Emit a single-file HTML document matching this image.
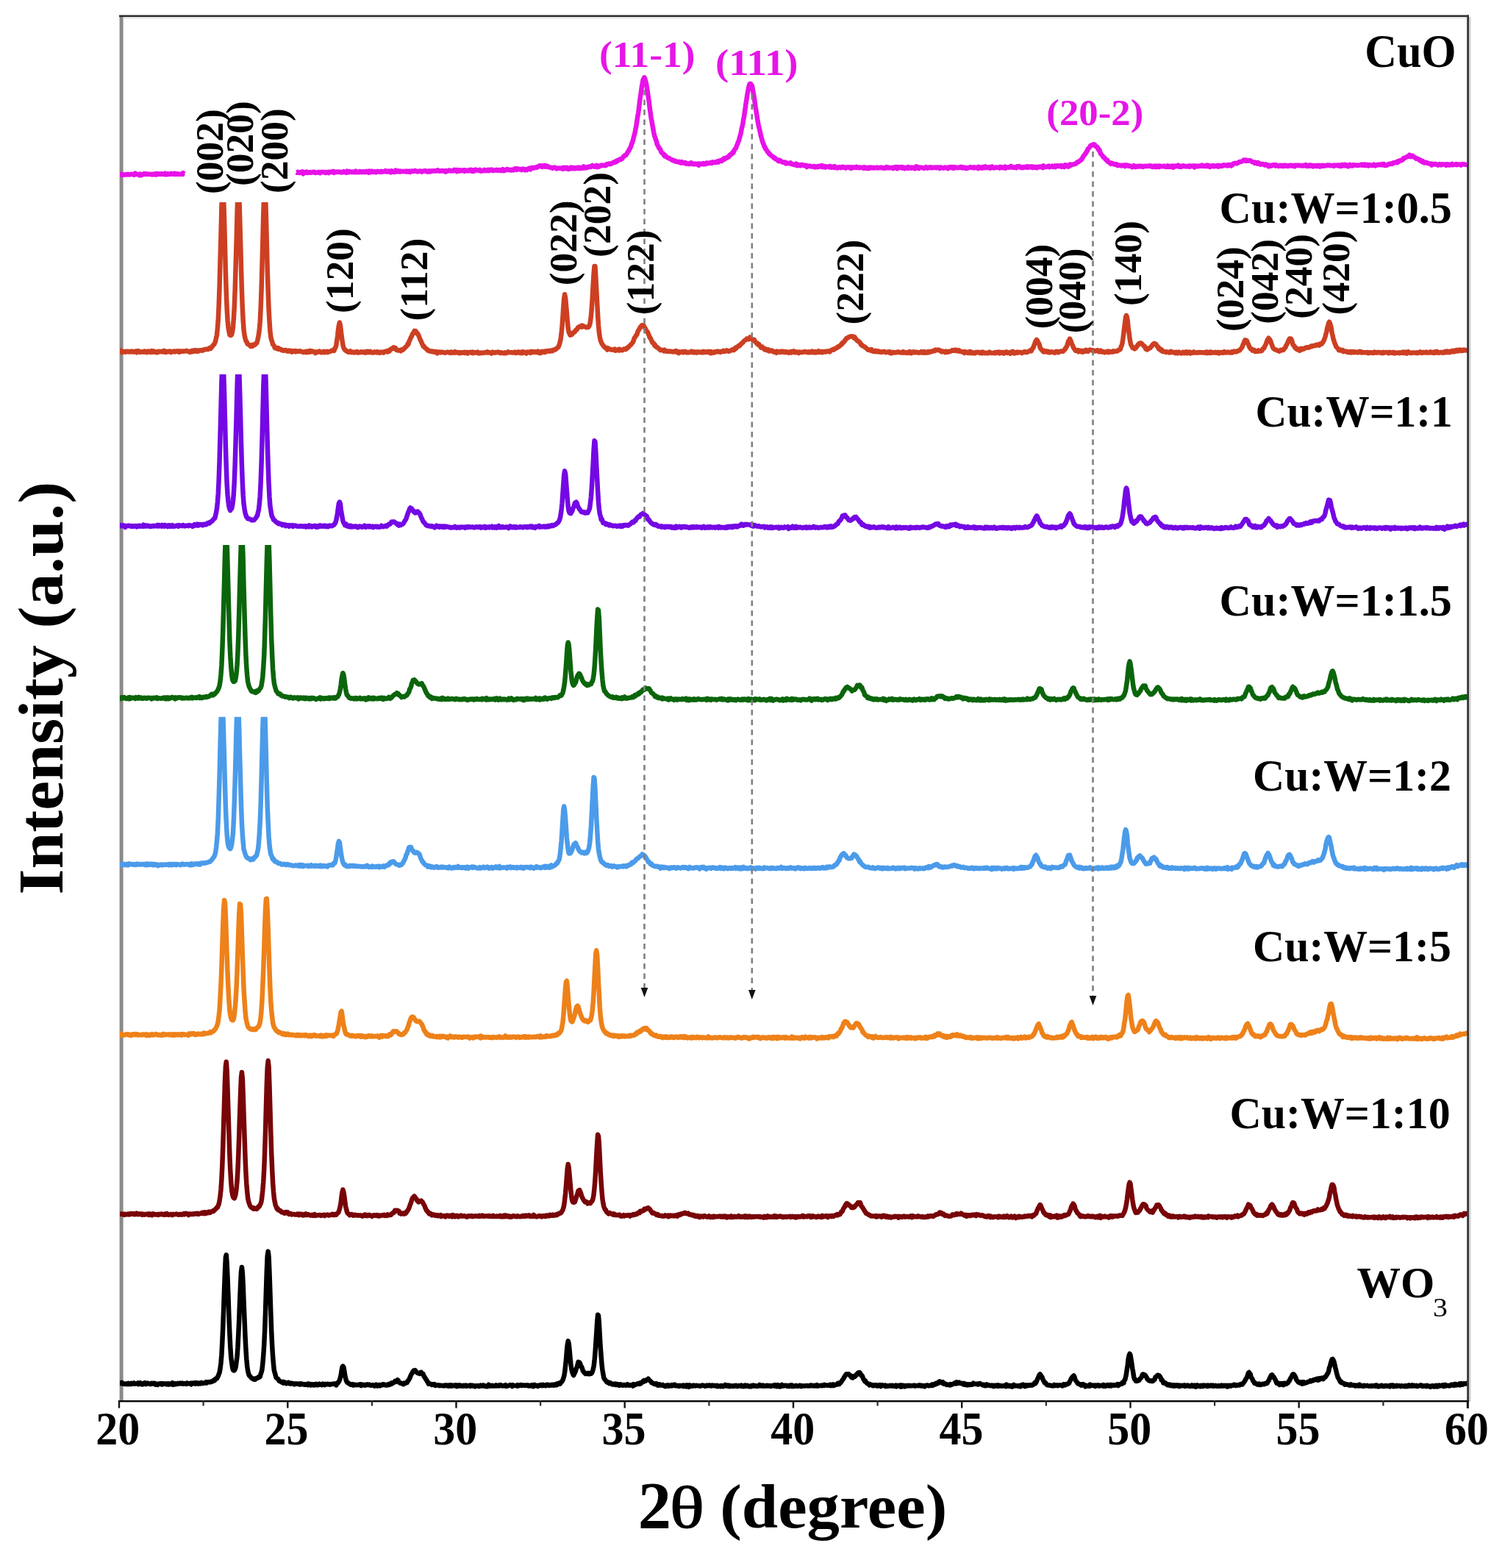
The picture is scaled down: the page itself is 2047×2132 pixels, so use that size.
<!DOCTYPE html><html><head><meta charset="utf-8"><title>XRD patterns of CuO, Cu:W samples and WO3</title>
<style>html,body{margin:0;padding:0;background:#fff;overflow:hidden;}svg{display:block;}text{font-family:"Liberation Serif","Times New Roman",serif;}</style></head><body>
<svg xmlns="http://www.w3.org/2000/svg" width="2047" height="2132" viewBox="0 0 2047 2132">
<rect width="2047" height="2132" fill="#fff"/>
<defs>
<clipPath id="c1"><rect x="150" y="275.0" width="1860" height="2000"/></clipPath>
<clipPath id="c2"><rect x="150" y="509.0" width="1860" height="2000"/></clipPath>
<clipPath id="c3"><rect x="150" y="741.0" width="1860" height="2000"/></clipPath>
<clipPath id="c4"><rect x="150" y="974.7" width="1860" height="2000"/></clipPath>
<clipPath id="plot"><rect x="163" y="23" width="1834" height="1881"/></clipPath>
</defs>
<rect x="162.6" y="21" width="5" height="1885" fill="#8a8a8a"/>
<g fill="none" stroke-width="6.5" stroke-linejoin="round" stroke-linecap="butt" clip-path="url(#plot)">
<path stroke="#e812e8" d="M162.0,237.6 L162.9,237.9 L163.8,237.6 L164.8,236.7 L165.7,237.9 L166.6,237.6 L167.5,237.1 L168.4,237.7 L169.3,237.5 L170.3,237.5 L171.2,237.3 L172.1,237.6 L173.0,236.9 L173.9,237.2 L174.8,237.0 L175.8,237.6 L176.7,237.3 L177.6,237.1 L178.5,236.8 L179.4,237.1 L180.3,237.2 L181.3,237.1 L182.2,237.9 L183.1,237.7 L184.0,235.7 L184.9,236.1 L185.8,237.1 L186.8,236.9 L187.7,237.3 L188.6,237.2 L189.5,238.3 L190.4,236.5 L191.3,236.9 L192.3,238.2 L193.2,237.4 L194.1,237.4 L195.0,236.8 L195.9,236.1 L196.8,237.1 L197.8,237.1 L198.7,236.3 L199.6,236.6 L200.5,237.0 L201.4,236.5 L202.3,236.9 L203.3,237.0 L204.2,237.0 L205.1,236.7 L206.0,237.3 L206.9,237.4 L207.8,237.1 L208.8,236.5 L209.7,237.3 L210.6,236.6 L211.5,237.4 L212.4,236.3 L213.4,237.4 L214.3,236.8 L215.2,236.1 L216.1,236.6 L217.0,236.8 L217.9,236.9 L218.9,236.2 L219.8,236.2 L220.7,236.9 L221.6,236.5 L222.5,236.9 L223.4,237.2 L224.4,235.8 L225.3,236.9 L226.2,237.4 L227.1,236.5 L228.0,236.2 L228.9,237.1 L229.9,236.8 L230.8,237.1 L231.7,236.5 L232.6,235.8 L233.5,236.6 L234.4,236.4 L235.4,237.0 L236.3,236.7 L237.2,235.7 L238.1,235.9 L239.0,237.0 L239.9,236.9 L240.9,236.2 L241.8,236.5 L242.7,236.8 L243.6,236.8 L244.5,237.0 L245.4,236.6 L246.4,236.4 L247.3,236.3 L248.2,237.0 L249.1,235.2 L250.0,236.4 L250.9,236.4 M403.2,234.1 L404.1,234.7 L405.0,233.9 L405.9,234.7 L406.8,234.6 L407.8,235.1 L408.7,234.1 L409.6,234.3 L410.5,234.8 L411.4,233.3 L412.3,236.3 L413.3,234.2 L414.2,234.2 L415.1,235.0 L416.0,234.5 L416.9,233.6 L417.8,234.9 L418.8,235.0 L419.7,234.3 L420.6,234.3 L421.5,234.8 L422.4,234.0 L423.3,234.7 L424.3,234.6 L425.2,234.1 L426.1,233.7 L427.0,234.3 L427.9,233.9 L428.8,235.0 L429.8,234.5 L430.7,234.8 L431.6,234.4 L432.5,234.5 L433.4,233.9 L434.3,234.7 L435.3,235.3 L436.2,234.2 L437.1,234.0 L438.0,234.2 L438.9,234.0 L439.9,233.9 L440.8,234.3 L441.7,234.1 L442.6,235.0 L443.5,234.2 L444.4,234.4 L445.4,234.7 L446.3,234.0 L447.2,235.0 L448.1,233.8 L449.0,233.7 L449.9,234.0 L450.9,234.1 L451.8,233.4 L452.7,234.1 L453.6,233.2 L454.5,234.9 L455.4,234.0 L456.4,233.7 L457.3,233.6 L458.2,233.9 L459.1,233.9 L460.0,233.5 L460.9,233.5 L461.9,233.9 L462.8,233.7 L463.7,234.5 L464.6,234.6 L465.5,234.0 L466.4,234.2 L467.4,233.2 L468.3,234.3 L469.2,233.9 L470.1,234.2 L471.0,234.8 L471.9,232.6 L472.9,234.0 L473.8,233.3 L474.7,234.2 L475.6,233.1 L476.5,233.6 L477.4,233.9 L478.4,234.2 L479.3,233.9 L480.2,233.4 L481.1,233.5 L482.0,234.3 L482.9,233.8 L483.9,232.8 L484.8,234.2 L485.7,234.0 L486.6,234.2 L487.5,233.5 L488.5,234.2 L489.4,233.1 L490.3,234.0 L491.2,233.4 L492.1,234.0 L493.0,234.2 L494.0,233.2 L494.9,233.6 L495.8,233.6 L496.7,234.3 L497.6,234.0 L498.5,232.9 L499.5,233.8 L500.4,234.0 L501.3,234.7 L502.2,232.6 L503.1,233.2 L504.0,234.2 L505.0,232.8 L505.9,232.8 L506.8,233.8 L507.7,234.0 L508.6,233.1 L509.5,233.7 L510.5,233.5 L511.4,234.3 L512.3,233.4 L513.2,233.9 L514.1,232.9 L515.0,233.3 L516.0,233.3 L516.9,234.0 L517.8,233.7 L518.7,232.9 L519.6,233.7 L520.5,233.7 L521.5,233.2 L522.4,233.1 L523.3,233.2 L524.2,232.3 L525.1,233.4 L526.0,233.4 L527.0,232.8 L527.9,233.6 L528.8,232.5 L529.7,232.9 L530.6,232.9 L531.6,234.3 L532.5,232.3 L533.4,233.5 L534.3,233.7 L535.2,233.3 L536.1,233.8 L537.1,232.6 L538.0,231.8 L538.9,233.5 L539.8,232.4 L540.7,232.9 L541.6,232.4 L542.6,233.6 L543.5,233.5 L544.4,232.6 L545.3,233.5 L546.2,233.1 L547.1,232.9 L548.1,233.0 L549.0,232.8 L549.9,233.3 L550.8,233.1 L551.7,232.7 L552.6,233.5 L553.6,232.6 L554.5,233.0 L555.4,233.1 L556.3,233.7 L557.2,232.6 L558.1,233.8 L559.1,232.9 L560.0,232.7 L560.9,232.4 L561.8,233.1 L562.7,232.8 L563.6,232.2 L564.6,232.1 L565.5,232.4 L566.4,232.4 L567.3,233.3 L568.2,233.5 L569.1,233.2 L570.1,232.9 L571.0,232.4 L571.9,232.7 L572.8,233.1 L573.7,233.8 L574.6,233.1 L575.6,232.5 L576.5,232.6 L577.4,232.3 L578.3,232.1 L579.2,232.5 L580.2,232.7 L581.1,233.5 L582.0,232.6 L582.9,233.3 L583.8,233.5 L584.7,232.5 L585.7,233.4 L586.6,232.9 L587.5,232.2 L588.4,232.6 L589.3,232.4 L590.2,232.3 L591.2,232.3 L592.1,232.5 L593.0,232.6 L593.9,231.9 L594.8,232.3 L595.7,231.5 L596.7,232.5 L597.6,232.7 L598.5,232.4 L599.4,232.4 L600.3,232.6 L601.2,231.9 L602.2,232.1 L603.1,232.5 L604.0,232.8 L604.9,232.4 L605.8,233.6 L606.7,232.1 L607.7,232.7 L608.6,232.9 L609.5,232.1 L610.4,231.7 L611.3,231.5 L612.2,232.2 L613.2,232.7 L614.1,232.2 L615.0,232.2 L615.9,231.8 L616.8,232.4 L617.7,230.9 L618.7,232.1 L619.6,232.0 L620.5,231.2 L621.4,233.2 L622.3,231.2 L623.3,231.4 L624.2,231.3 L625.1,232.6 L626.0,231.4 L626.9,232.3 L627.8,232.2 L628.8,232.1 L629.7,231.2 L630.6,231.6 L631.5,232.8 L632.4,231.2 L633.3,231.4 L634.3,231.8 L635.2,232.3 L636.1,232.0 L637.0,232.2 L637.9,231.2 L638.8,232.3 L639.8,232.1 L640.7,230.9 L641.6,232.6 L642.5,233.0 L643.4,231.3 L644.3,231.8 L645.3,232.5 L646.2,230.9 L647.1,230.6 L648.0,231.0 L648.9,231.4 L649.8,231.4 L650.8,232.0 L651.7,231.8 L652.6,231.0 L653.5,231.9 L654.4,232.7 L655.3,232.3 L656.3,232.1 L657.2,231.6 L658.1,232.1 L659.0,231.0 L659.9,232.0 L660.8,231.5 L661.8,232.2 L662.7,231.8 L663.6,230.9 L664.5,231.6 L665.4,232.2 L666.3,230.9 L667.3,231.2 L668.2,231.0 L669.1,230.6 L670.0,232.0 L670.9,232.1 L671.9,231.8 L672.8,231.5 L673.7,231.3 L674.6,231.5 L675.5,230.9 L676.4,231.8 L677.4,231.9 L678.3,231.8 L679.2,231.0 L680.1,231.3 L681.0,231.2 L681.9,232.2 L682.9,231.3 L683.8,230.2 L684.7,231.4 L685.6,232.2 L686.5,231.5 L687.4,231.6 L688.4,231.1 L689.3,230.0 L690.2,230.1 L691.1,230.4 L692.0,231.0 L692.9,231.2 L693.9,231.4 L694.8,230.8 L695.7,231.5 L696.6,230.8 L697.5,230.5 L698.4,231.4 L699.4,230.4 L700.3,229.4 L701.2,230.3 L702.1,230.9 L703.0,229.1 L703.9,230.6 L704.9,230.5 L705.8,229.9 L706.7,229.8 L707.6,230.4 L708.5,230.3 L709.4,231.2 L710.4,230.7 L711.3,229.6 L712.2,229.9 L713.1,230.7 L714.0,231.3 L715.0,230.4 L715.9,230.2 L716.8,231.0 L717.7,229.8 L718.6,229.5 L719.5,228.8 L720.5,229.1 L721.4,230.4 L722.3,228.3 L723.2,228.8 L724.1,227.8 L725.0,228.5 L726.0,228.6 L726.9,227.7 L727.8,228.0 L728.7,227.7 L729.6,227.3 L730.5,227.7 L731.5,226.9 L732.4,226.1 L733.3,225.6 L734.2,225.3 L735.1,225.9 L736.0,225.3 L737.0,226.9 L737.9,226.4 L738.8,225.3 L739.7,225.3 L740.6,226.6 L741.5,224.8 L742.5,225.7 L743.4,226.7 L744.3,225.9 L745.2,226.4 L746.1,226.7 L747.0,227.5 L748.0,227.4 L748.9,227.8 L749.8,228.1 L750.7,228.0 L751.6,228.8 L752.5,227.9 L753.5,227.7 L754.4,227.6 L755.3,227.8 L756.2,228.5 L757.1,229.5 L758.0,229.1 L759.0,228.7 L759.9,228.5 L760.8,228.8 L761.7,228.9 L762.6,228.8 L763.6,228.4 L764.5,228.9 L765.4,229.7 L766.3,228.0 L767.2,229.0 L768.1,228.0 L769.1,229.2 L770.0,228.7 L770.9,227.9 L771.8,229.1 L772.7,230.0 L773.6,229.0 L774.6,229.6 L775.5,228.9 L776.4,227.7 L777.3,229.1 L778.2,228.6 L779.1,228.0 L780.1,229.2 L781.0,228.8 L781.9,228.4 L782.8,229.1 L783.7,228.1 L784.6,228.9 L785.6,227.9 L786.5,228.7 L787.4,227.7 L788.3,229.1 L789.2,228.4 L790.1,229.0 L791.1,227.7 L792.0,227.8 L792.9,228.5 L793.8,226.4 L794.7,227.3 L795.6,228.4 L796.6,228.0 L797.5,228.2 L798.4,227.4 L799.3,227.8 L800.2,227.0 L801.1,226.6 L802.1,226.3 L803.0,226.9 L803.9,226.8 L804.8,226.6 L805.7,224.9 L806.7,225.7 L807.6,226.4 L808.5,226.7 L809.4,226.1 L810.3,225.9 L811.2,225.0 L812.2,227.2 L813.1,225.4 L814.0,226.8 L814.9,226.6 L815.8,225.7 L816.7,225.1 L817.7,225.3 L818.6,224.5 L819.5,225.1 L820.4,224.8 L821.3,224.9 L822.2,224.9 L823.2,225.2 L824.1,223.8 L825.0,224.4 L825.9,223.2 L826.8,222.9 L827.7,222.8 L828.7,222.4 L829.6,223.2 L830.5,222.9 L831.4,222.8 L832.3,221.8 L833.2,221.7 L834.2,220.9 L835.1,220.2 L836.0,220.8 L836.9,220.3 L837.8,219.1 L838.7,219.7 L839.7,218.0 L840.6,218.4 L841.5,217.6 L842.4,217.2 L843.3,216.3 L844.2,216.9 L845.2,216.1 L846.1,215.7 L847.0,214.5 L847.9,212.9 L848.8,212.7 L849.7,211.3 L850.7,211.3 L851.6,210.7 L852.5,209.1 L853.4,207.4 L854.3,206.1 L855.3,204.9 L856.2,202.4 L857.1,201.4 L858.0,199.3 L858.9,196.6 L859.8,194.0 L860.8,191.4 L861.7,187.6 L862.6,184.0 L863.5,180.8 L864.4,176.0 L865.3,171.9 L866.3,165.0 L867.2,158.7 L868.1,154.0 L869.0,147.4 L869.9,139.6 L870.8,132.2 L871.8,126.3 L872.7,119.0 L873.6,114.3 L874.5,109.0 L875.4,107.3 L876.3,105.3 L877.3,107.2 L878.2,110.8 L879.1,114.1 L880.0,120.1 L880.9,125.5 L881.8,132.1 L882.8,138.6 L883.7,146.8 L884.6,152.7 L885.5,159.8 L886.4,164.1 L887.3,169.9 L888.3,175.0 L889.2,180.1 L890.1,184.4 L891.0,186.6 L891.9,189.6 L892.8,192.1 L893.8,196.4 L894.7,197.9 L895.6,199.6 L896.5,201.8 L897.4,202.0 L898.4,204.0 L899.3,206.7 L900.2,207.6 L901.1,208.6 L902.0,208.9 L902.9,210.7 L903.9,212.2 L904.8,211.3 L905.7,212.7 L906.6,213.1 L907.5,214.2 L908.4,214.6 L909.4,215.0 L910.3,215.1 L911.2,216.1 L912.1,216.2 L913.0,216.9 L913.9,217.3 L914.9,218.1 L915.8,217.8 L916.7,218.2 L917.6,219.3 L918.5,218.9 L919.4,219.1 L920.4,220.0 L921.3,219.9 L922.2,220.1 L923.1,220.4 L924.0,219.8 L924.9,220.9 L925.9,221.6 L926.8,221.3 L927.7,220.3 L928.6,221.5 L929.5,221.0 L930.4,221.5 L931.4,221.8 L932.3,221.2 L933.2,222.7 L934.1,222.0 L935.0,222.6 L935.9,222.6 L936.9,223.1 L937.8,223.0 L938.7,221.6 L939.6,222.5 L940.5,221.4 L941.4,222.4 L942.4,223.1 L943.3,223.2 L944.2,223.4 L945.1,222.5 L946.0,222.9 L947.0,222.8 L947.9,223.5 L948.8,223.6 L949.7,222.6 L950.6,224.8 L951.5,222.7 L952.5,222.5 L953.4,223.0 L954.3,223.1 L955.2,222.9 L956.1,222.2 L957.0,223.3 L958.0,222.5 L958.9,223.2 L959.8,223.1 L960.7,221.5 L961.6,221.6 L962.5,221.5 L963.5,222.1 L964.4,221.8 L965.3,221.8 L966.2,221.1 L967.1,221.7 L968.0,222.1 L969.0,220.4 L969.9,220.9 L970.8,220.9 L971.7,220.6 L972.6,220.3 L973.5,221.2 L974.5,220.7 L975.4,220.3 L976.3,219.1 L977.2,220.5 L978.1,219.2 L979.0,218.4 L980.0,218.2 L980.9,217.8 L981.8,218.9 L982.7,217.5 L983.6,217.0 L984.5,215.4 L985.5,216.6 L986.4,215.1 L987.3,214.6 L988.2,215.0 L989.1,213.7 L990.1,214.0 L991.0,213.5 L991.9,211.2 L992.8,211.4 L993.7,209.8 L994.6,209.7 L995.6,209.3 L996.5,207.0 L997.4,207.6 L998.3,205.1 L999.2,203.2 L1000.1,202.3 L1001.1,201.0 L1002.0,197.9 L1002.9,196.5 L1003.8,193.3 L1004.7,192.0 L1005.6,188.5 L1006.6,184.8 L1007.5,182.0 L1008.4,176.7 L1009.3,172.8 L1010.2,169.2 L1011.1,162.9 L1012.1,158.2 L1013.0,151.8 L1013.9,145.2 L1014.8,139.3 L1015.7,133.5 L1016.6,127.5 L1017.6,122.1 L1018.5,117.9 L1019.4,114.5 L1020.3,113.8 L1021.2,114.0 L1022.1,115.7 L1023.1,117.3 L1024.0,122.9 L1024.9,127.6 L1025.8,132.5 L1026.7,139.3 L1027.6,145.8 L1028.6,151.7 L1029.5,157.6 L1030.4,163.3 L1031.3,168.4 L1032.2,172.7 L1033.1,176.0 L1034.1,180.7 L1035.0,185.0 L1035.9,187.9 L1036.8,191.5 L1037.7,194.3 L1038.7,196.3 L1039.6,199.5 L1040.5,199.9 L1041.4,202.7 L1042.3,203.5 L1043.2,204.8 L1044.2,206.8 L1045.1,207.3 L1046.0,209.2 L1046.9,209.1 L1047.8,210.7 L1048.7,211.0 L1049.7,212.2 L1050.6,212.8 L1051.5,213.1 L1052.4,214.7 L1053.3,214.2 L1054.2,214.9 L1055.2,216.5 L1056.1,217.0 L1057.0,217.3 L1057.9,217.6 L1058.8,219.1 L1059.7,217.6 L1060.7,218.2 L1061.6,218.4 L1062.5,219.8 L1063.4,219.8 L1064.3,220.6 L1065.2,220.8 L1066.2,220.4 L1067.1,220.4 L1068.0,220.5 L1068.9,222.5 L1069.8,222.1 L1070.7,222.1 L1071.7,221.8 L1072.6,222.1 L1073.5,222.2 L1074.4,222.4 L1075.3,221.5 L1076.2,222.9 L1077.2,222.9 L1078.1,223.4 L1079.0,223.6 L1079.9,224.1 L1080.8,223.7 L1081.8,224.3 L1082.7,222.6 L1083.6,223.5 L1084.5,225.2 L1085.4,223.7 L1086.3,224.3 L1087.3,225.0 L1088.2,224.2 L1089.1,225.2 L1090.0,224.1 L1090.9,224.0 L1091.8,224.4 L1092.8,224.3 L1093.7,225.3 L1094.6,225.2 L1095.5,225.6 L1096.4,225.0 L1097.3,227.0 L1098.3,225.6 L1099.2,225.7 L1100.1,226.1 L1101.0,225.7 L1101.9,225.6 L1102.8,226.1 L1103.8,226.6 L1104.7,226.5 L1105.6,226.7 L1106.5,225.9 L1107.4,225.9 L1108.3,227.4 L1109.3,226.3 L1110.2,226.7 L1111.1,226.9 L1112.0,227.3 L1112.9,225.8 L1113.8,226.4 L1114.8,226.4 L1115.7,226.5 L1116.6,225.4 L1117.5,226.7 L1118.4,225.2 L1119.3,227.0 L1120.3,227.2 L1121.2,227.3 L1122.1,226.3 L1123.0,227.5 L1123.9,226.5 L1124.8,226.4 L1125.8,226.5 L1126.7,226.6 L1127.6,227.2 L1128.5,227.6 L1129.4,226.0 L1130.4,226.9 L1131.3,227.7 L1132.2,227.4 L1133.1,227.6 L1134.0,226.5 L1134.9,227.9 L1135.9,226.5 L1136.8,227.5 L1137.7,228.2 L1138.6,228.5 L1139.5,227.7 L1140.4,228.0 L1141.4,227.2 L1142.3,227.2 L1143.2,228.2 L1144.1,227.5 L1145.0,227.5 L1145.9,226.8 L1146.9,227.7 L1147.8,228.0 L1148.7,227.2 L1149.6,227.4 L1150.5,228.5 L1151.4,227.8 L1152.4,227.5 L1153.3,227.1 L1154.2,227.4 L1155.1,227.6 L1156.0,228.5 L1156.9,227.4 L1157.9,228.7 L1158.8,227.3 L1159.7,227.6 L1160.6,228.2 L1161.5,227.7 L1162.4,227.3 L1163.4,227.7 L1164.3,228.1 L1165.2,226.9 L1166.1,227.7 L1167.0,227.8 L1167.9,227.6 L1168.9,228.3 L1169.8,227.6 L1170.7,227.7 L1171.6,227.9 L1172.5,228.3 L1173.5,227.8 L1174.4,228.7 L1175.3,227.4 L1176.2,228.6 L1177.1,227.5 L1178.0,227.8 L1179.0,228.1 L1179.9,229.1 L1180.8,228.4 L1181.7,227.7 L1182.6,228.7 L1183.5,227.9 L1184.5,227.5 L1185.4,228.2 L1186.3,228.0 L1187.2,228.5 L1188.1,227.7 L1189.0,228.2 L1190.0,228.4 L1190.9,228.2 L1191.8,228.0 L1192.7,227.6 L1193.6,228.5 L1194.5,228.1 L1195.5,228.3 L1196.4,227.8 L1197.3,228.0 L1198.2,227.5 L1199.1,228.1 L1200.0,228.5 L1201.0,228.1 L1201.9,228.5 L1202.8,228.2 L1203.7,228.8 L1204.6,227.9 L1205.5,227.1 L1206.5,228.3 L1207.4,228.0 L1208.3,227.5 L1209.2,228.4 L1210.1,228.2 L1211.0,228.3 L1212.0,227.9 L1212.9,228.2 L1213.8,228.2 L1214.7,229.0 L1215.6,227.7 L1216.5,228.1 L1217.5,228.3 L1218.4,227.1 L1219.3,227.2 L1220.2,229.3 L1221.1,227.1 L1222.1,228.4 L1223.0,227.6 L1223.9,227.6 L1224.8,227.0 L1225.7,227.6 L1226.6,228.5 L1227.6,227.3 L1228.5,228.4 L1229.4,228.2 L1230.3,229.2 L1231.2,227.8 L1232.1,228.8 L1233.1,228.5 L1234.0,227.9 L1234.9,227.1 L1235.8,228.9 L1236.7,227.3 L1237.6,227.8 L1238.6,228.5 L1239.5,228.7 L1240.4,227.6 L1241.3,228.0 L1242.2,227.9 L1243.1,228.7 L1244.1,229.4 L1245.0,227.0 L1245.9,228.5 L1246.8,226.5 L1247.7,228.0 L1248.6,227.4 L1249.6,229.1 L1250.5,228.1 L1251.4,227.6 L1252.3,227.8 L1253.2,227.7 L1254.1,228.1 L1255.1,227.9 L1256.0,228.4 L1256.9,228.9 L1257.8,228.4 L1258.7,227.3 L1259.6,227.1 L1260.6,227.6 L1261.5,228.6 L1262.4,227.8 L1263.3,227.6 L1264.2,228.1 L1265.2,227.2 L1266.1,227.4 L1267.0,228.3 L1267.9,227.8 L1268.8,227.7 L1269.7,228.2 L1270.7,227.7 L1271.6,227.6 L1272.5,227.7 L1273.4,228.3 L1274.3,228.0 L1275.2,227.3 L1276.2,227.8 L1277.1,228.3 L1278.0,229.0 L1278.9,227.3 L1279.8,228.1 L1280.7,227.8 L1281.7,228.4 L1282.6,228.2 L1283.5,228.7 L1284.4,228.2 L1285.3,227.6 L1286.2,227.6 L1287.2,228.1 L1288.1,228.1 L1289.0,229.2 L1289.9,228.8 L1290.8,227.3 L1291.7,228.1 L1292.7,227.2 L1293.6,227.0 L1294.5,228.3 L1295.4,228.2 L1296.3,227.3 L1297.2,228.8 L1298.2,227.3 L1299.1,227.2 L1300.0,228.2 L1300.9,228.0 L1301.8,227.8 L1302.7,227.8 L1303.7,228.0 L1304.6,227.8 L1305.5,227.8 L1306.4,226.8 L1307.3,227.1 L1308.2,228.2 L1309.2,227.4 L1310.1,228.1 L1311.0,228.5 L1311.9,227.6 L1312.8,228.0 L1313.8,229.0 L1314.7,228.2 L1315.6,228.8 L1316.5,228.6 L1317.4,228.2 L1318.3,227.7 L1319.3,227.3 L1320.2,227.2 L1321.1,228.0 L1322.0,228.0 L1322.9,227.7 L1323.8,228.2 L1324.8,227.4 L1325.7,228.4 L1326.6,227.8 L1327.5,227.7 L1328.4,227.7 L1329.3,227.7 L1330.3,229.1 L1331.2,226.8 L1332.1,227.8 L1333.0,228.4 L1333.9,228.1 L1334.8,227.5 L1335.8,228.6 L1336.7,227.1 L1337.6,227.0 L1338.5,228.0 L1339.4,226.9 L1340.3,226.4 L1341.3,228.1 L1342.2,228.1 L1343.1,228.1 L1344.0,227.4 L1344.9,227.7 L1345.8,227.1 L1346.8,228.6 L1347.7,228.1 L1348.6,228.0 L1349.5,226.5 L1350.4,228.0 L1351.3,228.4 L1352.3,228.3 L1353.2,228.0 L1354.1,227.6 L1355.0,227.4 L1355.9,227.9 L1356.9,227.8 L1357.8,227.7 L1358.7,227.4 L1359.6,228.5 L1360.5,226.9 L1361.4,227.5 L1362.4,227.2 L1363.3,228.1 L1364.2,228.3 L1365.1,228.2 L1366.0,227.9 L1366.9,226.7 L1367.9,228.6 L1368.8,227.8 L1369.7,227.4 L1370.6,227.5 L1371.5,227.3 L1372.4,227.7 L1373.4,227.6 L1374.3,227.2 L1375.2,226.0 L1376.1,227.4 L1377.0,227.7 L1377.9,227.7 L1378.9,227.3 L1379.8,227.6 L1380.7,227.9 L1381.6,227.1 L1382.5,228.2 L1383.4,226.3 L1384.4,226.6 L1385.3,226.8 L1386.2,226.0 L1387.1,226.7 L1388.0,228.0 L1388.9,228.0 L1389.9,227.3 L1390.8,228.2 L1391.7,227.4 L1392.6,227.0 L1393.5,227.4 L1394.4,227.1 L1395.4,227.6 L1396.3,226.4 L1397.2,227.7 L1398.1,226.9 L1399.0,227.6 L1399.9,226.3 L1400.9,226.9 L1401.8,227.2 L1402.7,227.6 L1403.6,226.4 L1404.5,228.0 L1405.5,227.3 L1406.4,226.8 L1407.3,227.7 L1408.2,227.1 L1409.1,227.6 L1410.0,228.3 L1411.0,227.4 L1411.9,226.7 L1412.8,226.7 L1413.7,227.2 L1414.6,227.1 L1415.5,226.4 L1416.5,226.5 L1417.4,227.2 L1418.3,228.1 L1419.2,225.4 L1420.1,227.2 L1421.0,226.7 L1422.0,227.2 L1422.9,227.2 L1423.8,226.7 L1424.7,226.1 L1425.6,225.9 L1426.5,225.6 L1427.5,227.3 L1428.4,226.5 L1429.3,226.2 L1430.2,226.4 L1431.1,225.7 L1432.0,226.6 L1433.0,227.1 L1433.9,227.0 L1434.8,225.5 L1435.7,227.0 L1436.6,225.8 L1437.5,225.2 L1438.5,225.5 L1439.4,225.6 L1440.3,226.1 L1441.2,225.5 L1442.1,225.1 L1443.0,225.8 L1444.0,226.9 L1444.9,225.4 L1445.8,226.0 L1446.7,225.7 L1447.6,227.0 L1448.6,224.4 L1449.5,226.0 L1450.4,224.6 L1451.3,224.9 L1452.2,225.0 L1453.1,226.7 L1454.1,224.4 L1455.0,223.6 L1455.9,225.2 L1456.8,223.8 L1457.7,223.9 L1458.6,223.8 L1459.6,223.6 L1460.5,223.2 L1461.4,223.1 L1462.3,222.8 L1463.2,222.6 L1464.1,221.5 L1465.1,220.8 L1466.0,220.0 L1466.9,220.3 L1467.8,219.2 L1468.7,218.8 L1469.6,217.9 L1470.6,217.6 L1471.5,215.8 L1472.4,215.0 L1473.3,212.8 L1474.2,211.6 L1475.1,210.7 L1476.1,208.9 L1477.0,208.5 L1477.9,205.9 L1478.8,205.3 L1479.7,202.4 L1480.6,201.8 L1481.6,200.8 L1482.5,199.6 L1483.4,197.7 L1484.3,197.9 L1485.2,197.7 L1486.1,197.1 L1487.1,196.2 L1488.0,196.4 L1488.9,196.4 L1489.8,198.1 L1490.7,199.4 L1491.6,199.4 L1492.6,200.0 L1493.5,202.4 L1494.4,204.1 L1495.3,203.6 L1496.2,206.7 L1497.2,209.2 L1498.1,209.9 L1499.0,211.1 L1499.9,212.3 L1500.8,213.9 L1501.7,213.9 L1502.7,215.0 L1503.6,216.7 L1504.5,217.0 L1505.4,218.4 L1506.3,218.0 L1507.2,220.1 L1508.2,220.8 L1509.1,221.0 L1510.0,221.5 L1510.9,222.8 L1511.8,221.7 L1512.7,222.2 L1513.7,222.4 L1514.6,223.0 L1515.5,223.0 L1516.4,223.8 L1517.3,223.6 L1518.2,223.3 L1519.2,223.4 L1520.1,225.1 L1521.0,224.5 L1521.9,224.6 L1522.8,224.8 L1523.7,224.8 L1524.7,225.4 L1525.6,225.4 L1526.5,224.8 L1527.4,224.7 L1528.3,224.7 L1529.2,224.6 L1530.2,226.1 L1531.1,224.9 L1532.0,224.3 L1532.9,225.0 L1533.8,225.1 L1534.7,225.8 L1535.7,225.1 L1536.6,225.9 L1537.5,225.9 L1538.4,226.4 L1539.3,226.9 L1540.3,227.3 L1541.2,226.5 L1542.1,225.2 L1543.0,225.6 L1543.9,226.0 L1544.8,227.0 L1545.8,226.3 L1546.7,226.6 L1547.6,225.8 L1548.5,226.3 L1549.4,226.4 L1550.3,225.7 L1551.3,226.4 L1552.2,226.6 L1553.1,225.9 L1554.0,226.6 L1554.9,227.0 L1555.8,226.1 L1556.8,226.1 L1557.7,225.9 L1558.6,225.7 L1559.5,226.2 L1560.4,225.9 L1561.3,225.9 L1562.3,225.7 L1563.2,225.3 L1564.1,225.6 L1565.0,226.3 L1565.9,225.5 L1566.8,225.8 L1567.8,227.0 L1568.7,226.8 L1569.6,225.8 L1570.5,226.5 L1571.4,225.8 L1572.3,227.1 L1573.3,225.8 L1574.2,226.2 L1575.1,226.9 L1576.0,225.7 L1576.9,226.9 L1577.8,225.7 L1578.8,226.3 L1579.7,226.0 L1580.6,226.1 L1581.5,226.3 L1582.4,226.1 L1583.3,225.6 L1584.3,226.6 L1585.2,226.6 L1586.1,226.9 L1587.0,226.9 L1587.9,225.4 L1588.9,226.9 L1589.8,226.9 L1590.7,225.9 L1591.6,226.7 L1592.5,227.0 L1593.4,225.9 L1594.4,225.4 L1595.3,225.9 L1596.2,227.7 L1597.1,226.3 L1598.0,225.5 L1598.9,226.0 L1599.9,225.6 L1600.8,225.9 L1601.7,226.2 L1602.6,224.7 L1603.5,226.3 L1604.4,226.9 L1605.4,226.0 L1606.3,225.9 L1607.2,226.7 L1608.1,225.4 L1609.0,225.4 L1609.9,225.3 L1610.9,226.0 L1611.8,226.3 L1612.7,226.0 L1613.6,226.4 L1614.5,226.5 L1615.4,226.3 L1616.4,225.6 L1617.3,225.9 L1618.2,226.7 L1619.1,225.5 L1620.0,225.9 L1620.9,225.8 L1621.9,225.9 L1622.8,225.4 L1623.7,225.3 L1624.6,227.4 L1625.5,226.5 L1626.4,225.6 L1627.4,225.9 L1628.3,226.3 L1629.2,225.8 L1630.1,226.3 L1631.0,225.6 L1632.0,225.7 L1632.9,225.9 L1633.8,225.7 L1634.7,224.6 L1635.6,225.9 L1636.5,226.0 L1637.5,226.1 L1638.4,225.3 L1639.3,226.0 L1640.2,226.0 L1641.1,224.9 L1642.0,224.6 L1643.0,226.1 L1643.9,225.3 L1644.8,226.3 L1645.7,227.0 L1646.6,225.4 L1647.5,225.4 L1648.5,225.7 L1649.4,226.1 L1650.3,225.1 L1651.2,226.4 L1652.1,226.2 L1653.0,226.0 L1654.0,225.3 L1654.9,226.1 L1655.8,226.0 L1656.7,224.9 L1657.6,226.7 L1658.5,225.3 L1659.5,225.7 L1660.4,225.1 L1661.3,225.6 L1662.2,226.0 L1663.1,224.9 L1664.0,224.3 L1665.0,224.9 L1665.9,224.4 L1666.8,224.6 L1667.7,224.9 L1668.6,224.8 L1669.5,225.5 L1670.5,224.1 L1671.4,224.7 L1672.3,224.1 L1673.2,225.0 L1674.1,225.5 L1675.0,224.0 L1676.0,224.6 L1676.9,223.2 L1677.8,222.3 L1678.7,222.3 L1679.6,221.8 L1680.6,221.9 L1681.5,222.0 L1682.4,222.4 L1683.3,221.8 L1684.2,221.4 L1685.1,220.5 L1686.1,220.0 L1687.0,220.1 L1687.9,219.8 L1688.8,219.5 L1689.7,219.3 L1690.6,218.7 L1691.6,217.5 L1692.5,217.7 L1693.4,217.7 L1694.3,218.9 L1695.2,217.7 L1696.1,218.3 L1697.1,218.8 L1698.0,218.3 L1698.9,218.1 L1699.8,218.3 L1700.7,218.2 L1701.6,219.2 L1702.6,219.9 L1703.5,220.0 L1704.4,220.4 L1705.3,220.7 L1706.2,221.8 L1707.1,220.6 L1708.1,221.4 L1709.0,222.0 L1709.9,222.6 L1710.8,220.9 L1711.7,222.2 L1712.6,222.7 L1713.6,222.5 L1714.5,223.7 L1715.4,223.6 L1716.3,223.4 L1717.2,222.9 L1718.1,223.3 L1719.1,223.6 L1720.0,224.5 L1720.9,223.7 L1721.8,223.3 L1722.7,223.8 L1723.7,224.3 L1724.6,225.6 L1725.5,226.2 L1726.4,224.6 L1727.3,225.4 L1728.2,225.7 L1729.2,225.7 L1730.1,224.9 L1731.0,224.3 L1731.9,224.8 L1732.8,224.1 L1733.7,225.2 L1734.7,225.6 L1735.6,224.1 L1736.5,225.1 L1737.4,225.3 L1738.3,225.9 L1739.2,225.9 L1740.2,225.6 L1741.1,224.8 L1742.0,225.0 L1742.9,225.9 L1743.8,224.9 L1744.7,225.2 L1745.7,226.1 L1746.6,225.3 L1747.5,224.5 L1748.4,225.1 L1749.3,225.6 L1750.2,225.1 L1751.2,225.9 L1752.1,226.0 L1753.0,224.9 L1753.9,225.0 L1754.8,225.2 L1755.7,224.6 L1756.7,225.5 L1757.6,225.2 L1758.5,225.7 L1759.4,224.9 L1760.3,224.8 L1761.2,226.3 L1762.2,224.8 L1763.1,224.9 L1764.0,224.8 L1764.9,225.1 L1765.8,224.7 L1766.7,225.2 L1767.7,224.8 L1768.6,225.0 L1769.5,225.4 L1770.4,225.6 L1771.3,225.5 L1772.3,224.8 L1773.2,225.4 L1774.1,225.1 L1775.0,225.2 L1775.9,224.3 L1776.8,225.6 L1777.8,225.1 L1778.7,226.1 L1779.6,225.5 L1780.5,224.6 L1781.4,224.4 L1782.3,225.8 L1783.3,224.7 L1784.2,225.5 L1785.1,225.0 L1786.0,226.3 L1786.9,225.2 L1787.8,226.0 L1788.8,225.9 L1789.7,224.9 L1790.6,225.0 L1791.5,226.0 L1792.4,225.1 L1793.3,224.7 L1794.3,225.8 L1795.2,226.5 L1796.1,225.1 L1797.0,225.9 L1797.9,225.0 L1798.8,225.9 L1799.8,225.0 L1800.7,225.8 L1801.6,225.4 L1802.5,225.0 L1803.4,225.2 L1804.3,224.8 L1805.3,224.5 L1806.2,224.5 L1807.1,225.0 L1808.0,224.5 L1808.9,225.3 L1809.8,225.3 L1810.8,225.3 L1811.7,224.8 L1812.6,225.1 L1813.5,225.0 L1814.4,225.8 L1815.4,224.6 L1816.3,224.8 L1817.2,224.9 L1818.1,224.9 L1819.0,224.6 L1819.9,224.6 L1820.9,225.5 L1821.8,224.6 L1822.7,225.5 L1823.6,226.1 L1824.5,225.7 L1825.4,224.0 L1826.4,225.4 L1827.3,225.2 L1828.2,225.2 L1829.1,224.0 L1830.0,225.3 L1830.9,224.3 L1831.9,225.6 L1832.8,225.5 L1833.7,226.3 L1834.6,224.7 L1835.5,224.0 L1836.4,225.4 L1837.4,225.3 L1838.3,224.6 L1839.2,225.6 L1840.1,225.2 L1841.0,224.1 L1841.9,224.6 L1842.9,224.5 L1843.8,224.7 L1844.7,224.9 L1845.6,224.4 L1846.5,224.6 L1847.4,225.1 L1848.4,224.7 L1849.3,224.6 L1850.2,224.5 L1851.1,224.6 L1852.0,223.6 L1852.9,224.7 L1853.9,224.1 L1854.8,224.7 L1855.7,223.8 L1856.6,225.1 L1857.5,224.7 L1858.4,223.8 L1859.4,224.7 L1860.3,224.1 L1861.2,225.5 L1862.1,224.8 L1863.0,224.1 L1864.0,224.6 L1864.9,224.4 L1865.8,225.1 L1866.7,224.6 L1867.6,224.7 L1868.5,223.8 L1869.5,224.8 L1870.4,225.5 L1871.3,224.7 L1872.2,224.3 L1873.1,224.4 L1874.0,223.7 L1875.0,224.3 L1875.9,223.6 L1876.8,224.2 L1877.7,223.9 L1878.6,223.6 L1879.5,224.4 L1880.5,223.2 L1881.4,223.9 L1882.3,223.2 L1883.2,224.9 L1884.1,224.9 L1885.0,224.2 L1886.0,224.7 L1886.9,223.9 L1887.8,223.7 L1888.7,223.1 L1889.6,222.7 L1890.5,223.2 L1891.5,222.6 L1892.4,222.5 L1893.3,223.0 L1894.2,222.3 L1895.1,221.3 L1896.0,221.8 L1897.0,221.2 L1897.9,221.1 L1898.8,220.4 L1899.7,221.3 L1900.6,221.3 L1901.5,219.2 L1902.5,219.7 L1903.4,219.3 L1904.3,217.9 L1905.2,218.0 L1906.1,218.2 L1907.1,217.3 L1908.0,217.2 L1908.9,215.1 L1909.8,214.8 L1910.7,214.9 L1911.6,214.4 L1912.6,213.7 L1913.5,213.1 L1914.4,212.7 L1915.3,212.3 L1916.2,212.6 L1917.1,210.7 L1918.1,213.1 L1919.0,211.9 L1919.9,211.6 L1920.8,212.9 L1921.7,212.1 L1922.6,213.4 L1923.6,213.4 L1924.5,214.4 L1925.4,215.0 L1926.3,215.8 L1927.2,215.4 L1928.1,216.0 L1929.1,216.7 L1930.0,216.5 L1930.9,218.1 L1931.8,218.3 L1932.7,218.0 L1933.6,219.8 L1934.6,220.3 L1935.5,219.3 L1936.4,220.7 L1937.3,221.4 L1938.2,221.5 L1939.1,220.8 L1940.1,220.8 L1941.0,221.8 L1941.9,221.8 L1942.8,222.2 L1943.7,222.3 L1944.6,222.8 L1945.6,222.4 L1946.5,222.7 L1947.4,224.6 L1948.3,222.9 L1949.2,223.5 L1950.1,223.3 L1951.1,223.4 L1952.0,222.8 L1952.9,223.6 L1953.8,223.4 L1954.7,223.9 L1955.7,224.6 L1956.6,223.6 L1957.5,223.9 L1958.4,223.0 L1959.3,223.6 L1960.2,224.4 L1961.2,223.6 L1962.1,223.3 L1963.0,223.7 L1963.9,223.5 L1964.8,223.5 L1965.7,223.5 L1966.7,224.8 L1967.6,223.2 L1968.5,223.5 L1969.4,223.4 L1970.3,224.4 L1971.2,223.6 L1972.2,224.4 L1973.1,223.8 L1974.0,223.7 L1974.9,222.9 L1975.8,224.4 L1976.7,224.0 L1977.7,223.9 L1978.6,223.7 L1979.5,223.5 L1980.4,223.0 L1981.3,224.2 L1982.2,223.9 L1983.2,223.5 L1984.1,223.4 L1985.0,223.8 L1985.9,223.6 L1986.8,224.6 L1987.7,224.1 L1988.7,223.4 L1989.6,223.1 L1990.5,223.5 L1991.4,223.2 L1992.3,223.7 L1993.2,223.9 L1994.2,224.0 L1995.1,223.9 L1996.0,223.5"/>
<path clip-path="url(#c1)" stroke="#cd3f22" d="M162.0,478.3 L162.9,477.9 L163.8,477.9 L164.8,476.8 L165.7,479.1 L166.6,478.8 L167.5,478.0 L168.4,478.6 L169.3,478.3 L170.3,477.9 L171.2,478.7 L172.1,478.0 L173.0,478.0 L173.9,477.7 L174.8,478.4 L175.8,478.1 L176.7,478.5 L177.6,477.8 L178.5,478.2 L179.4,477.7 L180.3,478.6 L181.3,478.3 L182.2,478.4 L183.1,478.4 L184.0,477.6 L184.9,478.6 L185.8,479.3 L186.8,477.3 L187.7,477.2 L188.6,477.3 L189.5,478.6 L190.4,478.2 L191.3,478.8 L192.3,478.6 L193.2,478.3 L194.1,478.3 L195.0,478.1 L195.9,478.7 L196.8,477.6 L197.8,477.9 L198.7,478.3 L199.6,479.2 L200.5,477.7 L201.4,477.6 L202.3,477.9 L203.3,478.7 L204.2,478.0 L205.1,478.9 L206.0,477.1 L206.9,478.8 L207.8,478.7 L208.8,477.4 L209.7,478.2 L210.6,478.8 L211.5,478.2 L212.4,478.7 L213.4,479.4 L214.3,478.3 L215.2,478.0 L216.1,477.7 L217.0,478.5 L217.9,478.0 L218.9,478.0 L219.8,478.1 L220.7,478.5 L221.6,477.5 L222.5,477.3 L223.4,476.8 L224.4,478.8 L225.3,478.1 L226.2,478.9 L227.1,478.1 L228.0,477.7 L228.9,478.3 L229.9,478.0 L230.8,477.4 L231.7,477.6 L232.6,479.0 L233.5,478.2 L234.4,478.2 L235.4,477.9 L236.3,477.6 L237.2,478.5 L238.1,477.9 L239.0,477.5 L239.9,477.9 L240.9,477.4 L241.8,478.0 L242.7,478.5 L243.6,477.4 L244.5,478.7 L245.4,477.5 L246.4,477.9 L247.3,477.4 L248.2,477.7 L249.1,477.8 L250.0,477.5 L250.9,477.4 L251.9,477.4 L252.8,477.3 L253.7,476.8 L254.6,477.5 L255.5,477.8 L256.5,478.1 L257.4,477.9 L258.3,478.9 L259.2,477.7 L260.1,477.2 L261.0,478.4 L262.0,476.8 L262.9,477.9 L263.8,476.7 L264.7,477.4 L265.6,476.1 L266.5,477.6 L267.5,476.9 L268.4,476.4 L269.3,477.8 L270.2,477.2 L271.1,476.7 L272.0,476.2 L273.0,476.5 L273.9,476.3 L274.8,476.7 L275.7,476.6 L276.6,475.6 L277.5,475.5 L278.5,475.4 L279.4,474.7 L280.3,474.9 L281.2,475.0 L282.1,475.1 L283.0,475.1 L284.0,473.6 L284.9,474.0 L285.8,473.0 L286.7,473.8 L287.6,472.0 L288.5,471.6 L289.5,469.9 L290.4,469.0 L291.3,468.2 L292.2,466.2 L293.1,464.2 L294.0,459.6 L295.0,455.4 L295.9,446.0 L296.8,434.3 L297.7,414.1 L298.6,388.8 L299.5,354.9 L300.5,319.1 L301.4,282.9 L302.3,257.8 L303.2,252.2 L304.1,268.0 L305.1,299.5 L306.0,336.2 L306.9,370.8 L307.8,399.2 L308.7,420.3 L309.6,435.8 L310.6,445.9 L311.5,450.6 L312.4,455.3 L313.3,456.0 L314.2,455.8 L315.1,454.8 L316.1,451.0 L317.0,444.1 L317.9,432.6 L318.8,416.7 L319.7,393.3 L320.6,362.3 L321.6,328.1 L322.5,292.1 L323.4,262.7 L324.3,253.0 L325.2,263.4 L326.1,293.3 L327.1,329.2 L328.0,363.8 L328.9,394.7 L329.8,419.2 L330.7,436.3 L331.6,448.8 L332.6,455.9 L333.5,460.0 L334.4,463.5 L335.3,464.1 L336.2,466.8 L337.1,468.1 L338.1,468.4 L339.0,468.6 L339.9,469.8 L340.8,470.8 L341.7,470.0 L342.6,469.3 L343.6,470.7 L344.5,468.6 L345.4,469.6 L346.3,468.5 L347.2,468.6 L348.2,466.7 L349.1,466.6 L350.0,464.1 L350.9,460.0 L351.8,455.2 L352.7,448.7 L353.7,438.0 L354.6,420.2 L355.5,396.1 L356.4,365.1 L357.3,329.8 L358.2,293.3 L359.2,264.8 L360.1,253.0 L361.0,265.4 L361.9,294.2 L362.8,329.1 L363.7,367.0 L364.7,397.2 L365.6,420.7 L366.5,437.3 L367.4,450.4 L368.3,458.0 L369.2,462.2 L370.2,464.7 L371.1,468.4 L372.0,469.0 L372.9,470.3 L373.8,473.1 L374.7,473.5 L375.7,473.5 L376.6,473.3 L377.5,474.4 L378.4,473.2 L379.3,474.9 L380.2,474.7 L381.2,474.7 L382.1,474.8 L383.0,476.2 L383.9,476.2 L384.8,476.4 L385.7,476.9 L386.7,476.2 L387.6,476.1 L388.5,475.9 L389.4,476.8 L390.3,477.5 L391.2,477.1 L392.2,477.6 L393.1,476.7 L394.0,477.2 L394.9,477.1 L395.8,476.9 L396.8,478.7 L397.7,478.2 L398.6,477.3 L399.5,477.4 L400.4,477.8 L401.3,477.1 L402.3,478.2 L403.2,477.3 L404.1,477.8 L405.0,477.5 L405.9,477.8 L406.8,477.4 L407.8,477.3 L408.7,477.7 L409.6,477.8 L410.5,478.1 L411.4,478.3 L412.3,479.1 L413.3,478.8 L414.2,478.2 L415.1,478.8 L416.0,478.0 L416.9,479.2 L417.8,478.7 L418.8,477.7 L419.7,478.9 L420.6,478.9 L421.5,477.0 L422.4,478.1 L423.3,478.2 L424.3,477.4 L425.2,477.9 L426.1,478.0 L427.0,478.8 L427.9,478.7 L428.8,480.0 L429.8,478.3 L430.7,479.2 L431.6,478.6 L432.5,478.7 L433.4,477.9 L434.3,477.5 L435.3,478.1 L436.2,478.9 L437.1,479.4 L438.0,478.8 L438.9,478.8 L439.9,478.0 L440.8,479.3 L441.7,479.2 L442.6,478.1 L443.5,478.3 L444.4,477.8 L445.4,479.1 L446.3,478.4 L447.2,478.1 L448.1,478.2 L449.0,478.1 L449.9,477.5 L450.9,476.9 L451.8,476.6 L452.7,476.0 L453.6,476.8 L454.5,477.0 L455.4,473.7 L456.4,472.6 L457.3,469.3 L458.2,463.4 L459.1,457.1 L460.0,448.4 L460.9,442.5 L461.9,438.5 L462.8,441.9 L463.7,449.4 L464.6,456.8 L465.5,463.0 L466.4,468.9 L467.4,473.0 L468.3,474.6 L469.2,476.0 L470.1,476.0 L471.0,477.2 L471.9,477.8 L472.9,477.7 L473.8,478.9 L474.7,477.9 L475.6,477.6 L476.5,477.4 L477.4,479.0 L478.4,478.4 L479.3,479.1 L480.2,478.8 L481.1,479.5 L482.0,479.3 L482.9,478.5 L483.9,478.9 L484.8,479.3 L485.7,478.1 L486.6,479.6 L487.5,479.5 L488.5,479.4 L489.4,478.7 L490.3,479.0 L491.2,478.3 L492.1,478.9 L493.0,478.6 L494.0,479.0 L494.9,478.6 L495.8,479.1 L496.7,479.6 L497.6,478.2 L498.5,479.4 L499.5,477.8 L500.4,477.8 L501.3,478.9 L502.2,478.9 L503.1,479.2 L504.0,478.0 L505.0,478.9 L505.9,479.0 L506.8,479.6 L507.7,478.9 L508.6,479.2 L509.5,478.4 L510.5,478.8 L511.4,478.6 L512.3,479.3 L513.2,478.3 L514.1,478.4 L515.0,479.1 L516.0,479.8 L516.9,479.0 L517.8,478.9 L518.7,478.5 L519.6,479.3 L520.5,478.9 L521.5,479.6 L522.4,478.7 L523.3,477.9 L524.2,478.0 L525.1,477.7 L526.0,477.3 L527.0,478.5 L527.9,477.9 L528.8,476.3 L529.7,477.4 L530.6,475.9 L531.6,474.6 L532.5,474.7 L533.4,473.8 L534.3,473.1 L535.2,472.4 L536.1,473.7 L537.1,474.3 L538.0,473.3 L538.9,475.6 L539.8,476.1 L540.7,475.9 L541.6,476.5 L542.6,476.5 L543.5,476.2 L544.4,476.4 L545.3,477.2 L546.2,475.4 L547.1,476.0 L548.1,475.5 L549.0,474.5 L549.9,473.9 L550.8,472.6 L551.7,471.9 L552.6,471.2 L553.6,470.0 L554.5,467.9 L555.4,468.3 L556.3,464.5 L557.2,462.9 L558.1,460.6 L559.1,458.4 L560.0,457.2 L560.9,454.2 L561.8,453.5 L562.7,452.0 L563.6,450.0 L564.6,450.8 L565.5,450.2 L566.4,452.9 L567.3,452.6 L568.2,454.0 L569.1,455.5 L570.1,458.0 L571.0,460.5 L571.9,462.4 L572.8,464.3 L573.7,466.4 L574.6,468.4 L575.6,470.9 L576.5,470.5 L577.4,472.3 L578.3,473.1 L579.2,473.6 L580.2,474.5 L581.1,475.3 L582.0,476.7 L582.9,476.6 L583.8,476.7 L584.7,477.6 L585.7,477.7 L586.6,477.6 L587.5,478.1 L588.4,477.6 L589.3,478.5 L590.2,478.5 L591.2,478.1 L592.1,477.8 L593.0,479.4 L593.9,478.6 L594.8,480.3 L595.7,478.4 L596.7,479.2 L597.6,478.6 L598.5,479.0 L599.4,479.4 L600.3,478.5 L601.2,478.9 L602.2,479.1 L603.1,479.1 L604.0,479.4 L604.9,479.7 L605.8,479.6 L606.7,479.3 L607.7,479.0 L608.6,478.6 L609.5,478.8 L610.4,479.0 L611.3,479.7 L612.2,479.1 L613.2,478.6 L614.1,479.7 L615.0,478.9 L615.9,478.9 L616.8,479.3 L617.7,479.7 L618.7,478.1 L619.6,478.8 L620.5,479.5 L621.4,479.2 L622.3,479.0 L623.3,479.2 L624.2,480.2 L625.1,479.2 L626.0,479.9 L626.9,479.9 L627.8,479.2 L628.8,479.7 L629.7,479.3 L630.6,479.2 L631.5,478.9 L632.4,480.0 L633.3,479.3 L634.3,479.2 L635.2,478.9 L636.1,480.5 L637.0,479.9 L637.9,479.5 L638.8,479.2 L639.8,478.7 L640.7,479.7 L641.6,479.7 L642.5,478.8 L643.4,480.2 L644.3,480.0 L645.3,479.0 L646.2,479.2 L647.1,479.3 L648.0,479.6 L648.9,479.5 L649.8,478.7 L650.8,480.4 L651.7,479.7 L652.6,480.2 L653.5,480.2 L654.4,479.4 L655.3,479.7 L656.3,480.0 L657.2,480.0 L658.1,479.5 L659.0,479.2 L659.9,479.6 L660.8,479.1 L661.8,479.2 L662.7,478.4 L663.6,479.6 L664.5,479.0 L665.4,479.2 L666.3,479.5 L667.3,479.7 L668.2,480.6 L669.1,479.6 L670.0,478.7 L670.9,479.6 L671.9,479.2 L672.8,479.7 L673.7,479.1 L674.6,479.1 L675.5,479.2 L676.4,479.2 L677.4,478.5 L678.3,479.1 L679.2,479.5 L680.1,480.1 L681.0,479.3 L681.9,479.3 L682.9,479.8 L683.8,479.8 L684.7,480.3 L685.6,479.8 L686.5,479.4 L687.4,480.2 L688.4,480.3 L689.3,479.2 L690.2,479.5 L691.1,478.5 L692.0,479.2 L692.9,478.9 L693.9,479.3 L694.8,479.1 L695.7,479.3 L696.6,479.3 L697.5,479.6 L698.4,479.5 L699.4,479.0 L700.3,478.6 L701.2,480.0 L702.1,480.1 L703.0,479.1 L703.9,479.6 L704.9,478.5 L705.8,478.4 L706.7,479.1 L707.6,480.1 L708.5,478.7 L709.4,478.8 L710.4,480.1 L711.3,478.2 L712.2,479.5 L713.1,479.4 L714.0,479.0 L715.0,479.2 L715.9,480.6 L716.8,478.5 L717.7,478.9 L718.6,478.9 L719.5,478.7 L720.5,478.3 L721.4,479.9 L722.3,479.1 L723.2,478.0 L724.1,478.6 L725.0,479.1 L726.0,479.1 L726.9,478.1 L727.8,478.8 L728.7,478.9 L729.6,479.0 L730.5,479.0 L731.5,477.7 L732.4,479.7 L733.3,478.7 L734.2,479.6 L735.1,480.1 L736.0,478.4 L737.0,477.8 L737.9,478.9 L738.8,478.2 L739.7,478.0 L740.6,477.6 L741.5,479.0 L742.5,477.8 L743.4,477.2 L744.3,477.6 L745.2,477.1 L746.1,477.7 L747.0,477.2 L748.0,476.7 L748.9,477.5 L749.8,476.6 L750.7,477.1 L751.6,477.2 L752.5,476.0 L753.5,475.5 L754.4,475.5 L755.3,475.5 L756.2,474.4 L757.1,473.9 L758.0,473.0 L759.0,472.2 L759.9,471.0 L760.8,468.3 L761.7,465.3 L762.6,460.9 L763.6,453.5 L764.5,444.1 L765.4,431.8 L766.3,417.8 L767.2,405.7 L768.1,400.2 L769.1,405.3 L770.0,414.9 L770.9,425.8 L771.8,436.7 L772.7,446.3 L773.6,451.5 L774.6,453.8 L775.5,455.7 L776.4,454.5 L777.3,455.0 L778.2,454.8 L779.1,452.5 L780.1,452.1 L781.0,451.9 L781.9,451.1 L782.8,449.1 L783.7,448.5 L784.6,448.2 L785.6,446.2 L786.5,444.9 L787.4,444.8 L788.3,444.0 L789.2,444.5 L790.1,443.5 L791.1,442.8 L792.0,444.5 L792.9,442.9 L793.8,443.6 L794.7,444.0 L795.6,444.5 L796.6,444.5 L797.5,445.2 L798.4,445.1 L799.3,444.5 L800.2,444.9 L801.1,443.8 L802.1,441.5 L803.0,437.2 L803.9,429.4 L804.8,419.6 L805.7,405.4 L806.7,386.7 L807.6,372.1 L808.5,361.9 L809.4,361.9 L810.3,375.7 L811.2,393.2 L812.2,412.2 L813.1,428.5 L814.0,442.5 L814.9,452.1 L815.8,458.0 L816.7,462.6 L817.7,465.1 L818.6,467.3 L819.5,468.3 L820.4,470.0 L821.3,470.5 L822.2,472.0 L823.2,472.9 L824.1,473.2 L825.0,474.2 L825.9,475.5 L826.8,473.2 L827.7,474.7 L828.7,474.7 L829.6,475.0 L830.5,474.7 L831.4,475.6 L832.3,475.6 L833.2,475.5 L834.2,475.8 L835.1,475.7 L836.0,474.8 L836.9,476.7 L837.8,476.0 L838.7,475.7 L839.7,476.3 L840.6,475.8 L841.5,474.9 L842.4,476.5 L843.3,475.0 L844.2,475.7 L845.2,475.8 L846.1,476.3 L847.0,476.1 L847.9,475.3 L848.8,474.5 L849.7,474.4 L850.7,474.9 L851.6,474.9 L852.5,473.7 L853.4,472.5 L854.3,472.8 L855.3,471.3 L856.2,470.4 L857.1,469.5 L858.0,468.9 L858.9,467.6 L859.8,466.6 L860.8,465.3 L861.7,463.3 L862.6,460.1 L863.5,458.6 L864.4,457.8 L865.3,455.7 L866.3,454.9 L867.2,451.7 L868.1,449.7 L869.0,448.5 L869.9,446.9 L870.8,444.8 L871.8,444.1 L872.7,442.5 L873.6,442.2 L874.5,443.5 L875.4,442.6 L876.3,444.8 L877.3,445.8 L878.2,447.4 L879.1,449.2 L880.0,450.9 L880.9,451.4 L881.8,454.0 L882.8,456.2 L883.7,458.9 L884.6,459.7 L885.5,461.7 L886.4,463.5 L887.3,466.0 L888.3,465.9 L889.2,467.2 L890.1,469.5 L891.0,469.0 L891.9,471.3 L892.8,471.7 L893.8,471.9 L894.7,473.2 L895.6,473.4 L896.5,474.6 L897.4,475.1 L898.4,476.1 L899.3,475.6 L900.2,476.0 L901.1,475.9 L902.0,476.4 L902.9,477.2 L903.9,475.8 L904.8,477.4 L905.7,476.8 L906.6,477.3 L907.5,477.6 L908.4,478.0 L909.4,477.7 L910.3,477.5 L911.2,477.9 L912.1,477.8 L913.0,477.8 L913.9,478.1 L914.9,478.5 L915.8,478.2 L916.7,478.2 L917.6,477.5 L918.5,478.2 L919.4,477.3 L920.4,478.7 L921.3,477.9 L922.2,479.1 L923.1,480.1 L924.0,478.3 L924.9,479.2 L925.9,478.8 L926.8,478.3 L927.7,478.1 L928.6,478.9 L929.5,479.4 L930.4,478.9 L931.4,477.8 L932.3,478.1 L933.2,478.6 L934.1,479.5 L935.0,478.9 L935.9,478.9 L936.9,479.4 L937.8,478.7 L938.7,478.7 L939.6,478.7 L940.5,477.8 L941.4,479.1 L942.4,479.1 L943.3,479.4 L944.2,478.2 L945.1,478.4 L946.0,479.4 L947.0,479.0 L947.9,479.6 L948.8,478.4 L949.7,479.0 L950.6,478.5 L951.5,479.0 L952.5,478.6 L953.4,479.1 L954.3,479.4 L955.2,479.2 L956.1,477.8 L957.0,479.3 L958.0,479.1 L958.9,478.2 L959.8,478.3 L960.7,478.8 L961.6,479.1 L962.5,478.5 L963.5,477.9 L964.4,478.9 L965.3,478.8 L966.2,480.1 L967.1,478.0 L968.0,480.1 L969.0,479.6 L969.9,478.8 L970.8,479.5 L971.7,478.6 L972.6,479.1 L973.5,478.1 L974.5,478.5 L975.4,477.9 L976.3,477.5 L977.2,478.2 L978.1,478.0 L979.0,478.6 L980.0,478.9 L980.9,478.1 L981.8,478.1 L982.7,478.1 L983.6,477.0 L984.5,478.0 L985.5,477.8 L986.4,477.6 L987.3,476.9 L988.2,476.3 L989.1,477.1 L990.1,477.3 L991.0,477.7 L991.9,477.3 L992.8,477.3 L993.7,476.4 L994.6,476.6 L995.6,475.5 L996.5,475.7 L997.4,475.4 L998.3,476.0 L999.2,474.2 L1000.1,472.9 L1001.1,473.8 L1002.0,472.0 L1002.9,471.8 L1003.8,471.0 L1004.7,470.0 L1005.6,470.5 L1006.6,469.3 L1007.5,467.9 L1008.4,467.4 L1009.3,466.3 L1010.2,466.0 L1011.1,464.6 L1012.1,463.5 L1013.0,462.8 L1013.9,462.2 L1014.8,461.9 L1015.7,460.6 L1016.6,460.6 L1017.6,460.5 L1018.5,461.3 L1019.4,460.4 L1020.3,458.4 L1021.2,460.0 L1022.1,460.4 L1023.1,461.3 L1024.0,462.6 L1024.9,462.8 L1025.8,461.9 L1026.7,464.1 L1027.6,464.9 L1028.6,465.9 L1029.5,467.3 L1030.4,466.8 L1031.3,468.8 L1032.2,468.1 L1033.1,469.8 L1034.1,470.7 L1035.0,472.5 L1035.9,471.5 L1036.8,471.6 L1037.7,473.4 L1038.7,473.2 L1039.6,475.0 L1040.5,474.2 L1041.4,474.5 L1042.3,476.0 L1043.2,475.7 L1044.2,476.5 L1045.1,475.5 L1046.0,477.4 L1046.9,476.4 L1047.8,477.4 L1048.7,476.6 L1049.7,476.4 L1050.6,477.3 L1051.5,477.7 L1052.4,478.6 L1053.3,478.0 L1054.2,478.3 L1055.2,478.3 L1056.1,479.8 L1057.0,477.7 L1057.9,478.9 L1058.8,478.2 L1059.7,478.5 L1060.7,478.1 L1061.6,479.0 L1062.5,477.8 L1063.4,477.8 L1064.3,478.4 L1065.2,477.9 L1066.2,479.0 L1067.1,479.1 L1068.0,478.2 L1068.9,479.1 L1069.8,478.3 L1070.7,478.7 L1071.7,478.7 L1072.6,479.8 L1073.5,478.8 L1074.4,478.3 L1075.3,478.3 L1076.2,479.5 L1077.2,477.9 L1078.1,478.6 L1079.0,478.7 L1079.9,477.5 L1080.8,478.6 L1081.8,479.4 L1082.7,479.0 L1083.6,478.4 L1084.5,479.3 L1085.4,479.2 L1086.3,480.0 L1087.3,478.5 L1088.2,478.7 L1089.1,478.9 L1090.0,478.9 L1090.9,479.0 L1091.8,478.9 L1092.8,478.5 L1093.7,478.0 L1094.6,478.6 L1095.5,478.1 L1096.4,478.3 L1097.3,478.6 L1098.3,479.2 L1099.2,479.3 L1100.1,478.3 L1101.0,479.0 L1101.9,479.3 L1102.8,478.8 L1103.8,477.9 L1104.7,477.6 L1105.6,479.2 L1106.5,479.3 L1107.4,478.9 L1108.3,478.1 L1109.3,479.5 L1110.2,479.3 L1111.1,478.6 L1112.0,478.5 L1112.9,477.5 L1113.8,479.0 L1114.8,477.6 L1115.7,478.8 L1116.6,478.8 L1117.5,478.4 L1118.4,479.2 L1119.3,478.1 L1120.3,478.5 L1121.2,478.6 L1122.1,478.2 L1123.0,477.7 L1123.9,478.5 L1124.8,478.0 L1125.8,477.5 L1126.7,477.4 L1127.6,477.4 L1128.5,478.4 L1129.4,477.0 L1130.4,476.5 L1131.3,475.8 L1132.2,475.5 L1133.1,474.8 L1134.0,475.6 L1134.9,475.0 L1135.9,474.0 L1136.8,473.3 L1137.7,473.4 L1138.6,472.7 L1139.5,471.6 L1140.4,471.8 L1141.4,471.0 L1142.3,470.1 L1143.2,469.7 L1144.1,468.1 L1145.0,468.3 L1145.9,466.0 L1146.9,465.9 L1147.8,465.0 L1148.7,463.5 L1149.6,462.9 L1150.5,461.0 L1151.4,460.0 L1152.4,459.8 L1153.3,458.8 L1154.2,458.8 L1155.1,458.0 L1156.0,457.9 L1156.9,457.5 L1157.9,457.3 L1158.8,457.4 L1159.7,457.4 L1160.6,457.7 L1161.5,459.6 L1162.4,458.2 L1163.4,459.9 L1164.3,461.4 L1165.2,462.0 L1166.1,463.5 L1167.0,464.0 L1167.9,464.0 L1168.9,465.5 L1169.8,465.8 L1170.7,468.1 L1171.6,469.3 L1172.5,469.1 L1173.5,470.5 L1174.4,470.7 L1175.3,470.9 L1176.2,472.1 L1177.1,472.2 L1178.0,473.3 L1179.0,474.3 L1179.9,475.0 L1180.8,475.8 L1181.7,475.3 L1182.6,476.0 L1183.5,476.4 L1184.5,476.8 L1185.4,475.2 L1186.3,476.6 L1187.2,477.6 L1188.1,476.8 L1189.0,477.7 L1190.0,478.2 L1190.9,476.8 L1191.8,477.9 L1192.7,478.2 L1193.6,478.2 L1194.5,477.4 L1195.5,478.5 L1196.4,478.1 L1197.3,478.9 L1198.2,478.7 L1199.1,478.3 L1200.0,478.7 L1201.0,478.3 L1201.9,478.3 L1202.8,477.9 L1203.7,478.6 L1204.6,479.2 L1205.5,478.9 L1206.5,478.9 L1207.4,478.5 L1208.3,478.6 L1209.2,479.4 L1210.1,478.1 L1211.0,480.1 L1212.0,479.0 L1212.9,480.2 L1213.8,479.7 L1214.7,478.8 L1215.6,479.5 L1216.5,479.2 L1217.5,479.4 L1218.4,479.6 L1219.3,478.8 L1220.2,478.8 L1221.1,478.9 L1222.1,478.4 L1223.0,479.0 L1223.9,479.3 L1224.8,479.4 L1225.7,479.3 L1226.6,479.0 L1227.6,479.7 L1228.5,478.1 L1229.4,479.0 L1230.3,479.1 L1231.2,479.8 L1232.1,479.6 L1233.1,479.7 L1234.0,479.3 L1234.9,479.8 L1235.8,478.7 L1236.7,479.3 L1237.6,478.1 L1238.6,480.2 L1239.5,480.2 L1240.4,479.0 L1241.3,478.8 L1242.2,478.2 L1243.1,478.5 L1244.1,479.4 L1245.0,479.2 L1245.9,478.5 L1246.8,479.0 L1247.7,478.9 L1248.6,479.6 L1249.6,479.7 L1250.5,479.2 L1251.4,479.4 L1252.3,479.3 L1253.2,478.1 L1254.1,479.4 L1255.1,479.2 L1256.0,479.7 L1256.9,478.2 L1257.8,479.6 L1258.7,478.8 L1259.6,479.3 L1260.6,479.7 L1261.5,478.2 L1262.4,478.2 L1263.3,479.3 L1264.2,478.0 L1265.2,477.9 L1266.1,478.5 L1267.0,477.8 L1267.9,478.0 L1268.8,477.3 L1269.7,476.7 L1270.7,476.8 L1271.6,477.1 L1272.5,475.6 L1273.4,476.2 L1274.3,476.0 L1275.2,475.6 L1276.2,476.1 L1277.1,475.7 L1278.0,476.3 L1278.9,477.2 L1279.8,477.4 L1280.7,478.4 L1281.7,477.3 L1282.6,478.0 L1283.5,478.0 L1284.4,478.3 L1285.3,479.1 L1286.2,477.8 L1287.2,478.9 L1288.1,478.0 L1289.0,478.1 L1289.9,478.6 L1290.8,477.8 L1291.7,478.1 L1292.7,477.6 L1293.6,477.2 L1294.5,476.9 L1295.4,476.0 L1296.3,476.3 L1297.2,476.7 L1298.2,476.6 L1299.1,475.7 L1300.0,477.1 L1300.9,477.0 L1301.8,476.1 L1302.7,476.4 L1303.7,477.5 L1304.6,476.5 L1305.5,477.3 L1306.4,477.9 L1307.3,478.0 L1308.2,478.3 L1309.2,478.7 L1310.1,478.2 L1311.0,478.5 L1311.9,480.0 L1312.8,478.2 L1313.8,478.8 L1314.7,479.2 L1315.6,478.9 L1316.5,479.9 L1317.4,479.3 L1318.3,479.8 L1319.3,477.9 L1320.2,480.0 L1321.1,480.0 L1322.0,479.0 L1322.9,480.2 L1323.8,479.6 L1324.8,480.0 L1325.7,480.5 L1326.6,479.5 L1327.5,478.9 L1328.4,479.5 L1329.3,478.8 L1330.3,479.1 L1331.2,479.1 L1332.1,479.1 L1333.0,480.2 L1333.9,480.0 L1334.8,479.0 L1335.8,480.2 L1336.7,478.6 L1337.6,479.2 L1338.5,479.5 L1339.4,480.2 L1340.3,480.0 L1341.3,479.8 L1342.2,480.3 L1343.1,480.0 L1344.0,480.3 L1344.9,479.1 L1345.8,478.6 L1346.8,479.3 L1347.7,480.0 L1348.6,479.7 L1349.5,480.1 L1350.4,480.0 L1351.3,479.9 L1352.3,480.0 L1353.2,479.2 L1354.1,480.2 L1355.0,479.0 L1355.9,479.5 L1356.9,478.8 L1357.8,479.8 L1358.7,478.7 L1359.6,480.3 L1360.5,478.8 L1361.4,479.7 L1362.4,479.5 L1363.3,479.1 L1364.2,480.2 L1365.1,479.3 L1366.0,480.3 L1366.9,479.0 L1367.9,479.1 L1368.8,478.4 L1369.7,479.8 L1370.6,480.0 L1371.5,479.6 L1372.4,479.4 L1373.4,479.0 L1374.3,480.8 L1375.2,479.9 L1376.1,478.4 L1377.0,479.3 L1377.9,478.0 L1378.9,480.3 L1379.8,480.5 L1380.7,480.2 L1381.6,479.4 L1382.5,479.0 L1383.4,478.6 L1384.4,479.6 L1385.3,478.9 L1386.2,479.1 L1387.1,478.9 L1388.0,479.0 L1388.9,479.7 L1389.9,480.1 L1390.8,479.2 L1391.7,479.0 L1392.6,478.4 L1393.5,478.2 L1394.4,478.2 L1395.4,479.2 L1396.3,478.7 L1397.2,479.0 L1398.1,478.5 L1399.0,477.9 L1399.9,477.1 L1400.9,477.2 L1401.8,476.1 L1402.7,477.2 L1403.6,475.2 L1404.5,473.5 L1405.5,473.0 L1406.4,469.6 L1407.3,467.7 L1408.2,464.8 L1409.1,463.2 L1410.0,462.0 L1411.0,463.2 L1411.9,465.7 L1412.8,466.6 L1413.7,468.5 L1414.6,472.6 L1415.5,473.7 L1416.5,475.5 L1417.4,475.9 L1418.3,477.6 L1419.2,478.3 L1420.1,477.0 L1421.0,478.3 L1422.0,477.8 L1422.9,477.4 L1423.8,478.3 L1424.7,478.8 L1425.6,477.8 L1426.5,478.0 L1427.5,479.4 L1428.4,478.8 L1429.3,479.0 L1430.2,478.2 L1431.1,478.5 L1432.0,478.9 L1433.0,478.9 L1433.9,478.9 L1434.8,479.7 L1435.7,478.8 L1436.6,477.9 L1437.5,478.2 L1438.5,478.6 L1439.4,479.3 L1440.3,478.1 L1441.2,478.1 L1442.1,478.2 L1443.0,477.7 L1444.0,477.4 L1444.9,477.4 L1445.8,477.7 L1446.7,476.9 L1447.6,475.7 L1448.6,475.1 L1449.5,472.8 L1450.4,472.4 L1451.3,470.1 L1452.2,467.4 L1453.1,463.9 L1454.1,464.1 L1455.0,460.6 L1455.9,462.3 L1456.8,464.3 L1457.7,467.6 L1458.6,468.7 L1459.6,471.8 L1460.5,473.3 L1461.4,474.5 L1462.3,476.1 L1463.2,477.1 L1464.1,477.0 L1465.1,477.0 L1466.0,476.1 L1466.9,478.3 L1467.8,477.4 L1468.7,476.6 L1469.6,477.7 L1470.6,478.4 L1471.5,477.5 L1472.4,476.9 L1473.3,478.7 L1474.2,477.7 L1475.1,477.4 L1476.1,477.7 L1477.0,475.8 L1477.9,476.8 L1478.8,476.6 L1479.7,477.8 L1480.6,476.2 L1481.6,476.1 L1482.5,475.5 L1483.4,475.8 L1484.3,476.1 L1485.2,476.4 L1486.1,476.2 L1487.1,477.4 L1488.0,476.7 L1488.9,476.9 L1489.8,477.4 L1490.7,477.2 L1491.6,476.7 L1492.6,476.2 L1493.5,477.5 L1494.4,476.9 L1495.3,478.3 L1496.2,477.3 L1497.2,476.6 L1498.1,478.0 L1499.0,478.6 L1499.9,478.0 L1500.8,478.3 L1501.7,478.4 L1502.7,479.3 L1503.6,478.6 L1504.5,478.4 L1505.4,478.1 L1506.3,477.6 L1507.2,479.3 L1508.2,479.1 L1509.1,477.9 L1510.0,478.8 L1510.9,478.6 L1511.8,478.1 L1512.7,478.1 L1513.7,478.6 L1514.6,477.4 L1515.5,477.7 L1516.4,477.8 L1517.3,477.7 L1518.2,477.4 L1519.2,477.4 L1520.1,477.3 L1521.0,476.1 L1521.9,476.1 L1522.8,475.1 L1523.7,475.1 L1524.7,471.7 L1525.6,469.8 L1526.5,466.5 L1527.4,460.7 L1528.3,453.8 L1529.2,445.8 L1530.2,438.1 L1531.1,430.8 L1532.0,428.9 L1532.9,431.3 L1533.8,436.9 L1534.7,445.9 L1535.7,453.2 L1536.6,460.3 L1537.5,465.7 L1538.4,469.1 L1539.3,470.5 L1540.3,472.8 L1541.2,472.4 L1542.1,473.1 L1543.0,474.3 L1543.9,473.0 L1544.8,473.3 L1545.8,471.5 L1546.7,470.6 L1547.6,468.8 L1548.5,468.8 L1549.4,467.0 L1550.3,466.7 L1551.3,466.4 L1552.2,466.7 L1553.1,467.4 L1554.0,468.4 L1554.9,469.6 L1555.8,470.5 L1556.8,470.7 L1557.7,473.1 L1558.6,474.7 L1559.5,474.6 L1560.4,475.5 L1561.3,474.5 L1562.3,473.5 L1563.2,473.1 L1564.1,473.4 L1565.0,472.4 L1565.9,471.1 L1566.8,470.4 L1567.8,468.3 L1568.7,468.1 L1569.6,466.9 L1570.5,466.9 L1571.4,467.9 L1572.3,468.0 L1573.3,470.0 L1574.2,471.3 L1575.1,471.5 L1576.0,474.4 L1576.9,473.5 L1577.8,475.1 L1578.8,476.3 L1579.7,475.2 L1580.6,477.6 L1581.5,478.0 L1582.4,477.6 L1583.3,478.1 L1584.3,478.3 L1585.2,478.2 L1586.1,479.0 L1587.0,478.3 L1587.9,478.6 L1588.9,478.9 L1589.8,479.3 L1590.7,479.5 L1591.6,478.1 L1592.5,477.8 L1593.4,478.9 L1594.4,479.0 L1595.3,478.5 L1596.2,479.3 L1597.1,479.5 L1598.0,479.4 L1598.9,480.1 L1599.9,478.6 L1600.8,479.3 L1601.7,480.3 L1602.6,479.7 L1603.5,478.7 L1604.4,479.4 L1605.4,480.0 L1606.3,480.5 L1607.2,479.7 L1608.1,480.0 L1609.0,478.8 L1609.9,479.2 L1610.9,480.1 L1611.8,478.9 L1612.7,479.4 L1613.6,478.4 L1614.5,480.3 L1615.4,479.4 L1616.4,479.8 L1617.3,478.6 L1618.2,478.7 L1619.1,480.5 L1620.0,479.3 L1620.9,479.2 L1621.9,479.7 L1622.8,479.8 L1623.7,478.4 L1624.6,478.9 L1625.5,479.5 L1626.4,479.5 L1627.4,479.7 L1628.3,479.2 L1629.2,479.3 L1630.1,479.6 L1631.0,479.1 L1632.0,479.0 L1632.9,479.2 L1633.8,479.5 L1634.7,479.4 L1635.6,479.2 L1636.5,479.3 L1637.5,479.5 L1638.4,479.7 L1639.3,479.7 L1640.2,478.8 L1641.1,480.0 L1642.0,478.6 L1643.0,479.8 L1643.9,479.1 L1644.8,479.8 L1645.7,480.0 L1646.6,478.4 L1647.5,479.8 L1648.5,479.6 L1649.4,479.2 L1650.3,479.6 L1651.2,479.1 L1652.1,479.5 L1653.0,478.8 L1654.0,479.8 L1654.9,479.7 L1655.8,479.8 L1656.7,479.0 L1657.6,480.4 L1658.5,480.4 L1659.5,479.3 L1660.4,479.1 L1661.3,479.1 L1662.2,479.7 L1663.1,479.9 L1664.0,478.9 L1665.0,478.1 L1665.9,479.5 L1666.8,479.2 L1667.7,479.3 L1668.6,479.4 L1669.5,478.5 L1670.5,479.1 L1671.4,478.9 L1672.3,479.2 L1673.2,479.6 L1674.1,478.9 L1675.0,478.4 L1676.0,479.5 L1676.9,479.1 L1677.8,478.5 L1678.7,477.5 L1679.6,477.9 L1680.6,478.3 L1681.5,478.4 L1682.4,477.6 L1683.3,477.8 L1684.2,476.9 L1685.1,476.5 L1686.1,476.4 L1687.0,475.1 L1687.9,474.2 L1688.8,473.2 L1689.7,471.6 L1690.6,468.6 L1691.6,466.6 L1692.5,464.0 L1693.4,462.4 L1694.3,462.7 L1695.2,462.8 L1696.1,463.6 L1697.1,467.0 L1698.0,468.3 L1698.9,470.6 L1699.8,472.7 L1700.7,474.0 L1701.6,474.8 L1702.6,474.6 L1703.5,476.6 L1704.4,476.4 L1705.3,476.2 L1706.2,476.0 L1707.1,478.0 L1708.1,477.5 L1709.0,477.5 L1709.9,477.8 L1710.8,477.4 L1711.7,476.5 L1712.6,477.6 L1713.6,477.6 L1714.5,477.0 L1715.4,477.2 L1716.3,476.9 L1717.2,474.8 L1718.1,474.0 L1719.1,473.5 L1720.0,471.6 L1720.9,469.7 L1721.8,467.9 L1722.7,465.4 L1723.7,462.4 L1724.6,461.0 L1725.5,459.8 L1726.4,460.8 L1727.3,462.0 L1728.2,463.8 L1729.2,467.0 L1730.1,469.1 L1731.0,471.8 L1731.9,473.7 L1732.8,474.1 L1733.7,475.2 L1734.7,475.3 L1735.6,475.6 L1736.5,476.3 L1737.4,476.5 L1738.3,476.9 L1739.2,476.9 L1740.2,477.7 L1741.1,476.7 L1742.0,475.8 L1742.9,476.5 L1743.8,475.8 L1744.7,475.9 L1745.7,475.9 L1746.6,474.1 L1747.5,473.4 L1748.4,472.3 L1749.3,469.8 L1750.2,468.4 L1751.2,466.3 L1752.1,464.1 L1753.0,462.2 L1753.9,460.6 L1754.8,460.5 L1755.7,460.6 L1756.7,461.9 L1757.6,465.1 L1758.5,468.6 L1759.4,469.8 L1760.3,470.1 L1761.2,472.4 L1762.2,473.7 L1763.1,473.2 L1764.0,474.9 L1764.9,474.3 L1765.8,475.6 L1766.7,475.1 L1767.7,476.8 L1768.6,474.3 L1769.5,475.0 L1770.4,473.9 L1771.3,475.2 L1772.3,474.4 L1773.2,474.6 L1774.1,474.0 L1775.0,473.0 L1775.9,473.0 L1776.8,472.4 L1777.8,472.2 L1778.7,472.6 L1779.6,472.8 L1780.5,472.4 L1781.4,471.9 L1782.3,471.1 L1783.3,471.4 L1784.2,470.4 L1785.1,470.7 L1786.0,470.8 L1786.9,470.1 L1787.8,469.7 L1788.8,469.5 L1789.7,470.0 L1790.6,469.3 L1791.5,468.5 L1792.4,468.9 L1793.3,468.4 L1794.3,469.6 L1795.2,468.5 L1796.1,467.3 L1797.0,467.8 L1797.9,467.3 L1798.8,466.1 L1799.8,464.3 L1800.7,462.8 L1801.6,460.5 L1802.5,458.0 L1803.4,454.1 L1804.3,451.2 L1805.3,445.8 L1806.2,443.0 L1807.1,439.5 L1808.0,437.7 L1808.9,439.4 L1809.8,442.2 L1810.8,446.5 L1811.7,452.7 L1812.6,456.2 L1813.5,460.8 L1814.4,463.4 L1815.4,466.7 L1816.3,468.4 L1817.2,471.3 L1818.1,472.1 L1819.0,473.1 L1819.9,474.1 L1820.9,476.1 L1821.8,475.7 L1822.7,476.4 L1823.6,475.6 L1824.5,476.3 L1825.4,477.1 L1826.4,476.1 L1827.3,478.1 L1828.2,477.7 L1829.1,477.7 L1830.0,477.8 L1830.9,477.9 L1831.9,477.8 L1832.8,479.0 L1833.7,478.7 L1834.6,479.1 L1835.5,478.3 L1836.4,478.1 L1837.4,479.4 L1838.3,478.0 L1839.2,478.4 L1840.1,479.2 L1841.0,479.4 L1841.9,478.2 L1842.9,478.8 L1843.8,479.0 L1844.7,478.9 L1845.6,478.5 L1846.5,479.4 L1847.4,478.8 L1848.4,479.0 L1849.3,477.9 L1850.2,479.1 L1851.1,478.1 L1852.0,479.6 L1852.9,479.5 L1853.9,478.9 L1854.8,479.3 L1855.7,479.3 L1856.6,479.2 L1857.5,479.5 L1858.4,479.2 L1859.4,479.0 L1860.3,478.9 L1861.2,480.2 L1862.1,479.4 L1863.0,479.3 L1864.0,479.8 L1864.9,479.2 L1865.8,479.2 L1866.7,479.8 L1867.6,480.0 L1868.5,479.8 L1869.5,478.6 L1870.4,479.5 L1871.3,479.4 L1872.2,479.7 L1873.1,479.0 L1874.0,478.9 L1875.0,479.4 L1875.9,479.0 L1876.8,478.9 L1877.7,479.4 L1878.6,480.0 L1879.5,479.6 L1880.5,480.1 L1881.4,478.9 L1882.3,479.9 L1883.2,479.5 L1884.1,479.0 L1885.0,479.3 L1886.0,479.0 L1886.9,479.4 L1887.8,479.1 L1888.7,480.2 L1889.6,479.3 L1890.5,478.7 L1891.5,479.4 L1892.4,479.7 L1893.3,479.4 L1894.2,480.0 L1895.1,479.0 L1896.0,479.1 L1897.0,480.4 L1897.9,479.5 L1898.8,479.8 L1899.7,479.8 L1900.6,479.9 L1901.5,479.6 L1902.5,479.4 L1903.4,480.1 L1904.3,479.3 L1905.2,479.6 L1906.1,479.9 L1907.1,479.3 L1908.0,478.7 L1908.9,479.8 L1909.8,480.1 L1910.7,479.7 L1911.6,478.6 L1912.6,479.9 L1913.5,480.6 L1914.4,478.7 L1915.3,478.1 L1916.2,479.4 L1917.1,479.6 L1918.1,480.0 L1919.0,480.0 L1919.9,479.6 L1920.8,479.9 L1921.7,479.7 L1922.6,479.6 L1923.6,479.5 L1924.5,479.5 L1925.4,479.9 L1926.3,479.8 L1927.2,479.3 L1928.1,480.1 L1929.1,479.2 L1930.0,479.4 L1930.9,479.6 L1931.8,478.5 L1932.7,479.3 L1933.6,480.0 L1934.6,480.0 L1935.5,478.9 L1936.4,479.1 L1937.3,478.9 L1938.2,479.4 L1939.1,479.5 L1940.1,478.7 L1941.0,479.7 L1941.9,479.5 L1942.8,479.5 L1943.7,479.1 L1944.6,479.4 L1945.6,478.5 L1946.5,479.6 L1947.4,479.6 L1948.3,479.4 L1949.2,478.8 L1950.1,480.1 L1951.1,480.0 L1952.0,478.4 L1952.9,479.6 L1953.8,479.5 L1954.7,478.0 L1955.7,479.6 L1956.6,479.7 L1957.5,479.7 L1958.4,479.4 L1959.3,478.9 L1960.2,478.9 L1961.2,479.5 L1962.1,479.8 L1963.0,478.8 L1963.9,478.9 L1964.8,479.4 L1965.7,477.8 L1966.7,479.1 L1967.6,478.7 L1968.5,477.6 L1969.4,479.1 L1970.3,478.1 L1971.2,478.9 L1972.2,479.2 L1973.1,477.6 L1974.0,477.6 L1974.9,478.1 L1975.8,477.0 L1976.7,478.2 L1977.7,477.8 L1978.6,478.1 L1979.5,476.4 L1980.4,477.4 L1981.3,477.4 L1982.2,476.0 L1983.2,477.3 L1984.1,475.9 L1985.0,476.6 L1985.9,475.7 L1986.8,476.7 L1987.7,477.1 L1988.7,476.1 L1989.6,476.0 L1990.5,476.6 L1991.4,475.6 L1992.3,475.8 L1993.2,476.2 L1994.2,476.0 L1995.1,476.6 L1996.0,476.4"/>
<path clip-path="url(#c2)" stroke="#7408e4" d="M162.0,716.3 L162.9,713.8 L163.8,715.4 L164.8,714.9 L165.7,714.9 L166.6,715.1 L167.5,714.1 L168.4,715.0 L169.3,714.7 L170.3,717.0 L171.2,715.3 L172.1,715.0 L173.0,715.0 L173.9,714.8 L174.8,714.6 L175.8,715.0 L176.7,715.4 L177.6,715.1 L178.5,715.7 L179.4,715.1 L180.3,715.2 L181.3,716.0 L182.2,715.5 L183.1,714.9 L184.0,715.1 L184.9,715.5 L185.8,716.3 L186.8,715.0 L187.7,715.1 L188.6,715.7 L189.5,714.7 L190.4,715.0 L191.3,715.7 L192.3,715.5 L193.2,715.2 L194.1,715.6 L195.0,713.6 L195.9,715.7 L196.8,714.7 L197.8,714.3 L198.7,715.3 L199.6,715.6 L200.5,714.9 L201.4,714.6 L202.3,715.2 L203.3,715.2 L204.2,716.0 L205.1,715.6 L206.0,715.3 L206.9,715.8 L207.8,715.1 L208.8,714.7 L209.7,715.5 L210.6,715.5 L211.5,715.0 L212.4,714.7 L213.4,715.3 L214.3,713.8 L215.2,715.5 L216.1,715.4 L217.0,714.2 L217.9,715.2 L218.9,714.6 L219.8,715.6 L220.7,714.0 L221.6,714.6 L222.5,715.5 L223.4,715.8 L224.4,713.9 L225.3,714.8 L226.2,715.3 L227.1,714.8 L228.0,716.0 L228.9,714.4 L229.9,715.3 L230.8,714.5 L231.7,715.8 L232.6,715.0 L233.5,714.8 L234.4,714.1 L235.4,715.9 L236.3,715.4 L237.2,715.4 L238.1,715.6 L239.0,715.2 L239.9,714.6 L240.9,714.5 L241.8,714.5 L242.7,715.7 L243.6,714.1 L244.5,714.6 L245.4,714.7 L246.4,715.0 L247.3,715.2 L248.2,714.1 L249.1,713.9 L250.0,714.8 L250.9,715.4 L251.9,715.2 L252.8,714.8 L253.7,714.5 L254.6,714.8 L255.5,714.5 L256.5,715.1 L257.4,714.1 L258.3,714.6 L259.2,714.4 L260.1,714.8 L261.0,714.6 L262.0,715.8 L262.9,715.2 L263.8,715.1 L264.7,713.1 L265.6,714.0 L266.5,713.8 L267.5,714.3 L268.4,712.7 L269.3,714.6 L270.2,714.4 L271.1,713.0 L272.0,713.1 L273.0,713.1 L273.9,713.5 L274.8,713.7 L275.7,714.3 L276.6,712.9 L277.5,713.3 L278.5,712.8 L279.4,713.5 L280.3,712.7 L281.2,712.8 L282.1,711.2 L283.0,711.3 L284.0,710.6 L284.9,711.5 L285.8,710.6 L286.7,709.5 L287.6,708.8 L288.5,708.6 L289.5,707.1 L290.4,705.9 L291.3,705.4 L292.2,704.8 L293.1,700.9 L294.0,697.2 L295.0,691.4 L295.9,682.8 L296.8,670.7 L297.7,651.8 L298.6,625.3 L299.5,592.8 L300.5,555.9 L301.4,520.5 L302.3,494.3 L303.2,488.9 L304.1,505.3 L305.1,535.9 L306.0,572.6 L306.9,607.0 L307.8,636.1 L308.7,658.6 L309.6,673.0 L310.6,682.9 L311.5,689.2 L312.4,692.3 L313.3,694.1 L314.2,691.9 L315.1,691.8 L316.1,687.4 L317.0,681.1 L317.9,670.6 L318.8,654.1 L319.7,630.7 L320.6,599.9 L321.6,565.5 L322.5,528.7 L323.4,500.7 L324.3,490.4 L325.2,500.9 L326.1,530.9 L327.1,566.3 L328.0,602.7 L328.9,632.2 L329.8,656.0 L330.7,673.5 L331.6,685.4 L332.6,692.2 L333.5,697.4 L334.4,700.2 L335.3,703.1 L336.2,703.3 L337.1,705.3 L338.1,705.1 L339.0,705.5 L339.9,706.1 L340.8,706.1 L341.7,707.0 L342.6,707.5 L343.6,707.0 L344.5,707.0 L345.4,707.2 L346.3,706.0 L347.2,705.3 L348.2,704.0 L349.1,702.0 L350.0,701.4 L350.9,697.0 L351.8,693.7 L352.7,685.9 L353.7,675.0 L354.6,657.1 L355.5,632.6 L356.4,602.4 L357.3,566.1 L358.2,530.1 L359.2,501.7 L360.1,490.5 L361.0,501.7 L361.9,530.0 L362.8,566.7 L363.7,601.6 L364.7,633.7 L365.6,657.3 L366.5,676.0 L367.4,687.8 L368.3,693.6 L369.2,699.6 L370.2,702.6 L371.1,704.2 L372.0,706.7 L372.9,707.3 L373.8,707.6 L374.7,709.2 L375.7,709.9 L376.6,710.6 L377.5,710.4 L378.4,711.8 L379.3,712.3 L380.2,711.6 L381.2,712.1 L382.1,712.7 L383.0,712.6 L383.9,714.1 L384.8,713.5 L385.7,713.0 L386.7,713.2 L387.6,713.8 L388.5,715.2 L389.4,713.9 L390.3,714.2 L391.2,714.5 L392.2,714.3 L393.1,715.7 L394.0,714.2 L394.9,715.0 L395.8,714.7 L396.8,715.0 L397.7,714.1 L398.6,715.8 L399.5,714.8 L400.4,714.9 L401.3,714.4 L402.3,714.6 L403.2,715.3 L404.1,715.6 L405.0,715.5 L405.9,715.8 L406.8,715.6 L407.8,715.2 L408.7,715.7 L409.6,715.6 L410.5,715.2 L411.4,715.7 L412.3,716.1 L413.3,715.5 L414.2,715.2 L415.1,715.8 L416.0,716.5 L416.9,715.3 L417.8,715.4 L418.8,715.4 L419.7,716.2 L420.6,714.5 L421.5,715.7 L422.4,716.2 L423.3,715.1 L424.3,716.4 L425.2,715.9 L426.1,715.3 L427.0,715.7 L427.9,714.8 L428.8,715.3 L429.8,716.6 L430.7,715.1 L431.6,716.6 L432.5,715.6 L433.4,716.2 L434.3,715.6 L435.3,714.4 L436.2,715.3 L437.1,715.7 L438.0,715.0 L438.9,714.8 L439.9,715.8 L440.8,715.2 L441.7,714.6 L442.6,715.1 L443.5,716.0 L444.4,715.2 L445.4,715.9 L446.3,716.2 L447.2,715.3 L448.1,714.6 L449.0,714.4 L449.9,715.0 L450.9,715.3 L451.8,714.8 L452.7,714.7 L453.6,713.7 L454.5,713.5 L455.4,712.1 L456.4,710.4 L457.3,707.0 L458.2,702.5 L459.1,697.3 L460.0,690.2 L460.9,684.3 L461.9,682.6 L462.8,684.7 L463.7,692.4 L464.6,698.1 L465.5,703.1 L466.4,708.2 L467.4,710.9 L468.3,712.0 L469.2,714.1 L470.1,713.6 L471.0,712.8 L471.9,715.2 L472.9,714.6 L473.8,715.9 L474.7,714.9 L475.6,714.7 L476.5,716.3 L477.4,715.0 L478.4,715.7 L479.3,716.5 L480.2,715.8 L481.1,715.7 L482.0,715.8 L482.9,716.3 L483.9,715.4 L484.8,716.2 L485.7,716.2 L486.6,717.2 L487.5,715.8 L488.5,715.5 L489.4,716.4 L490.3,715.8 L491.2,716.2 L492.1,716.1 L493.0,716.7 L494.0,715.7 L494.9,716.0 L495.8,714.6 L496.7,715.6 L497.6,716.9 L498.5,715.7 L499.5,715.7 L500.4,715.4 L501.3,716.4 L502.2,716.2 L503.1,715.4 L504.0,716.4 L505.0,716.2 L505.9,716.5 L506.8,715.7 L507.7,717.0 L508.6,716.3 L509.5,716.0 L510.5,715.7 L511.4,715.9 L512.3,716.5 L513.2,715.8 L514.1,716.6 L515.0,716.3 L516.0,716.7 L516.9,716.3 L517.8,715.8 L518.7,714.8 L519.6,716.0 L520.5,716.2 L521.5,715.8 L522.4,715.9 L523.3,715.3 L524.2,715.2 L525.1,714.7 L526.0,715.7 L527.0,714.7 L527.9,713.9 L528.8,712.8 L529.7,712.7 L530.6,712.7 L531.6,711.3 L532.5,709.7 L533.4,710.1 L534.3,709.6 L535.2,709.3 L536.1,709.5 L537.1,710.4 L538.0,710.9 L538.9,711.9 L539.8,711.8 L540.7,713.6 L541.6,713.4 L542.6,714.6 L543.5,712.5 L544.4,714.0 L545.3,714.0 L546.2,712.9 L547.1,712.9 L548.1,712.3 L549.0,711.2 L549.9,709.4 L550.8,708.0 L551.7,706.8 L552.6,704.7 L553.6,701.6 L554.5,698.9 L555.4,696.4 L556.3,694.5 L557.2,691.6 L558.1,690.5 L559.1,691.3 L560.0,691.4 L560.9,692.9 L561.8,694.6 L562.7,696.0 L563.6,696.0 L564.6,697.4 L565.5,696.0 L566.4,697.0 L567.3,695.5 L568.2,695.5 L569.1,696.9 L570.1,697.3 L571.0,698.6 L571.9,700.7 L572.8,703.3 L573.7,705.0 L574.6,706.9 L575.6,709.3 L576.5,709.8 L577.4,711.1 L578.3,712.1 L579.2,713.8 L580.2,714.3 L581.1,714.9 L582.0,714.6 L582.9,714.8 L583.8,715.5 L584.7,715.0 L585.7,715.8 L586.6,715.9 L587.5,715.2 L588.4,715.7 L589.3,715.7 L590.2,716.8 L591.2,717.3 L592.1,715.9 L593.0,716.0 L593.9,714.8 L594.8,716.2 L595.7,716.1 L596.7,715.6 L597.6,716.7 L598.5,715.4 L599.4,716.2 L600.3,716.4 L601.2,715.6 L602.2,716.8 L603.1,717.0 L604.0,715.6 L604.9,715.6 L605.8,716.8 L606.7,716.4 L607.7,715.8 L608.6,716.3 L609.5,716.4 L610.4,716.4 L611.3,717.0 L612.2,716.8 L613.2,717.5 L614.1,717.3 L615.0,717.0 L615.9,717.2 L616.8,717.3 L617.7,717.0 L618.7,716.0 L619.6,717.1 L620.5,716.7 L621.4,717.5 L622.3,716.7 L623.3,717.0 L624.2,716.8 L625.1,717.6 L626.0,716.8 L626.9,716.5 L627.8,716.9 L628.8,716.5 L629.7,716.8 L630.6,716.7 L631.5,716.9 L632.4,717.8 L633.3,716.5 L634.3,716.7 L635.2,716.6 L636.1,717.1 L637.0,716.1 L637.9,716.3 L638.8,716.7 L639.8,717.0 L640.7,716.7 L641.6,716.5 L642.5,716.3 L643.4,717.0 L644.3,717.5 L645.3,716.9 L646.2,716.8 L647.1,717.0 L648.0,716.2 L648.9,716.6 L649.8,716.6 L650.8,716.9 L651.7,716.7 L652.6,716.1 L653.5,717.4 L654.4,717.7 L655.3,716.6 L656.3,717.0 L657.2,716.9 L658.1,717.2 L659.0,715.9 L659.9,717.6 L660.8,716.5 L661.8,717.5 L662.7,716.8 L663.6,716.5 L664.5,716.7 L665.4,717.3 L666.3,716.3 L667.3,716.6 L668.2,716.5 L669.1,715.8 L670.0,717.5 L670.9,717.1 L671.9,716.7 L672.8,717.4 L673.7,716.2 L674.6,716.7 L675.5,717.7 L676.4,717.3 L677.4,715.5 L678.3,714.9 L679.2,716.2 L680.1,717.3 L681.0,716.5 L681.9,716.6 L682.9,717.1 L683.8,716.2 L684.7,716.9 L685.6,717.2 L686.5,717.0 L687.4,716.9 L688.4,716.4 L689.3,717.0 L690.2,716.5 L691.1,717.4 L692.0,718.1 L692.9,716.3 L693.9,715.5 L694.8,716.5 L695.7,716.9 L696.6,717.3 L697.5,717.3 L698.4,716.3 L699.4,716.2 L700.3,717.4 L701.2,716.1 L702.1,717.3 L703.0,716.5 L703.9,717.1 L704.9,717.0 L705.8,717.1 L706.7,717.1 L707.6,716.1 L708.5,716.8 L709.4,716.6 L710.4,716.8 L711.3,717.3 L712.2,716.4 L713.1,716.2 L714.0,716.2 L715.0,716.4 L715.9,717.0 L716.8,716.1 L717.7,717.2 L718.6,716.7 L719.5,716.4 L720.5,715.7 L721.4,716.6 L722.3,716.8 L723.2,715.5 L724.1,717.1 L725.0,717.3 L726.0,716.6 L726.9,716.6 L727.8,717.7 L728.7,717.0 L729.6,715.8 L730.5,716.3 L731.5,716.2 L732.4,716.1 L733.3,714.9 L734.2,716.6 L735.1,715.8 L736.0,716.2 L737.0,716.0 L737.9,716.5 L738.8,715.8 L739.7,715.5 L740.6,716.1 L741.5,716.6 L742.5,715.6 L743.4,716.4 L744.3,715.7 L745.2,715.2 L746.1,716.2 L747.0,714.8 L748.0,715.7 L748.9,714.8 L749.8,715.1 L750.7,714.0 L751.6,714.1 L752.5,714.9 L753.5,714.1 L754.4,713.7 L755.3,713.1 L756.2,713.1 L757.1,711.6 L758.0,711.1 L759.0,710.7 L759.9,709.1 L760.8,707.4 L761.7,704.8 L762.6,700.2 L763.6,693.2 L764.5,684.5 L765.4,671.7 L766.3,658.2 L767.2,645.7 L768.1,640.4 L769.1,644.0 L770.0,655.3 L770.9,667.0 L771.8,679.1 L772.7,688.5 L773.6,694.7 L774.6,697.5 L775.5,697.7 L776.4,698.2 L777.3,696.2 L778.2,695.0 L779.1,691.9 L780.1,689.3 L781.0,687.3 L781.9,683.9 L782.8,683.5 L783.7,682.7 L784.6,684.0 L785.6,687.2 L786.5,689.8 L787.4,690.7 L788.3,692.8 L789.2,693.4 L790.1,695.0 L791.1,696.3 L792.0,696.3 L792.9,696.3 L793.8,696.1 L794.7,697.2 L795.6,697.6 L796.6,697.5 L797.5,697.2 L798.4,696.2 L799.3,697.4 L800.2,695.4 L801.1,693.6 L802.1,690.8 L803.0,683.6 L803.9,676.1 L804.8,663.7 L805.7,647.9 L806.7,629.9 L807.6,611.7 L808.5,599.2 L809.4,600.6 L810.3,613.3 L811.2,632.0 L812.2,650.8 L813.1,667.8 L814.0,682.5 L814.9,692.1 L815.8,698.5 L816.7,701.8 L817.7,706.5 L818.6,705.8 L819.5,708.6 L820.4,711.0 L821.3,710.5 L822.2,711.4 L823.2,711.2 L824.1,713.1 L825.0,712.1 L825.9,713.3 L826.8,713.5 L827.7,713.1 L828.7,714.4 L829.6,713.4 L830.5,714.0 L831.4,714.5 L832.3,714.4 L833.2,715.0 L834.2,715.3 L835.1,714.7 L836.0,714.7 L836.9,714.8 L837.8,714.9 L838.7,715.6 L839.7,715.0 L840.6,715.4 L841.5,715.2 L842.4,714.7 L843.3,715.7 L844.2,714.6 L845.2,715.2 L846.1,715.9 L847.0,714.5 L847.9,715.0 L848.8,714.0 L849.7,714.5 L850.7,713.8 L851.6,714.3 L852.5,714.0 L853.4,714.1 L854.3,714.6 L855.3,713.6 L856.2,713.4 L857.1,712.6 L858.0,711.9 L858.9,711.1 L859.8,709.9 L860.8,710.3 L861.7,710.4 L862.6,708.9 L863.5,707.5 L864.4,707.8 L865.3,705.8 L866.3,704.7 L867.2,703.5 L868.1,702.7 L869.0,702.2 L869.9,702.6 L870.8,700.6 L871.8,699.5 L872.7,699.2 L873.6,699.0 L874.5,698.0 L875.4,699.0 L876.3,699.6 L877.3,700.0 L878.2,701.1 L879.1,701.3 L880.0,702.5 L880.9,705.6 L881.8,706.8 L882.8,706.7 L883.7,708.8 L884.6,709.7 L885.5,710.9 L886.4,711.6 L887.3,711.9 L888.3,712.8 L889.2,713.3 L890.1,713.7 L891.0,713.1 L891.9,712.8 L892.8,714.3 L893.8,714.0 L894.7,715.3 L895.6,715.7 L896.5,715.6 L897.4,715.4 L898.4,715.8 L899.3,716.5 L900.2,715.5 L901.1,716.5 L902.0,716.5 L902.9,716.3 L903.9,717.0 L904.8,715.9 L905.7,716.8 L906.6,715.8 L907.5,716.0 L908.4,715.8 L909.4,716.7 L910.3,716.0 L911.2,716.5 L912.1,715.9 L913.0,717.2 L913.9,717.6 L914.9,716.7 L915.8,717.5 L916.7,717.0 L917.6,717.9 L918.5,716.7 L919.4,715.8 L920.4,717.5 L921.3,716.7 L922.2,716.2 L923.1,716.4 L924.0,715.9 L924.9,716.7 L925.9,716.2 L926.8,717.6 L927.7,717.2 L928.6,715.9 L929.5,716.0 L930.4,716.5 L931.4,715.8 L932.3,716.8 L933.2,716.9 L934.1,716.5 L935.0,716.6 L935.9,717.2 L936.9,717.7 L937.8,717.7 L938.7,716.9 L939.6,717.4 L940.5,716.5 L941.4,717.2 L942.4,716.4 L943.3,717.4 L944.2,716.3 L945.1,716.4 L946.0,717.0 L947.0,717.3 L947.9,716.2 L948.8,716.7 L949.7,717.1 L950.6,717.1 L951.5,716.5 L952.5,717.0 L953.4,716.8 L954.3,717.8 L955.2,717.3 L956.1,716.3 L957.0,715.8 L958.0,717.1 L958.9,717.7 L959.8,717.1 L960.7,717.5 L961.6,716.7 L962.5,716.3 L963.5,717.4 L964.4,717.1 L965.3,717.4 L966.2,716.2 L967.1,717.1 L968.0,716.7 L969.0,717.4 L969.9,716.7 L970.8,716.7 L971.7,716.7 L972.6,717.7 L973.5,717.0 L974.5,716.6 L975.4,716.4 L976.3,716.4 L977.2,717.8 L978.1,716.0 L979.0,716.5 L980.0,717.3 L980.9,717.6 L981.8,716.8 L982.7,717.3 L983.6,717.3 L984.5,717.4 L985.5,716.8 L986.4,717.7 L987.3,716.9 L988.2,717.6 L989.1,716.1 L990.1,717.2 L991.0,715.9 L991.9,715.7 L992.8,716.8 L993.7,716.0 L994.6,716.6 L995.6,715.7 L996.5,717.0 L997.4,716.1 L998.3,715.3 L999.2,715.9 L1000.1,716.2 L1001.1,715.1 L1002.0,715.7 L1002.9,716.4 L1003.8,715.6 L1004.7,714.9 L1005.6,714.5 L1006.6,714.9 L1007.5,713.6 L1008.4,712.6 L1009.3,713.7 L1010.2,713.3 L1011.1,714.7 L1012.1,713.7 L1013.0,713.0 L1013.9,712.8 L1014.8,713.6 L1015.7,712.9 L1016.6,713.0 L1017.6,713.3 L1018.5,713.4 L1019.4,713.5 L1020.3,713.6 L1021.2,714.4 L1022.1,714.7 L1023.1,713.0 L1024.0,715.5 L1024.9,714.4 L1025.8,715.2 L1026.7,714.2 L1027.6,715.0 L1028.6,715.1 L1029.5,715.2 L1030.4,715.8 L1031.3,715.8 L1032.2,715.1 L1033.1,715.7 L1034.1,716.3 L1035.0,716.4 L1035.9,716.0 L1036.8,716.1 L1037.7,716.3 L1038.7,715.8 L1039.6,715.8 L1040.5,717.5 L1041.4,716.4 L1042.3,716.8 L1043.2,716.4 L1044.2,717.5 L1045.1,717.8 L1046.0,716.8 L1046.9,717.2 L1047.8,716.5 L1048.7,718.0 L1049.7,717.5 L1050.6,716.6 L1051.5,717.7 L1052.4,717.3 L1053.3,717.3 L1054.2,717.3 L1055.2,716.7 L1056.1,716.8 L1057.0,717.5 L1057.9,717.1 L1058.8,716.6 L1059.7,718.3 L1060.7,717.1 L1061.6,716.9 L1062.5,716.8 L1063.4,717.6 L1064.3,717.7 L1065.2,717.3 L1066.2,717.7 L1067.1,716.4 L1068.0,717.0 L1068.9,717.0 L1069.8,717.2 L1070.7,717.5 L1071.7,716.1 L1072.6,718.9 L1073.5,716.8 L1074.4,717.4 L1075.3,717.7 L1076.2,717.7 L1077.2,717.4 L1078.1,715.6 L1079.0,716.6 L1079.9,717.7 L1080.8,716.7 L1081.8,716.7 L1082.7,715.9 L1083.6,717.9 L1084.5,717.5 L1085.4,716.7 L1086.3,717.2 L1087.3,717.2 L1088.2,716.6 L1089.1,717.1 L1090.0,717.4 L1090.9,717.5 L1091.8,717.9 L1092.8,717.2 L1093.7,717.0 L1094.6,717.4 L1095.5,716.9 L1096.4,716.5 L1097.3,717.8 L1098.3,717.0 L1099.2,717.3 L1100.1,717.5 L1101.0,716.6 L1101.9,717.5 L1102.8,717.4 L1103.8,717.1 L1104.7,717.4 L1105.6,716.7 L1106.5,715.9 L1107.4,717.0 L1108.3,716.6 L1109.3,717.6 L1110.2,717.2 L1111.1,716.8 L1112.0,717.1 L1112.9,717.8 L1113.8,717.7 L1114.8,717.2 L1115.7,717.2 L1116.6,716.8 L1117.5,716.9 L1118.4,717.3 L1119.3,716.9 L1120.3,717.1 L1121.2,716.2 L1122.1,715.9 L1123.0,715.9 L1123.9,716.5 L1124.8,717.4 L1125.8,717.3 L1126.7,716.0 L1127.6,715.7 L1128.5,716.9 L1129.4,716.6 L1130.4,715.5 L1131.3,716.7 L1132.2,716.0 L1133.1,716.5 L1134.0,715.6 L1134.9,715.6 L1135.9,714.9 L1136.8,713.6 L1137.7,713.3 L1138.6,712.3 L1139.5,712.1 L1140.4,710.0 L1141.4,708.4 L1142.3,708.2 L1143.2,706.9 L1144.1,705.6 L1145.0,704.0 L1145.9,701.3 L1146.9,701.0 L1147.8,700.7 L1148.7,701.1 L1149.6,700.5 L1150.5,702.5 L1151.4,703.7 L1152.4,704.1 L1153.3,705.6 L1154.2,707.0 L1155.1,706.9 L1156.0,707.7 L1156.9,707.6 L1157.9,707.0 L1158.8,706.5 L1159.7,705.3 L1160.6,705.5 L1161.5,703.8 L1162.4,703.1 L1163.4,703.7 L1164.3,703.0 L1165.2,704.2 L1166.1,705.5 L1167.0,706.1 L1167.9,707.4 L1168.9,709.1 L1169.8,710.2 L1170.7,710.1 L1171.6,711.3 L1172.5,713.6 L1173.5,713.9 L1174.4,713.2 L1175.3,714.1 L1176.2,715.3 L1177.1,715.1 L1178.0,716.1 L1179.0,716.1 L1179.9,716.5 L1180.8,715.7 L1181.7,716.8 L1182.6,717.6 L1183.5,716.2 L1184.5,717.4 L1185.4,717.3 L1186.3,717.2 L1187.2,716.8 L1188.1,716.3 L1189.0,716.5 L1190.0,717.4 L1190.9,717.5 L1191.8,717.7 L1192.7,717.6 L1193.6,717.6 L1194.5,716.9 L1195.5,716.5 L1196.4,717.3 L1197.3,717.4 L1198.2,717.2 L1199.1,716.4 L1200.0,716.9 L1201.0,716.4 L1201.9,717.3 L1202.8,716.7 L1203.7,717.2 L1204.6,717.5 L1205.5,717.4 L1206.5,718.1 L1207.4,716.7 L1208.3,716.1 L1209.2,717.8 L1210.1,718.1 L1211.0,718.1 L1212.0,717.5 L1212.9,717.6 L1213.8,717.4 L1214.7,716.7 L1215.6,717.1 L1216.5,717.6 L1217.5,717.1 L1218.4,718.4 L1219.3,716.5 L1220.2,717.2 L1221.1,718.0 L1222.1,717.1 L1223.0,716.8 L1223.9,716.7 L1224.8,717.0 L1225.7,718.2 L1226.6,717.6 L1227.6,717.7 L1228.5,717.1 L1229.4,717.9 L1230.3,717.5 L1231.2,716.9 L1232.1,717.2 L1233.1,717.5 L1234.0,718.1 L1234.9,717.4 L1235.8,717.7 L1236.7,718.5 L1237.6,717.0 L1238.6,716.7 L1239.5,718.0 L1240.4,717.7 L1241.3,717.4 L1242.2,717.6 L1243.1,717.2 L1244.1,717.7 L1245.0,717.2 L1245.9,717.8 L1246.8,716.7 L1247.7,716.9 L1248.6,717.4 L1249.6,717.1 L1250.5,717.7 L1251.4,717.3 L1252.3,717.0 L1253.2,717.4 L1254.1,717.0 L1255.1,716.4 L1256.0,716.6 L1256.9,716.8 L1257.8,716.9 L1258.7,717.2 L1259.6,717.6 L1260.6,717.3 L1261.5,717.9 L1262.4,717.5 L1263.3,716.6 L1264.2,717.4 L1265.2,716.9 L1266.1,715.7 L1267.0,715.7 L1267.9,715.7 L1268.8,714.7 L1269.7,714.6 L1270.7,713.8 L1271.6,713.4 L1272.5,712.5 L1273.4,712.7 L1274.3,712.2 L1275.2,713.0 L1276.2,712.1 L1277.1,713.6 L1278.0,714.6 L1278.9,714.8 L1279.8,714.9 L1280.7,715.6 L1281.7,715.2 L1282.6,715.4 L1283.5,715.8 L1284.4,716.1 L1285.3,716.7 L1286.2,715.7 L1287.2,716.7 L1288.1,715.1 L1289.0,715.4 L1289.9,715.6 L1290.8,716.1 L1291.7,714.8 L1292.7,713.7 L1293.6,714.9 L1294.5,714.3 L1295.4,713.5 L1296.3,713.3 L1297.2,713.3 L1298.2,713.6 L1299.1,713.9 L1300.0,712.8 L1300.9,715.0 L1301.8,713.9 L1302.7,714.0 L1303.7,714.8 L1304.6,714.8 L1305.5,716.3 L1306.4,716.0 L1307.3,715.4 L1308.2,715.7 L1309.2,715.9 L1310.1,716.2 L1311.0,716.9 L1311.9,716.3 L1312.8,717.7 L1313.8,716.9 L1314.7,717.0 L1315.6,717.6 L1316.5,716.1 L1317.4,716.7 L1318.3,717.6 L1319.3,717.3 L1320.2,717.3 L1321.1,717.6 L1322.0,717.1 L1322.9,717.3 L1323.8,716.7 L1324.8,716.4 L1325.7,718.1 L1326.6,717.0 L1327.5,717.1 L1328.4,718.3 L1329.3,718.1 L1330.3,717.2 L1331.2,717.2 L1332.1,717.5 L1333.0,717.0 L1333.9,717.8 L1334.8,717.6 L1335.8,717.6 L1336.7,718.0 L1337.6,717.9 L1338.5,718.6 L1339.4,718.4 L1340.3,716.6 L1341.3,718.1 L1342.2,716.9 L1343.1,716.8 L1344.0,718.0 L1344.9,717.2 L1345.8,717.4 L1346.8,718.2 L1347.7,717.2 L1348.6,717.1 L1349.5,717.8 L1350.4,718.3 L1351.3,717.9 L1352.3,716.7 L1353.2,717.2 L1354.1,717.5 L1355.0,718.6 L1355.9,718.1 L1356.9,718.1 L1357.8,718.2 L1358.7,717.4 L1359.6,717.8 L1360.5,717.8 L1361.4,717.0 L1362.4,717.6 L1363.3,717.9 L1364.2,717.0 L1365.1,718.0 L1366.0,718.0 L1366.9,718.1 L1367.9,717.1 L1368.8,717.6 L1369.7,718.4 L1370.6,718.0 L1371.5,717.1 L1372.4,717.7 L1373.4,718.3 L1374.3,717.5 L1375.2,717.7 L1376.1,718.9 L1377.0,717.5 L1377.9,717.4 L1378.9,716.9 L1379.8,717.1 L1380.7,718.3 L1381.6,717.4 L1382.5,716.8 L1383.4,716.9 L1384.4,717.4 L1385.3,717.8 L1386.2,716.9 L1387.1,717.7 L1388.0,717.0 L1388.9,717.5 L1389.9,717.5 L1390.8,717.5 L1391.7,716.9 L1392.6,717.0 L1393.5,717.3 L1394.4,716.2 L1395.4,716.9 L1396.3,717.0 L1397.2,717.2 L1398.1,716.4 L1399.0,716.2 L1399.9,716.1 L1400.9,715.2 L1401.8,715.0 L1402.7,714.7 L1403.6,713.7 L1404.5,711.7 L1405.5,710.5 L1406.4,707.6 L1407.3,707.0 L1408.2,704.1 L1409.1,702.8 L1410.0,701.3 L1411.0,702.6 L1411.9,704.6 L1412.8,707.1 L1413.7,708.0 L1414.6,711.1 L1415.5,712.2 L1416.5,713.1 L1417.4,714.7 L1418.3,714.9 L1419.2,715.4 L1420.1,715.5 L1421.0,716.3 L1422.0,716.3 L1422.9,716.4 L1423.8,716.1 L1424.7,716.4 L1425.6,717.0 L1426.5,717.5 L1427.5,716.8 L1428.4,717.6 L1429.3,716.9 L1430.2,716.3 L1431.1,717.3 L1432.0,716.4 L1433.0,717.1 L1433.9,717.5 L1434.8,716.7 L1435.7,716.8 L1436.6,718.2 L1437.5,716.9 L1438.5,716.8 L1439.4,717.0 L1440.3,716.5 L1441.2,716.4 L1442.1,716.5 L1443.0,714.8 L1444.0,716.6 L1444.9,714.9 L1445.8,714.5 L1446.7,714.8 L1447.6,713.7 L1448.6,711.8 L1449.5,711.1 L1450.4,708.4 L1451.3,706.3 L1452.2,703.1 L1453.1,700.8 L1454.1,699.3 L1455.0,698.3 L1455.9,699.2 L1456.8,701.7 L1457.7,703.9 L1458.6,706.3 L1459.6,708.9 L1460.5,711.9 L1461.4,712.6 L1462.3,713.9 L1463.2,714.5 L1464.1,715.3 L1465.1,715.8 L1466.0,715.9 L1466.9,716.1 L1467.8,715.9 L1468.7,716.0 L1469.6,716.8 L1470.6,717.1 L1471.5,717.3 L1472.4,716.9 L1473.3,716.5 L1474.2,717.4 L1475.1,717.4 L1476.1,716.3 L1477.0,717.6 L1477.9,717.5 L1478.8,718.1 L1479.7,716.6 L1480.6,716.5 L1481.6,717.7 L1482.5,716.3 L1483.4,716.9 L1484.3,716.7 L1485.2,716.7 L1486.1,716.3 L1487.1,717.2 L1488.0,717.8 L1488.9,717.6 L1489.8,717.6 L1490.7,717.1 L1491.6,718.1 L1492.6,717.6 L1493.5,717.9 L1494.4,716.4 L1495.3,717.5 L1496.2,716.6 L1497.2,717.5 L1498.1,717.4 L1499.0,716.6 L1499.9,717.3 L1500.8,717.8 L1501.7,717.4 L1502.7,717.5 L1503.6,716.6 L1504.5,716.7 L1505.4,716.4 L1506.3,717.1 L1507.2,717.6 L1508.2,717.2 L1509.1,716.9 L1510.0,716.2 L1510.9,717.0 L1511.8,716.5 L1512.7,715.5 L1513.7,715.5 L1514.6,716.2 L1515.5,715.7 L1516.4,717.0 L1517.3,715.9 L1518.2,715.1 L1519.2,715.1 L1520.1,715.9 L1521.0,714.1 L1521.9,714.5 L1522.8,713.5 L1523.7,712.9 L1524.7,710.5 L1525.6,707.2 L1526.5,703.6 L1527.4,697.7 L1528.3,690.8 L1529.2,681.7 L1530.2,674.1 L1531.1,666.0 L1532.0,663.5 L1532.9,665.5 L1533.8,672.8 L1534.7,681.3 L1535.7,689.8 L1536.6,697.3 L1537.5,702.0 L1538.4,705.7 L1539.3,709.3 L1540.3,710.0 L1541.2,710.5 L1542.1,711.7 L1543.0,711.3 L1543.9,708.9 L1544.8,709.4 L1545.8,709.1 L1546.7,707.9 L1547.6,705.8 L1548.5,705.5 L1549.4,703.0 L1550.3,702.4 L1551.3,702.3 L1552.2,702.6 L1553.1,703.9 L1554.0,705.4 L1554.9,706.2 L1555.8,708.4 L1556.8,708.5 L1557.7,709.8 L1558.6,711.7 L1559.5,711.4 L1560.4,712.2 L1561.3,711.4 L1562.3,711.3 L1563.2,710.9 L1564.1,710.3 L1565.0,709.0 L1565.9,708.0 L1566.8,707.0 L1567.8,705.9 L1568.7,704.1 L1569.6,703.6 L1570.5,703.4 L1571.4,702.8 L1572.3,703.5 L1573.3,706.6 L1574.2,708.0 L1575.1,708.9 L1576.0,710.5 L1576.9,711.0 L1577.8,711.8 L1578.8,713.7 L1579.7,713.4 L1580.6,715.3 L1581.5,714.9 L1582.4,715.8 L1583.3,717.0 L1584.3,717.2 L1585.2,716.2 L1586.1,717.1 L1587.0,716.0 L1587.9,716.4 L1588.9,717.0 L1589.8,717.6 L1590.7,716.6 L1591.6,717.3 L1592.5,717.1 L1593.4,716.5 L1594.4,717.1 L1595.3,718.1 L1596.2,717.2 L1597.1,717.6 L1598.0,717.8 L1598.9,717.0 L1599.9,718.1 L1600.8,718.3 L1601.7,718.3 L1602.6,718.2 L1603.5,717.2 L1604.4,717.2 L1605.4,717.1 L1606.3,717.0 L1607.2,717.1 L1608.1,718.1 L1609.0,718.4 L1609.9,717.3 L1610.9,718.1 L1611.8,716.9 L1612.7,717.5 L1613.6,717.1 L1614.5,716.8 L1615.4,717.7 L1616.4,717.7 L1617.3,717.5 L1618.2,717.4 L1619.1,717.2 L1620.0,717.6 L1620.9,717.4 L1621.9,717.8 L1622.8,717.1 L1623.7,717.8 L1624.6,718.0 L1625.5,718.4 L1626.4,718.3 L1627.4,717.8 L1628.3,717.4 L1629.2,716.7 L1630.1,717.7 L1631.0,718.5 L1632.0,718.7 L1632.9,716.4 L1633.8,717.3 L1634.7,717.6 L1635.6,717.2 L1636.5,717.9 L1637.5,717.8 L1638.4,717.5 L1639.3,717.7 L1640.2,716.9 L1641.1,717.2 L1642.0,717.3 L1643.0,718.3 L1643.9,716.9 L1644.8,717.6 L1645.7,718.2 L1646.6,717.7 L1647.5,718.2 L1648.5,717.4 L1649.4,718.0 L1650.3,718.3 L1651.2,719.0 L1652.1,718.2 L1653.0,718.5 L1654.0,717.8 L1654.9,717.8 L1655.8,718.6 L1656.7,718.1 L1657.6,718.5 L1658.5,718.1 L1659.5,718.9 L1660.4,719.0 L1661.3,717.2 L1662.2,718.7 L1663.1,717.9 L1664.0,717.9 L1665.0,717.6 L1665.9,718.0 L1666.8,717.0 L1667.7,717.2 L1668.6,717.2 L1669.5,717.7 L1670.5,718.1 L1671.4,717.9 L1672.3,717.7 L1673.2,717.1 L1674.1,716.5 L1675.0,717.6 L1676.0,717.4 L1676.9,717.5 L1677.8,718.0 L1678.7,717.1 L1679.6,717.0 L1680.6,715.7 L1681.5,717.2 L1682.4,716.7 L1683.3,716.1 L1684.2,716.5 L1685.1,715.3 L1686.1,715.1 L1687.0,715.9 L1687.9,714.4 L1688.8,713.5 L1689.7,712.2 L1690.6,710.7 L1691.6,708.9 L1692.5,708.5 L1693.4,706.1 L1694.3,706.1 L1695.2,706.0 L1696.1,707.0 L1697.1,707.4 L1698.0,709.2 L1698.9,712.5 L1699.8,713.7 L1700.7,713.6 L1701.6,714.6 L1702.6,715.5 L1703.5,715.1 L1704.4,716.9 L1705.3,715.6 L1706.2,715.9 L1707.1,714.9 L1708.1,717.3 L1709.0,716.5 L1709.9,717.4 L1710.8,715.9 L1711.7,716.6 L1712.6,716.4 L1713.6,716.3 L1714.5,717.2 L1715.4,717.1 L1716.3,716.3 L1717.2,714.9 L1718.1,715.0 L1719.1,714.4 L1720.0,713.0 L1720.9,711.8 L1721.8,710.3 L1722.7,708.0 L1723.7,707.2 L1724.6,706.8 L1725.5,704.9 L1726.4,705.9 L1727.3,707.5 L1728.2,707.7 L1729.2,709.9 L1730.1,710.5 L1731.0,712.3 L1731.9,712.8 L1732.8,713.9 L1733.7,714.7 L1734.7,715.2 L1735.6,715.5 L1736.5,714.5 L1737.4,716.8 L1738.3,715.9 L1739.2,715.5 L1740.2,715.7 L1741.1,716.2 L1742.0,715.4 L1742.9,715.6 L1743.8,715.4 L1744.7,715.7 L1745.7,714.6 L1746.6,714.7 L1747.5,714.0 L1748.4,712.8 L1749.3,712.4 L1750.2,710.4 L1751.2,708.2 L1752.1,707.4 L1753.0,706.0 L1753.9,705.0 L1754.8,705.1 L1755.7,707.0 L1756.7,707.1 L1757.6,708.7 L1758.5,709.7 L1759.4,711.8 L1760.3,712.1 L1761.2,712.4 L1762.2,712.8 L1763.1,714.1 L1764.0,714.4 L1764.9,713.3 L1765.8,713.8 L1766.7,714.5 L1767.7,714.6 L1768.6,713.2 L1769.5,713.5 L1770.4,714.0 L1771.3,713.1 L1772.3,712.9 L1773.2,712.6 L1774.1,711.9 L1775.0,712.4 L1775.9,712.2 L1776.8,711.0 L1777.8,711.5 L1778.7,711.8 L1779.6,711.0 L1780.5,711.1 L1781.4,710.0 L1782.3,710.8 L1783.3,709.3 L1784.2,710.5 L1785.1,709.0 L1786.0,708.6 L1786.9,708.3 L1787.8,708.4 L1788.8,708.2 L1789.7,707.9 L1790.6,708.0 L1791.5,708.4 L1792.4,708.3 L1793.3,707.5 L1794.3,708.2 L1795.2,706.7 L1796.1,706.4 L1797.0,705.9 L1797.9,706.2 L1798.8,704.1 L1799.8,702.9 L1800.7,702.7 L1801.6,700.8 L1802.5,697.9 L1803.4,693.2 L1804.3,690.4 L1805.3,687.0 L1806.2,683.2 L1807.1,679.8 L1808.0,679.8 L1808.9,680.3 L1809.8,683.5 L1810.8,689.3 L1811.7,692.8 L1812.6,695.8 L1813.5,699.4 L1814.4,703.7 L1815.4,705.7 L1816.3,708.5 L1817.2,709.5 L1818.1,711.1 L1819.0,712.3 L1819.9,712.4 L1820.9,712.6 L1821.8,713.5 L1822.7,714.2 L1823.6,714.9 L1824.5,715.3 L1825.4,715.5 L1826.4,716.1 L1827.3,715.5 L1828.2,716.9 L1829.1,717.4 L1830.0,716.7 L1830.9,716.7 L1831.9,717.4 L1832.8,717.2 L1833.7,717.0 L1834.6,716.9 L1835.5,716.6 L1836.4,716.5 L1837.4,717.5 L1838.3,717.9 L1839.2,716.7 L1840.1,717.3 L1841.0,717.5 L1841.9,717.2 L1842.9,717.0 L1843.8,717.3 L1844.7,716.4 L1845.6,717.5 L1846.5,717.4 L1847.4,718.8 L1848.4,718.1 L1849.3,717.5 L1850.2,717.7 L1851.1,718.6 L1852.0,718.6 L1852.9,717.8 L1853.9,717.7 L1854.8,717.0 L1855.7,717.6 L1856.6,717.7 L1857.5,717.4 L1858.4,718.8 L1859.4,716.8 L1860.3,717.8 L1861.2,718.1 L1862.1,718.1 L1863.0,718.8 L1864.0,717.1 L1864.9,717.5 L1865.8,718.0 L1866.7,718.0 L1867.6,717.7 L1868.5,717.5 L1869.5,718.5 L1870.4,717.4 L1871.3,717.6 L1872.2,718.8 L1873.1,718.9 L1874.0,718.5 L1875.0,717.5 L1875.9,717.5 L1876.8,717.5 L1877.7,717.4 L1878.6,717.8 L1879.5,718.7 L1880.5,718.1 L1881.4,717.6 L1882.3,717.6 L1883.2,717.4 L1884.1,718.7 L1885.0,716.9 L1886.0,718.2 L1886.9,717.3 L1887.8,717.5 L1888.7,717.2 L1889.6,718.6 L1890.5,718.0 L1891.5,719.6 L1892.4,717.5 L1893.3,717.5 L1894.2,718.4 L1895.1,718.4 L1896.0,717.9 L1897.0,717.0 L1897.9,718.9 L1898.8,718.4 L1899.7,718.3 L1900.6,717.8 L1901.5,718.4 L1902.5,717.8 L1903.4,718.1 L1904.3,718.0 L1905.2,718.8 L1906.1,717.8 L1907.1,717.9 L1908.0,718.7 L1908.9,718.2 L1909.8,718.1 L1910.7,718.0 L1911.6,718.6 L1912.6,717.7 L1913.5,718.4 L1914.4,719.2 L1915.3,718.3 L1916.2,717.7 L1917.1,717.4 L1918.1,718.2 L1919.0,717.4 L1919.9,717.2 L1920.8,717.7 L1921.7,717.5 L1922.6,718.6 L1923.6,717.3 L1924.5,719.0 L1925.4,717.7 L1926.3,718.2 L1927.2,718.5 L1928.1,718.2 L1929.1,718.5 L1930.0,717.5 L1930.9,716.8 L1931.8,718.0 L1932.7,717.2 L1933.6,717.8 L1934.6,718.6 L1935.5,718.0 L1936.4,717.7 L1937.3,717.4 L1938.2,717.9 L1939.1,718.0 L1940.1,717.2 L1941.0,718.2 L1941.9,717.4 L1942.8,718.1 L1943.7,717.8 L1944.6,718.6 L1945.6,718.5 L1946.5,718.0 L1947.4,717.9 L1948.3,718.2 L1949.2,718.7 L1950.1,718.5 L1951.1,718.0 L1952.0,718.1 L1952.9,718.8 L1953.8,717.0 L1954.7,718.2 L1955.7,717.4 L1956.6,718.6 L1957.5,717.5 L1958.4,717.7 L1959.3,717.2 L1960.2,717.7 L1961.2,718.1 L1962.1,718.6 L1963.0,716.9 L1963.9,717.3 L1964.8,719.6 L1965.7,717.9 L1966.7,717.3 L1967.6,717.5 L1968.5,715.7 L1969.4,718.0 L1970.3,717.1 L1971.2,716.1 L1972.2,717.4 L1973.1,716.3 L1974.0,715.9 L1974.9,716.6 L1975.8,716.4 L1976.7,715.8 L1977.7,715.8 L1978.6,715.0 L1979.5,714.7 L1980.4,715.8 L1981.3,715.9 L1982.2,715.2 L1983.2,715.0 L1984.1,714.4 L1985.0,714.3 L1985.9,713.7 L1986.8,715.0 L1987.7,713.6 L1988.7,714.0 L1989.6,713.6 L1990.5,712.8 L1991.4,714.5 L1992.3,713.2 L1993.2,713.0 L1994.2,713.5 L1995.1,712.9 L1996.0,713.5"/>
<path clip-path="url(#c3)" stroke="#0b650b" d="M162.0,948.8 L162.9,949.1 L163.8,950.1 L164.8,949.5 L165.7,948.3 L166.6,949.2 L167.5,948.8 L168.4,949.3 L169.3,948.3 L170.3,949.3 L171.2,949.3 L172.1,950.1 L173.0,949.4 L173.9,949.5 L174.8,948.4 L175.8,950.4 L176.7,948.1 L177.6,949.8 L178.5,949.0 L179.4,948.7 L180.3,948.8 L181.3,948.8 L182.2,949.4 L183.1,949.1 L184.0,950.0 L184.9,948.2 L185.8,949.2 L186.8,948.7 L187.7,949.6 L188.6,948.0 L189.5,949.0 L190.4,949.3 L191.3,948.4 L192.3,949.7 L193.2,949.3 L194.1,949.8 L195.0,949.7 L195.9,948.7 L196.8,948.8 L197.8,949.1 L198.7,949.6 L199.6,949.7 L200.5,948.8 L201.4,948.9 L202.3,948.8 L203.3,948.9 L204.2,949.1 L205.1,949.1 L206.0,950.3 L206.9,948.9 L207.8,949.0 L208.8,949.4 L209.7,948.7 L210.6,949.0 L211.5,949.2 L212.4,949.6 L213.4,948.5 L214.3,949.9 L215.2,949.0 L216.1,949.3 L217.0,949.6 L217.9,949.5 L218.9,949.8 L219.8,949.3 L220.7,949.2 L221.6,949.3 L222.5,948.6 L223.4,949.8 L224.4,948.7 L225.3,948.5 L226.2,950.3 L227.1,949.1 L228.0,948.5 L228.9,950.1 L229.9,948.9 L230.8,949.7 L231.7,948.7 L232.6,949.0 L233.5,948.2 L234.4,948.0 L235.4,948.5 L236.3,949.0 L237.2,949.5 L238.1,950.4 L239.0,948.5 L239.9,949.6 L240.9,948.7 L241.8,948.9 L242.7,948.2 L243.6,948.2 L244.5,948.6 L245.4,948.3 L246.4,949.0 L247.3,948.6 L248.2,949.6 L249.1,949.0 L250.0,949.0 L250.9,949.5 L251.9,949.2 L252.8,948.8 L253.7,948.8 L254.6,948.7 L255.5,949.4 L256.5,949.2 L257.4,948.9 L258.3,949.2 L259.2,948.4 L260.1,948.9 L261.0,947.9 L262.0,949.3 L262.9,948.6 L263.8,948.6 L264.7,948.8 L265.6,948.4 L266.5,948.3 L267.5,949.0 L268.4,948.4 L269.3,947.8 L270.2,948.4 L271.1,947.2 L272.0,949.0 L273.0,947.9 L273.9,948.0 L274.8,949.1 L275.7,948.9 L276.6,947.7 L277.5,947.9 L278.5,948.0 L279.4,948.2 L280.3,947.1 L281.2,947.1 L282.1,947.6 L283.0,946.9 L284.0,946.9 L284.9,946.6 L285.8,945.4 L286.7,945.3 L287.6,944.0 L288.5,945.0 L289.5,945.4 L290.4,943.6 L291.3,944.4 L292.2,943.6 L293.1,942.3 L294.0,941.5 L295.0,940.5 L295.9,938.7 L296.8,937.3 L297.7,935.0 L298.6,931.9 L299.5,926.5 L300.5,917.1 L301.4,904.9 L302.3,884.9 L303.2,859.2 L304.1,826.9 L305.1,789.9 L306.0,754.4 L306.9,729.3 L307.8,722.9 L308.7,738.9 L309.6,770.3 L310.6,807.4 L311.5,841.4 L312.4,871.3 L313.3,892.2 L314.2,905.6 L315.1,916.8 L316.1,923.7 L317.0,925.9 L317.9,927.0 L318.8,926.5 L319.7,926.1 L320.6,922.2 L321.6,915.4 L322.5,904.4 L323.4,888.3 L324.3,864.6 L325.2,833.2 L326.1,799.0 L327.1,763.0 L328.0,734.7 L328.9,724.4 L329.8,735.2 L330.7,762.1 L331.6,800.6 L332.6,836.1 L333.5,866.2 L334.4,890.0 L335.3,907.6 L336.2,918.3 L337.1,926.7 L338.1,931.1 L339.0,934.1 L339.9,935.8 L340.8,937.3 L341.7,939.3 L342.6,940.2 L343.6,940.4 L344.5,940.5 L345.4,940.3 L346.3,941.3 L347.2,941.9 L348.2,940.0 L349.1,941.3 L350.0,939.2 L350.9,939.7 L351.8,939.4 L352.7,937.5 L353.7,936.0 L354.6,935.1 L355.5,932.5 L356.4,927.1 L357.3,920.7 L358.2,907.9 L359.2,892.1 L360.1,867.2 L361.0,836.4 L361.9,800.7 L362.8,764.4 L363.7,736.7 L364.7,725.8 L365.6,736.1 L366.5,764.4 L367.4,800.2 L368.3,836.4 L369.2,867.8 L370.2,891.9 L371.1,909.4 L372.0,921.1 L372.9,929.0 L373.8,932.8 L374.7,936.1 L375.7,939.4 L376.6,940.8 L377.5,941.3 L378.4,943.3 L379.3,943.0 L380.2,943.9 L381.2,943.6 L382.1,945.5 L383.0,945.5 L383.9,946.5 L384.8,946.6 L385.7,946.5 L386.7,946.8 L387.6,947.6 L388.5,947.1 L389.4,947.3 L390.3,947.6 L391.2,948.1 L392.2,948.3 L393.1,949.0 L394.0,948.0 L394.9,948.9 L395.8,947.9 L396.8,948.7 L397.7,948.5 L398.6,949.5 L399.5,948.9 L400.4,948.4 L401.3,949.1 L402.3,949.0 L403.2,948.7 L404.1,948.7 L405.0,948.4 L405.9,950.5 L406.8,949.1 L407.8,949.6 L408.7,948.5 L409.6,948.6 L410.5,949.1 L411.4,949.1 L412.3,949.7 L413.3,948.7 L414.2,949.6 L415.1,950.2 L416.0,948.9 L416.9,949.9 L417.8,948.9 L418.8,949.6 L419.7,949.7 L420.6,950.4 L421.5,949.1 L422.4,949.6 L423.3,950.1 L424.3,948.9 L425.2,949.5 L426.1,949.1 L427.0,949.2 L427.9,950.0 L428.8,950.0 L429.8,951.0 L430.7,950.4 L431.6,950.3 L432.5,949.5 L433.4,949.5 L434.3,949.7 L435.3,948.4 L436.2,950.6 L437.1,949.3 L438.0,949.1 L438.9,949.4 L439.9,950.1 L440.8,950.3 L441.7,949.4 L442.6,949.9 L443.5,949.6 L444.4,949.1 L445.4,949.7 L446.3,949.6 L447.2,948.7 L448.1,950.1 L449.0,948.6 L449.9,949.5 L450.9,948.8 L451.8,948.8 L452.7,948.8 L453.6,949.5 L454.5,948.3 L455.4,948.7 L456.4,949.5 L457.3,948.0 L458.2,947.9 L459.1,947.7 L460.0,945.9 L460.9,944.7 L461.9,941.1 L462.8,937.4 L463.7,931.1 L464.6,923.5 L465.5,918.6 L466.4,915.2 L467.4,917.7 L468.3,923.6 L469.2,930.8 L470.1,937.0 L471.0,941.7 L471.9,945.1 L472.9,945.6 L473.8,947.2 L474.7,948.7 L475.6,948.5 L476.5,949.0 L477.4,949.8 L478.4,949.3 L479.3,949.5 L480.2,949.4 L481.1,950.4 L482.0,950.1 L482.9,949.2 L483.9,950.0 L484.8,949.1 L485.7,950.4 L486.6,950.2 L487.5,949.7 L488.5,949.6 L489.4,948.9 L490.3,950.3 L491.2,949.9 L492.1,949.8 L493.0,950.4 L494.0,949.6 L494.9,949.7 L495.8,949.6 L496.7,949.3 L497.6,951.4 L498.5,949.9 L499.5,949.8 L500.4,950.5 L501.3,948.3 L502.2,950.0 L503.1,950.1 L504.0,949.5 L505.0,950.3 L505.9,949.0 L506.8,950.1 L507.7,950.5 L508.6,948.8 L509.5,949.2 L510.5,949.9 L511.4,950.0 L512.3,949.7 L513.2,950.2 L514.1,950.1 L515.0,949.2 L516.0,949.9 L516.9,949.2 L517.8,948.8 L518.7,948.6 L519.6,950.4 L520.5,949.8 L521.5,950.9 L522.4,949.0 L523.3,949.6 L524.2,949.9 L525.1,949.6 L526.0,949.9 L527.0,949.6 L527.9,949.1 L528.8,948.0 L529.7,948.6 L530.6,949.8 L531.6,948.9 L532.5,948.8 L533.4,947.1 L534.3,946.6 L535.2,945.4 L536.1,945.1 L537.1,944.0 L538.0,943.4 L538.9,943.7 L539.8,942.2 L540.7,943.4 L541.6,943.0 L542.6,945.2 L543.5,945.1 L544.4,946.1 L545.3,946.8 L546.2,948.1 L547.1,947.4 L548.1,947.3 L549.0,946.9 L549.9,947.5 L550.8,946.5 L551.7,946.2 L552.6,945.7 L553.6,945.1 L554.5,943.1 L555.4,942.2 L556.3,940.9 L557.2,936.8 L558.1,935.8 L559.1,933.5 L560.0,929.3 L560.9,927.6 L561.8,924.7 L562.7,924.7 L563.6,924.3 L564.6,925.5 L565.5,926.1 L566.4,927.6 L567.3,929.0 L568.2,929.7 L569.1,930.3 L570.1,930.5 L571.0,929.8 L571.9,930.1 L572.8,930.3 L573.7,929.2 L574.6,931.5 L575.6,932.5 L576.5,934.2 L577.4,936.1 L578.3,938.5 L579.2,940.4 L580.2,942.8 L581.1,943.4 L582.0,945.9 L582.9,945.8 L583.8,947.4 L584.7,948.3 L585.7,947.5 L586.6,949.1 L587.5,950.0 L588.4,948.8 L589.3,949.5 L590.2,949.3 L591.2,949.5 L592.1,949.5 L593.0,949.4 L593.9,950.1 L594.8,950.3 L595.7,949.9 L596.7,950.8 L597.6,950.6 L598.5,950.4 L599.4,949.7 L600.3,951.2 L601.2,950.9 L602.2,949.0 L603.1,949.6 L604.0,950.0 L604.9,950.8 L605.8,951.0 L606.7,950.2 L607.7,950.5 L608.6,950.8 L609.5,949.7 L610.4,950.8 L611.3,950.3 L612.2,950.6 L613.2,950.5 L614.1,949.9 L615.0,950.0 L615.9,950.6 L616.8,950.6 L617.7,950.4 L618.7,951.2 L619.6,950.4 L620.5,949.9 L621.4,950.4 L622.3,950.5 L623.3,950.6 L624.2,951.3 L625.1,950.9 L626.0,951.2 L626.9,951.0 L627.8,950.6 L628.8,951.2 L629.7,950.5 L630.6,950.8 L631.5,950.1 L632.4,950.7 L633.3,950.5 L634.3,950.9 L635.2,951.7 L636.1,952.0 L637.0,951.3 L637.9,950.7 L638.8,951.2 L639.8,950.9 L640.7,950.4 L641.6,950.7 L642.5,950.6 L643.4,950.4 L644.3,951.5 L645.3,950.4 L646.2,950.5 L647.1,951.1 L648.0,950.4 L648.9,950.1 L649.8,950.3 L650.8,951.0 L651.7,951.0 L652.6,950.9 L653.5,950.5 L654.4,950.3 L655.3,951.3 L656.3,950.0 L657.2,950.6 L658.1,950.0 L659.0,950.5 L659.9,950.7 L660.8,951.4 L661.8,949.2 L662.7,951.5 L663.6,950.3 L664.5,950.9 L665.4,951.2 L666.3,950.4 L667.3,950.7 L668.2,951.0 L669.1,950.7 L670.0,950.4 L670.9,950.9 L671.9,950.8 L672.8,950.0 L673.7,951.5 L674.6,950.9 L675.5,949.4 L676.4,950.3 L677.4,951.7 L678.3,951.6 L679.2,950.9 L680.1,949.8 L681.0,950.6 L681.9,951.4 L682.9,951.0 L683.8,950.6 L684.7,950.4 L685.6,951.2 L686.5,950.6 L687.4,950.9 L688.4,951.0 L689.3,951.7 L690.2,950.9 L691.1,950.9 L692.0,949.8 L692.9,951.4 L693.9,951.2 L694.8,950.7 L695.7,949.5 L696.6,950.4 L697.5,950.8 L698.4,951.9 L699.4,951.0 L700.3,951.2 L701.2,951.2 L702.1,951.4 L703.0,950.1 L703.9,950.2 L704.9,950.0 L705.8,950.5 L706.7,950.5 L707.6,950.7 L708.5,950.1 L709.4,950.7 L710.4,950.2 L711.3,951.8 L712.2,950.3 L713.1,952.0 L714.0,951.5 L715.0,950.0 L715.9,951.1 L716.8,950.9 L717.7,949.7 L718.6,950.9 L719.5,950.5 L720.5,950.7 L721.4,950.1 L722.3,950.5 L723.2,950.7 L724.1,950.4 L725.0,950.2 L726.0,950.4 L726.9,949.9 L727.8,950.6 L728.7,949.0 L729.6,951.2 L730.5,950.4 L731.5,950.6 L732.4,950.8 L733.3,949.6 L734.2,951.6 L735.1,949.7 L736.0,950.5 L737.0,950.4 L737.9,950.9 L738.8,950.2 L739.7,949.3 L740.6,950.3 L741.5,948.7 L742.5,949.9 L743.4,949.7 L744.3,950.8 L745.2,949.7 L746.1,949.5 L747.0,949.3 L748.0,949.2 L748.9,949.3 L749.8,949.8 L750.7,948.7 L751.6,949.2 L752.5,948.3 L753.5,948.9 L754.4,948.9 L755.3,948.0 L756.2,948.2 L757.1,948.3 L758.0,948.4 L759.0,948.2 L759.9,947.2 L760.8,946.3 L761.7,945.4 L762.6,946.0 L763.6,945.5 L764.5,943.6 L765.4,942.4 L766.3,938.3 L767.2,933.6 L768.1,927.6 L769.1,916.1 L770.0,904.2 L770.9,890.1 L771.8,877.9 L772.7,873.5 L773.6,876.3 L774.6,887.6 L775.5,899.7 L776.4,912.0 L777.3,921.1 L778.2,927.1 L779.1,930.4 L780.1,931.9 L781.0,931.2 L781.9,929.1 L782.8,928.2 L783.7,925.5 L784.6,921.5 L785.6,918.6 L786.5,917.4 L787.4,915.8 L788.3,916.2 L789.2,917.7 L790.1,919.8 L791.1,921.9 L792.0,924.8 L792.9,926.3 L793.8,927.6 L794.7,928.9 L795.6,929.6 L796.6,930.6 L797.5,929.9 L798.4,932.0 L799.3,930.3 L800.2,930.7 L801.1,931.4 L802.1,930.4 L803.0,930.3 L803.9,930.1 L804.8,927.4 L805.7,926.8 L806.7,923.1 L807.6,917.6 L808.5,908.9 L809.4,895.9 L810.3,879.4 L811.2,859.9 L812.2,841.0 L813.1,828.6 L814.0,829.8 L814.9,841.6 L815.8,861.8 L816.7,883.3 L817.7,901.0 L818.6,914.0 L819.5,924.6 L820.4,932.3 L821.3,936.6 L822.2,939.8 L823.2,940.2 L824.1,941.8 L825.0,943.5 L825.9,943.9 L826.8,945.2 L827.7,945.8 L828.7,946.5 L829.6,946.7 L830.5,947.4 L831.4,947.9 L832.3,947.8 L833.2,947.3 L834.2,948.9 L835.1,948.5 L836.0,948.7 L836.9,948.7 L837.8,947.9 L838.7,949.2 L839.7,948.6 L840.6,948.4 L841.5,949.8 L842.4,949.0 L843.3,949.4 L844.2,949.8 L845.2,950.2 L846.1,948.3 L847.0,948.9 L847.9,949.7 L848.8,949.0 L849.7,947.5 L850.7,949.4 L851.6,949.4 L852.5,949.7 L853.4,949.3 L854.3,948.8 L855.3,949.1 L856.2,948.8 L857.1,948.4 L858.0,948.6 L858.9,948.5 L859.8,947.4 L860.8,948.3 L861.7,947.8 L862.6,947.4 L863.5,945.0 L864.4,946.1 L865.3,945.4 L866.3,944.3 L867.2,944.5 L868.1,942.7 L869.0,943.5 L869.9,942.3 L870.8,941.0 L871.8,941.3 L872.7,940.0 L873.6,939.2 L874.5,937.6 L875.4,937.9 L876.3,937.8 L877.3,937.1 L878.2,935.4 L879.1,936.6 L880.0,936.6 L880.9,936.4 L881.8,936.2 L882.8,936.3 L883.7,937.7 L884.6,939.1 L885.5,940.9 L886.4,942.2 L887.3,942.6 L888.3,943.2 L889.2,944.7 L890.1,945.0 L891.0,947.1 L891.9,946.3 L892.8,947.7 L893.8,948.4 L894.7,947.7 L895.6,949.1 L896.5,948.8 L897.4,948.7 L898.4,948.8 L899.3,949.5 L900.2,950.2 L901.1,948.7 L902.0,950.2 L902.9,949.9 L903.9,949.6 L904.8,950.1 L905.7,950.2 L906.6,950.2 L907.5,950.7 L908.4,949.8 L909.4,951.5 L910.3,950.9 L911.2,950.1 L912.1,949.4 L913.0,950.5 L913.9,950.3 L914.9,951.0 L915.8,951.0 L916.7,951.7 L917.6,950.6 L918.5,951.1 L919.4,950.5 L920.4,950.5 L921.3,951.6 L922.2,950.7 L923.1,950.7 L924.0,950.6 L924.9,951.0 L925.9,951.1 L926.8,950.8 L927.7,950.2 L928.6,951.0 L929.5,950.4 L930.4,950.7 L931.4,951.0 L932.3,951.0 L933.2,949.6 L934.1,951.9 L935.0,951.4 L935.9,952.0 L936.9,952.3 L937.8,950.4 L938.7,950.6 L939.6,951.1 L940.5,951.5 L941.4,950.7 L942.4,950.8 L943.3,951.6 L944.2,950.5 L945.1,951.1 L946.0,951.6 L947.0,950.9 L947.9,951.4 L948.8,951.0 L949.7,950.1 L950.6,950.7 L951.5,950.9 L952.5,950.8 L953.4,951.0 L954.3,951.3 L955.2,951.2 L956.1,951.1 L957.0,950.8 L958.0,950.9 L958.9,950.8 L959.8,950.7 L960.7,951.8 L961.6,950.0 L962.5,951.2 L963.5,950.1 L964.4,950.7 L965.3,951.5 L966.2,950.9 L967.1,951.8 L968.0,950.5 L969.0,950.9 L969.9,950.7 L970.8,951.1 L971.7,950.9 L972.6,950.8 L973.5,951.1 L974.5,951.7 L975.4,951.1 L976.3,951.1 L977.2,950.9 L978.1,950.7 L979.0,950.2 L980.0,950.5 L980.9,951.1 L981.8,950.0 L982.7,951.4 L983.6,950.8 L984.5,950.5 L985.5,950.7 L986.4,951.4 L987.3,951.3 L988.2,951.2 L989.1,952.0 L990.1,952.4 L991.0,950.4 L991.9,951.6 L992.8,950.7 L993.7,950.3 L994.6,950.8 L995.6,951.7 L996.5,951.0 L997.4,950.9 L998.3,951.9 L999.2,951.4 L1000.1,951.1 L1001.1,952.2 L1002.0,951.5 L1002.9,950.8 L1003.8,950.6 L1004.7,951.0 L1005.6,951.3 L1006.6,951.7 L1007.5,951.7 L1008.4,951.3 L1009.3,950.6 L1010.2,951.7 L1011.1,951.3 L1012.1,950.6 L1013.0,950.5 L1013.9,951.4 L1014.8,951.4 L1015.7,951.7 L1016.6,950.6 L1017.6,952.3 L1018.5,950.2 L1019.4,951.2 L1020.3,952.0 L1021.2,951.8 L1022.1,950.7 L1023.1,951.6 L1024.0,951.9 L1024.9,951.6 L1025.8,950.7 L1026.7,952.2 L1027.6,950.3 L1028.6,951.3 L1029.5,950.6 L1030.4,951.0 L1031.3,951.0 L1032.2,951.5 L1033.1,950.5 L1034.1,951.3 L1035.0,951.9 L1035.9,951.3 L1036.8,951.5 L1037.7,951.5 L1038.7,950.8 L1039.6,951.0 L1040.5,951.3 L1041.4,951.5 L1042.3,952.4 L1043.2,952.1 L1044.2,951.0 L1045.1,951.0 L1046.0,950.7 L1046.9,949.9 L1047.8,952.0 L1048.7,951.5 L1049.7,950.1 L1050.6,951.2 L1051.5,952.5 L1052.4,951.5 L1053.3,951.5 L1054.2,951.4 L1055.2,950.8 L1056.1,950.6 L1057.0,950.8 L1057.9,951.3 L1058.8,951.1 L1059.7,951.6 L1060.7,952.2 L1061.6,951.6 L1062.5,951.7 L1063.4,951.1 L1064.3,950.5 L1065.2,952.5 L1066.2,951.7 L1067.1,951.9 L1068.0,951.0 L1068.9,950.3 L1069.8,952.0 L1070.7,950.0 L1071.7,951.2 L1072.6,951.0 L1073.5,951.4 L1074.4,951.7 L1075.3,951.7 L1076.2,950.1 L1077.2,951.8 L1078.1,950.2 L1079.0,951.6 L1079.9,951.0 L1080.8,950.6 L1081.8,950.9 L1082.7,950.5 L1083.6,951.2 L1084.5,951.8 L1085.4,951.7 L1086.3,951.3 L1087.3,951.8 L1088.2,951.5 L1089.1,952.4 L1090.0,951.5 L1090.9,950.9 L1091.8,951.1 L1092.8,950.8 L1093.7,951.0 L1094.6,951.1 L1095.5,951.6 L1096.4,951.6 L1097.3,951.2 L1098.3,951.4 L1099.2,950.8 L1100.1,950.9 L1101.0,949.8 L1101.9,950.7 L1102.8,950.9 L1103.8,952.6 L1104.7,950.4 L1105.6,951.2 L1106.5,950.9 L1107.4,950.2 L1108.3,951.3 L1109.3,951.1 L1110.2,950.3 L1111.1,949.8 L1112.0,951.0 L1112.9,950.3 L1113.8,951.4 L1114.8,950.9 L1115.7,951.3 L1116.6,950.8 L1117.5,951.9 L1118.4,951.4 L1119.3,951.8 L1120.3,951.0 L1121.2,950.3 L1122.1,950.1 L1123.0,950.6 L1123.9,951.0 L1124.8,950.5 L1125.8,952.1 L1126.7,950.7 L1127.6,951.0 L1128.5,950.7 L1129.4,949.9 L1130.4,951.1 L1131.3,950.8 L1132.2,950.9 L1133.1,949.8 L1134.0,950.2 L1134.9,950.1 L1135.9,950.6 L1136.8,949.0 L1137.7,949.9 L1138.6,950.0 L1139.5,948.7 L1140.4,948.0 L1141.4,948.6 L1142.3,947.3 L1143.2,947.0 L1144.1,945.7 L1145.0,944.7 L1145.9,942.7 L1146.9,940.1 L1147.8,940.1 L1148.7,937.8 L1149.6,937.0 L1150.5,935.1 L1151.4,935.4 L1152.4,933.9 L1153.3,934.6 L1154.2,935.3 L1155.1,935.4 L1156.0,936.6 L1156.9,937.3 L1157.9,937.6 L1158.8,939.5 L1159.7,938.4 L1160.6,938.0 L1161.5,938.1 L1162.4,937.8 L1163.4,936.7 L1164.3,935.3 L1165.2,934.0 L1166.1,931.8 L1167.0,932.5 L1167.9,932.7 L1168.9,931.5 L1169.8,931.7 L1170.7,934.3 L1171.6,935.4 L1172.5,935.0 L1173.5,938.6 L1174.4,940.0 L1175.3,941.8 L1176.2,945.0 L1177.1,945.7 L1178.0,946.1 L1179.0,947.1 L1179.9,948.8 L1180.8,947.8 L1181.7,949.3 L1182.6,948.9 L1183.5,950.0 L1184.5,949.9 L1185.4,949.6 L1186.3,950.7 L1187.2,950.6 L1188.1,951.4 L1189.0,950.2 L1190.0,950.6 L1190.9,950.2 L1191.8,951.3 L1192.7,950.3 L1193.6,950.8 L1194.5,951.5 L1195.5,951.1 L1196.4,951.0 L1197.3,951.1 L1198.2,951.1 L1199.1,951.3 L1200.0,950.8 L1201.0,949.9 L1201.9,951.8 L1202.8,950.5 L1203.7,952.1 L1204.6,951.3 L1205.5,952.9 L1206.5,951.8 L1207.4,951.4 L1208.3,951.7 L1209.2,950.4 L1210.1,951.3 L1211.0,951.0 L1212.0,951.2 L1212.9,950.1 L1213.8,950.0 L1214.7,951.7 L1215.6,951.3 L1216.5,951.0 L1217.5,951.2 L1218.4,950.9 L1219.3,951.0 L1220.2,951.7 L1221.1,951.2 L1222.1,951.7 L1223.0,950.9 L1223.9,950.3 L1224.8,950.9 L1225.7,951.2 L1226.6,950.7 L1227.6,951.1 L1228.5,951.0 L1229.4,951.8 L1230.3,951.8 L1231.2,952.0 L1232.1,950.9 L1233.1,951.5 L1234.0,952.1 L1234.9,951.4 L1235.8,951.3 L1236.7,950.9 L1237.6,951.8 L1238.6,951.4 L1239.5,951.9 L1240.4,951.3 L1241.3,952.5 L1242.2,951.3 L1243.1,950.6 L1244.1,951.5 L1245.0,951.6 L1245.9,952.1 L1246.8,951.1 L1247.7,951.0 L1248.6,951.2 L1249.6,951.1 L1250.5,950.1 L1251.4,951.7 L1252.3,952.0 L1253.2,950.9 L1254.1,950.7 L1255.1,951.2 L1256.0,950.8 L1256.9,951.7 L1257.8,950.9 L1258.7,951.6 L1259.6,950.5 L1260.6,950.4 L1261.5,950.3 L1262.4,950.3 L1263.3,951.3 L1264.2,951.5 L1265.2,951.0 L1266.1,951.0 L1267.0,949.5 L1267.9,951.2 L1268.8,949.7 L1269.7,950.9 L1270.7,951.2 L1271.6,949.5 L1272.5,949.4 L1273.4,948.9 L1274.3,947.2 L1275.2,946.8 L1276.2,946.6 L1277.1,946.7 L1278.0,946.8 L1278.9,946.4 L1279.8,947.2 L1280.7,946.6 L1281.7,946.6 L1282.6,947.9 L1283.5,948.3 L1284.4,948.0 L1285.3,949.8 L1286.2,949.0 L1287.2,949.4 L1288.1,950.1 L1289.0,949.5 L1289.9,950.5 L1290.8,950.3 L1291.7,950.3 L1292.7,949.9 L1293.6,949.5 L1294.5,949.2 L1295.4,949.5 L1296.3,949.9 L1297.2,949.3 L1298.2,948.8 L1299.1,948.8 L1300.0,948.8 L1300.9,947.1 L1301.8,947.6 L1302.7,948.2 L1303.7,947.1 L1304.6,947.2 L1305.5,948.0 L1306.4,947.7 L1307.3,948.8 L1308.2,948.2 L1309.2,949.0 L1310.1,950.4 L1311.0,950.0 L1311.9,948.8 L1312.8,949.3 L1313.8,949.5 L1314.7,950.3 L1315.6,949.7 L1316.5,950.9 L1317.4,951.7 L1318.3,951.8 L1319.3,950.5 L1320.2,950.9 L1321.1,950.9 L1322.0,950.7 L1322.9,952.2 L1323.8,950.9 L1324.8,950.7 L1325.7,951.5 L1326.6,951.5 L1327.5,952.2 L1328.4,952.2 L1329.3,951.3 L1330.3,950.2 L1331.2,951.8 L1332.1,951.9 L1333.0,952.4 L1333.9,950.5 L1334.8,950.8 L1335.8,952.3 L1336.7,952.4 L1337.6,952.2 L1338.5,951.4 L1339.4,952.2 L1340.3,951.2 L1341.3,950.8 L1342.2,951.4 L1343.1,951.5 L1344.0,951.9 L1344.9,952.1 L1345.8,950.5 L1346.8,951.6 L1347.7,951.8 L1348.6,950.8 L1349.5,951.3 L1350.4,951.5 L1351.3,951.7 L1352.3,951.0 L1353.2,951.1 L1354.1,950.9 L1355.0,951.7 L1355.9,951.3 L1356.9,951.2 L1357.8,951.8 L1358.7,951.4 L1359.6,950.8 L1360.5,952.1 L1361.4,952.0 L1362.4,951.7 L1363.3,950.9 L1364.2,952.1 L1365.1,951.2 L1366.0,950.4 L1366.9,951.4 L1367.9,952.5 L1368.8,951.2 L1369.7,951.8 L1370.6,952.2 L1371.5,951.6 L1372.4,951.3 L1373.4,951.5 L1374.3,951.8 L1375.2,951.2 L1376.1,951.6 L1377.0,951.8 L1377.9,951.2 L1378.9,951.8 L1379.8,951.7 L1380.7,951.2 L1381.6,951.3 L1382.5,951.5 L1383.4,951.3 L1384.4,951.3 L1385.3,950.8 L1386.2,951.4 L1387.1,951.7 L1388.0,951.7 L1388.9,950.9 L1389.9,951.6 L1390.8,951.6 L1391.7,950.7 L1392.6,951.5 L1393.5,951.1 L1394.4,950.9 L1395.4,951.2 L1396.3,950.9 L1397.2,949.8 L1398.1,951.1 L1399.0,950.3 L1399.9,950.7 L1400.9,951.1 L1401.8,950.4 L1402.7,950.2 L1403.6,950.3 L1404.5,950.2 L1405.5,949.1 L1406.4,948.8 L1407.3,948.7 L1408.2,948.4 L1409.1,946.4 L1410.0,945.3 L1411.0,942.5 L1411.9,940.8 L1412.8,938.6 L1413.7,936.2 L1414.6,936.2 L1415.5,936.8 L1416.5,937.2 L1417.4,940.7 L1418.3,943.0 L1419.2,944.9 L1420.1,946.5 L1421.0,946.9 L1422.0,948.0 L1422.9,948.9 L1423.8,949.0 L1424.7,949.6 L1425.6,950.8 L1426.5,949.8 L1427.5,950.2 L1428.4,951.5 L1429.3,950.5 L1430.2,950.1 L1431.1,950.9 L1432.0,950.9 L1433.0,950.9 L1433.9,950.0 L1434.8,951.0 L1435.7,951.1 L1436.6,952.0 L1437.5,951.3 L1438.5,950.7 L1439.4,951.1 L1440.3,951.2 L1441.2,950.8 L1442.1,950.8 L1443.0,951.5 L1444.0,951.0 L1444.9,950.9 L1445.8,950.0 L1446.7,950.6 L1447.6,949.2 L1448.6,950.7 L1449.5,949.6 L1450.4,949.8 L1451.3,949.7 L1452.2,947.7 L1453.1,947.9 L1454.1,946.1 L1455.0,945.0 L1455.9,942.2 L1456.8,939.7 L1457.7,938.5 L1458.6,936.2 L1459.6,935.3 L1460.5,935.4 L1461.4,938.5 L1462.3,939.9 L1463.2,942.3 L1464.1,944.0 L1465.1,946.1 L1466.0,947.7 L1466.9,948.3 L1467.8,949.0 L1468.7,949.2 L1469.6,950.7 L1470.6,951.0 L1471.5,950.2 L1472.4,950.0 L1473.3,950.8 L1474.2,949.9 L1475.1,951.0 L1476.1,951.0 L1477.0,951.1 L1477.9,951.9 L1478.8,952.1 L1479.7,951.3 L1480.6,950.9 L1481.6,951.7 L1482.5,951.8 L1483.4,950.6 L1484.3,950.8 L1485.2,951.1 L1486.1,950.4 L1487.1,950.7 L1488.0,952.2 L1488.9,950.6 L1489.8,951.7 L1490.7,950.9 L1491.6,951.8 L1492.6,951.5 L1493.5,951.8 L1494.4,950.5 L1495.3,951.4 L1496.2,951.0 L1497.2,951.7 L1498.1,951.7 L1499.0,951.4 L1499.9,951.2 L1500.8,951.2 L1501.7,951.4 L1502.7,950.9 L1503.6,951.0 L1504.5,950.8 L1505.4,950.6 L1506.3,951.7 L1507.2,950.4 L1508.2,951.8 L1509.1,951.4 L1510.0,950.1 L1510.9,950.0 L1511.8,950.9 L1512.7,950.3 L1513.7,950.9 L1514.6,951.3 L1515.5,950.9 L1516.4,950.5 L1517.3,950.4 L1518.2,951.2 L1519.2,950.1 L1520.1,951.1 L1521.0,951.1 L1521.9,949.6 L1522.8,949.8 L1523.7,950.3 L1524.7,948.7 L1525.6,948.9 L1526.5,948.7 L1527.4,946.8 L1528.3,946.4 L1529.2,944.5 L1530.2,941.5 L1531.1,938.7 L1532.0,932.4 L1532.9,926.7 L1533.8,917.7 L1534.7,908.6 L1535.7,902.5 L1536.6,899.3 L1537.5,902.6 L1538.4,909.0 L1539.3,916.1 L1540.3,924.4 L1541.2,931.6 L1542.1,936.5 L1543.0,939.6 L1543.9,942.9 L1544.8,944.4 L1545.8,943.3 L1546.7,944.9 L1547.6,942.6 L1548.5,942.9 L1549.4,941.5 L1550.3,940.2 L1551.3,938.9 L1552.2,936.4 L1553.1,935.0 L1554.0,934.3 L1554.9,932.5 L1555.8,932.6 L1556.8,932.7 L1557.7,932.6 L1558.6,936.1 L1559.5,937.5 L1560.4,939.2 L1561.3,940.3 L1562.3,941.6 L1563.2,942.4 L1564.1,943.7 L1565.0,944.3 L1565.9,944.2 L1566.8,944.0 L1567.8,942.6 L1568.7,942.4 L1569.6,941.3 L1570.5,940.5 L1571.4,938.6 L1572.3,937.1 L1573.3,936.0 L1574.2,934.7 L1575.1,934.5 L1576.0,935.7 L1576.9,936.2 L1577.8,937.4 L1578.8,940.0 L1579.7,941.9 L1580.6,943.4 L1581.5,943.8 L1582.4,946.2 L1583.3,946.8 L1584.3,947.7 L1585.2,948.3 L1586.1,949.0 L1587.0,949.4 L1587.9,950.3 L1588.9,949.9 L1589.8,950.0 L1590.7,950.5 L1591.6,950.3 L1592.5,951.0 L1593.4,950.6 L1594.4,951.1 L1595.3,950.5 L1596.2,951.4 L1597.1,951.2 L1598.0,950.5 L1598.9,950.8 L1599.9,951.1 L1600.8,950.4 L1601.7,950.6 L1602.6,951.4 L1603.5,951.5 L1604.4,952.0 L1605.4,950.6 L1606.3,951.1 L1607.2,950.3 L1608.1,952.3 L1609.0,950.7 L1609.9,951.3 L1610.9,952.4 L1611.8,952.2 L1612.7,951.0 L1613.6,952.7 L1614.5,951.7 L1615.4,950.9 L1616.4,951.6 L1617.3,951.8 L1618.2,951.9 L1619.1,950.4 L1620.0,952.5 L1620.9,950.7 L1621.9,951.4 L1622.8,952.3 L1623.7,951.8 L1624.6,951.6 L1625.5,951.3 L1626.4,951.9 L1627.4,952.3 L1628.3,951.3 L1629.2,951.8 L1630.1,951.4 L1631.0,951.4 L1632.0,950.5 L1632.9,951.8 L1633.8,952.1 L1634.7,951.6 L1635.6,952.2 L1636.5,951.7 L1637.5,952.3 L1638.4,951.7 L1639.3,951.5 L1640.2,951.4 L1641.1,951.7 L1642.0,951.8 L1643.0,951.2 L1643.9,951.6 L1644.8,951.0 L1645.7,950.9 L1646.6,952.0 L1647.5,951.9 L1648.5,952.1 L1649.4,951.7 L1650.3,951.8 L1651.2,952.6 L1652.1,951.2 L1653.0,951.8 L1654.0,952.5 L1654.9,952.7 L1655.8,951.9 L1656.7,951.6 L1657.6,951.1 L1658.5,951.5 L1659.5,951.7 L1660.4,951.6 L1661.3,951.9 L1662.2,951.9 L1663.1,951.3 L1664.0,951.1 L1665.0,951.4 L1665.9,951.8 L1666.8,952.4 L1667.7,950.6 L1668.6,952.1 L1669.5,951.3 L1670.5,952.0 L1671.4,952.4 L1672.3,951.7 L1673.2,950.8 L1674.1,951.1 L1675.0,951.5 L1676.0,951.1 L1676.9,951.2 L1677.8,950.8 L1678.7,951.0 L1679.6,950.7 L1680.6,951.5 L1681.5,951.1 L1682.4,951.2 L1683.3,949.9 L1684.2,950.4 L1685.1,950.1 L1686.1,950.1 L1687.0,949.6 L1687.9,949.4 L1688.8,950.2 L1689.7,948.8 L1690.6,947.6 L1691.6,947.2 L1692.5,947.4 L1693.4,945.1 L1694.3,942.4 L1695.2,940.7 L1696.1,938.5 L1697.1,936.4 L1698.0,933.8 L1698.9,933.7 L1699.8,934.7 L1700.7,935.4 L1701.6,938.4 L1702.6,940.7 L1703.5,943.2 L1704.4,945.1 L1705.3,945.8 L1706.2,947.2 L1707.1,948.2 L1708.1,949.0 L1709.0,949.0 L1709.9,948.9 L1710.8,949.8 L1711.7,950.1 L1712.6,949.8 L1713.6,950.1 L1714.5,950.6 L1715.4,949.5 L1716.3,949.3 L1717.2,949.0 L1718.1,949.6 L1719.1,949.7 L1720.0,948.6 L1720.9,949.4 L1721.8,947.5 L1722.7,947.1 L1723.7,945.8 L1724.6,945.2 L1725.5,942.4 L1726.4,941.5 L1727.3,938.4 L1728.2,935.7 L1729.2,934.5 L1730.1,934.1 L1731.0,935.6 L1731.9,936.1 L1732.8,938.4 L1733.7,941.7 L1734.7,942.7 L1735.6,944.0 L1736.5,945.4 L1737.4,946.0 L1738.3,947.8 L1739.2,948.9 L1740.2,948.5 L1741.1,948.4 L1742.0,949.3 L1742.9,949.3 L1743.8,949.3 L1744.7,949.6 L1745.7,949.3 L1746.6,949.0 L1747.5,949.5 L1748.4,947.8 L1749.3,947.8 L1750.2,947.7 L1751.2,946.5 L1752.1,947.0 L1753.0,943.8 L1753.9,943.8 L1754.8,941.8 L1755.7,939.6 L1756.7,937.5 L1757.6,935.1 L1758.5,933.8 L1759.4,934.9 L1760.3,935.1 L1761.2,936.2 L1762.2,938.4 L1763.1,940.3 L1764.0,943.0 L1764.9,944.9 L1765.8,945.2 L1766.7,946.3 L1767.7,946.5 L1768.6,947.7 L1769.5,947.9 L1770.4,948.0 L1771.3,948.5 L1772.3,946.9 L1773.2,947.9 L1774.1,946.5 L1775.0,947.6 L1775.9,947.4 L1776.8,947.2 L1777.8,947.0 L1778.7,946.3 L1779.6,945.7 L1780.5,946.2 L1781.4,945.2 L1782.3,945.6 L1783.3,944.5 L1784.2,944.8 L1785.1,944.5 L1786.0,943.6 L1786.9,943.6 L1787.8,944.0 L1788.8,943.3 L1789.7,943.3 L1790.6,942.5 L1791.5,942.7 L1792.4,941.6 L1793.3,941.8 L1794.3,942.7 L1795.2,942.2 L1796.1,941.8 L1797.0,941.7 L1797.9,940.8 L1798.8,941.5 L1799.8,940.4 L1800.7,940.3 L1801.6,940.6 L1802.5,939.1 L1803.4,938.3 L1804.3,937.2 L1805.3,935.6 L1806.2,934.0 L1807.1,929.6 L1808.0,926.9 L1808.9,923.7 L1809.8,919.2 L1810.8,915.7 L1811.7,912.9 L1812.6,912.4 L1813.5,914.2 L1814.4,917.6 L1815.4,921.2 L1816.3,926.2 L1817.2,929.8 L1818.1,932.7 L1819.0,937.2 L1819.9,938.5 L1820.9,941.7 L1821.8,943.5 L1822.7,944.3 L1823.6,945.8 L1824.5,946.5 L1825.4,947.5 L1826.4,947.8 L1827.3,948.7 L1828.2,948.6 L1829.1,949.4 L1830.0,949.4 L1830.9,949.7 L1831.9,949.9 L1832.8,949.8 L1833.7,950.8 L1834.6,950.6 L1835.5,949.3 L1836.4,949.9 L1837.4,951.5 L1838.3,950.6 L1839.2,952.3 L1840.1,951.1 L1841.0,951.2 L1841.9,950.8 L1842.9,951.0 L1843.8,951.2 L1844.7,951.7 L1845.6,951.3 L1846.5,951.3 L1847.4,950.8 L1848.4,951.1 L1849.3,951.2 L1850.2,951.4 L1851.1,951.1 L1852.0,950.9 L1852.9,951.3 L1853.9,950.2 L1854.8,950.8 L1855.7,951.1 L1856.6,951.8 L1857.5,951.2 L1858.4,951.0 L1859.4,952.0 L1860.3,951.6 L1861.2,952.3 L1862.1,951.5 L1863.0,951.3 L1864.0,951.5 L1864.9,952.6 L1865.8,952.5 L1866.7,951.8 L1867.6,952.3 L1868.5,951.0 L1869.5,952.4 L1870.4,951.9 L1871.3,951.7 L1872.2,951.8 L1873.1,951.9 L1874.0,951.5 L1875.0,951.6 L1875.9,951.2 L1876.8,952.6 L1877.7,951.3 L1878.6,951.7 L1879.5,952.3 L1880.5,952.4 L1881.4,952.5 L1882.3,951.5 L1883.2,951.6 L1884.1,951.8 L1885.0,950.8 L1886.0,952.3 L1886.9,951.0 L1887.8,951.7 L1888.7,952.3 L1889.6,952.2 L1890.5,951.6 L1891.5,952.3 L1892.4,952.4 L1893.3,950.9 L1894.2,951.7 L1895.1,952.2 L1896.0,952.1 L1897.0,951.7 L1897.9,951.8 L1898.8,953.0 L1899.7,951.7 L1900.6,952.4 L1901.5,951.2 L1902.5,952.1 L1903.4,952.4 L1904.3,951.6 L1905.2,951.5 L1906.1,952.8 L1907.1,951.8 L1908.0,952.4 L1908.9,951.2 L1909.8,952.8 L1910.7,950.9 L1911.6,951.4 L1912.6,951.6 L1913.5,951.9 L1914.4,952.0 L1915.3,952.8 L1916.2,953.0 L1917.1,952.9 L1918.1,952.4 L1919.0,952.1 L1919.9,950.9 L1920.8,951.9 L1921.7,951.7 L1922.6,952.3 L1923.6,951.5 L1924.5,951.6 L1925.4,951.6 L1926.3,952.3 L1927.2,952.1 L1928.1,951.5 L1929.1,951.1 L1930.0,951.7 L1930.9,951.7 L1931.8,951.7 L1932.7,952.0 L1933.6,952.4 L1934.6,952.4 L1935.5,951.6 L1936.4,951.6 L1937.3,952.8 L1938.2,951.8 L1939.1,952.3 L1940.1,952.1 L1941.0,952.2 L1941.9,952.8 L1942.8,951.8 L1943.7,952.5 L1944.6,952.2 L1945.6,951.9 L1946.5,951.7 L1947.4,951.7 L1948.3,952.5 L1949.2,952.5 L1950.1,951.5 L1951.1,952.1 L1952.0,951.0 L1952.9,951.9 L1953.8,953.0 L1954.7,951.3 L1955.7,952.0 L1956.6,951.5 L1957.5,951.9 L1958.4,951.3 L1959.3,951.9 L1960.2,950.6 L1961.2,951.6 L1962.1,951.6 L1963.0,951.7 L1963.9,952.7 L1964.8,951.0 L1965.7,951.2 L1966.7,950.8 L1967.6,951.7 L1968.5,951.4 L1969.4,950.7 L1970.3,951.8 L1971.2,951.4 L1972.2,951.9 L1973.1,951.4 L1974.0,951.0 L1974.9,950.4 L1975.8,949.6 L1976.7,950.3 L1977.7,951.1 L1978.6,950.2 L1979.5,949.8 L1980.4,950.2 L1981.3,950.3 L1982.2,951.2 L1983.2,949.0 L1984.1,949.2 L1985.0,948.6 L1985.9,948.6 L1986.8,949.3 L1987.7,948.6 L1988.7,947.7 L1989.6,949.0 L1990.5,949.0 L1991.4,948.3 L1992.3,947.2 L1993.2,947.1 L1994.2,948.2 L1995.1,946.9 L1996.0,947.0"/>
<path clip-path="url(#c4)" stroke="#4b9bea" d="M162.0,1174.9 L162.9,1174.7 L163.8,1175.3 L164.8,1175.6 L165.7,1176.0 L166.6,1175.5 L167.5,1175.1 L168.4,1175.0 L169.3,1175.8 L170.3,1176.3 L171.2,1175.6 L172.1,1174.8 L173.0,1174.9 L173.9,1176.4 L174.8,1175.6 L175.8,1174.5 L176.7,1175.4 L177.6,1174.9 L178.5,1175.2 L179.4,1175.2 L180.3,1175.1 L181.3,1175.8 L182.2,1175.5 L183.1,1175.2 L184.0,1175.8 L184.9,1176.0 L185.8,1174.6 L186.8,1175.4 L187.7,1175.0 L188.6,1175.5 L189.5,1174.9 L190.4,1175.6 L191.3,1175.6 L192.3,1175.4 L193.2,1175.0 L194.1,1175.4 L195.0,1175.0 L195.9,1174.9 L196.8,1175.7 L197.8,1175.0 L198.7,1176.3 L199.6,1176.0 L200.5,1174.5 L201.4,1175.8 L202.3,1175.0 L203.3,1175.7 L204.2,1175.7 L205.1,1174.6 L206.0,1175.5 L206.9,1175.5 L207.8,1176.2 L208.8,1175.0 L209.7,1176.1 L210.6,1175.1 L211.5,1175.5 L212.4,1175.2 L213.4,1176.5 L214.3,1176.0 L215.2,1177.0 L216.1,1176.0 L217.0,1176.2 L217.9,1176.2 L218.9,1175.4 L219.8,1175.7 L220.7,1176.4 L221.6,1175.5 L222.5,1175.8 L223.4,1175.7 L224.4,1176.0 L225.3,1175.5 L226.2,1175.6 L227.1,1175.8 L228.0,1175.8 L228.9,1175.2 L229.9,1176.2 L230.8,1175.0 L231.7,1175.0 L232.6,1175.0 L233.5,1176.2 L234.4,1175.5 L235.4,1175.1 L236.3,1175.0 L237.2,1175.9 L238.1,1175.1 L239.0,1175.0 L239.9,1176.0 L240.9,1175.0 L241.8,1175.5 L242.7,1175.6 L243.6,1175.4 L244.5,1175.6 L245.4,1176.3 L246.4,1175.3 L247.3,1174.9 L248.2,1174.5 L249.1,1175.4 L250.0,1175.3 L250.9,1175.7 L251.9,1175.2 L252.8,1175.2 L253.7,1175.0 L254.6,1175.1 L255.5,1175.5 L256.5,1175.2 L257.4,1175.4 L258.3,1176.4 L259.2,1175.5 L260.1,1174.4 L261.0,1176.2 L262.0,1175.4 L262.9,1174.6 L263.8,1175.6 L264.7,1175.0 L265.6,1174.6 L266.5,1174.6 L267.5,1174.3 L268.4,1174.8 L269.3,1175.3 L270.2,1174.4 L271.1,1174.8 L272.0,1175.5 L273.0,1173.7 L273.9,1174.3 L274.8,1173.9 L275.7,1173.4 L276.6,1173.2 L277.5,1173.6 L278.5,1173.7 L279.4,1172.9 L280.3,1173.0 L281.2,1173.1 L282.1,1172.5 L283.0,1172.5 L284.0,1171.9 L284.9,1171.5 L285.8,1171.7 L286.7,1170.4 L287.6,1169.4 L288.5,1168.9 L289.5,1166.9 L290.4,1165.9 L291.3,1164.9 L292.2,1162.4 L293.1,1159.4 L294.0,1153.1 L295.0,1143.7 L295.9,1132.5 L296.8,1112.9 L297.7,1085.7 L298.6,1054.4 L299.5,1017.0 L300.5,980.5 L301.4,955.9 L302.3,950.0 L303.2,967.2 L304.1,997.0 L305.1,1033.8 L306.0,1068.4 L306.9,1097.2 L307.8,1118.7 L308.7,1134.5 L309.6,1144.7 L310.6,1150.3 L311.5,1152.5 L312.4,1153.7 L313.3,1154.2 L314.2,1152.1 L315.1,1148.4 L316.1,1141.3 L317.0,1132.4 L317.9,1115.2 L318.8,1090.7 L319.7,1061.5 L320.6,1026.5 L321.6,988.8 L322.5,961.7 L323.4,950.9 L324.3,962.7 L325.2,990.8 L326.1,1026.9 L327.1,1062.7 L328.0,1094.5 L328.9,1118.6 L329.8,1134.4 L330.7,1145.8 L331.6,1155.2 L332.6,1157.9 L333.5,1161.2 L334.4,1163.5 L335.3,1165.2 L336.2,1166.5 L337.1,1167.0 L338.1,1166.9 L339.0,1168.1 L339.9,1168.2 L340.8,1169.3 L341.7,1168.3 L342.6,1167.5 L343.6,1167.4 L344.5,1168.5 L345.4,1166.9 L346.3,1165.3 L347.2,1165.2 L348.2,1164.2 L349.1,1162.9 L350.0,1158.8 L350.9,1155.1 L351.8,1147.7 L352.7,1135.3 L353.7,1118.4 L354.6,1095.4 L355.5,1064.6 L356.4,1028.2 L357.3,991.7 L358.2,963.7 L359.2,951.9 L360.1,963.1 L361.0,991.4 L361.9,1028.2 L362.8,1064.2 L363.7,1096.8 L364.7,1119.3 L365.6,1137.5 L366.5,1149.3 L367.4,1156.1 L368.3,1161.6 L369.2,1162.9 L370.2,1166.3 L371.1,1168.3 L372.0,1167.7 L372.9,1169.4 L373.8,1171.4 L374.7,1171.4 L375.7,1171.5 L376.6,1172.4 L377.5,1172.7 L378.4,1173.8 L379.3,1174.0 L380.2,1173.9 L381.2,1173.9 L382.1,1174.5 L383.0,1175.4 L383.9,1175.1 L384.8,1175.4 L385.7,1175.1 L386.7,1174.7 L387.6,1175.1 L388.5,1176.0 L389.4,1175.8 L390.3,1175.3 L391.2,1175.0 L392.2,1176.1 L393.1,1175.9 L394.0,1176.0 L394.9,1176.1 L395.8,1176.5 L396.8,1176.6 L397.7,1177.0 L398.6,1177.0 L399.5,1177.3 L400.4,1177.1 L401.3,1176.5 L402.3,1176.7 L403.2,1177.0 L404.1,1176.6 L405.0,1177.1 L405.9,1177.5 L406.8,1176.5 L407.8,1176.0 L408.7,1177.6 L409.6,1177.0 L410.5,1177.4 L411.4,1176.3 L412.3,1178.1 L413.3,1177.5 L414.2,1177.1 L415.1,1177.0 L416.0,1177.3 L416.9,1177.1 L417.8,1177.1 L418.8,1176.7 L419.7,1178.0 L420.6,1177.3 L421.5,1177.4 L422.4,1177.4 L423.3,1176.1 L424.3,1177.7 L425.2,1177.2 L426.1,1177.2 L427.0,1177.5 L427.9,1176.9 L428.8,1177.9 L429.8,1177.1 L430.7,1177.0 L431.6,1177.0 L432.5,1177.6 L433.4,1177.9 L434.3,1177.2 L435.3,1176.7 L436.2,1178.1 L437.1,1176.9 L438.0,1178.1 L438.9,1177.4 L439.9,1177.1 L440.8,1177.1 L441.7,1177.7 L442.6,1177.9 L443.5,1177.3 L444.4,1177.8 L445.4,1178.4 L446.3,1177.1 L447.2,1176.5 L448.1,1176.5 L449.0,1176.2 L449.9,1176.4 L450.9,1176.2 L451.8,1175.6 L452.7,1176.2 L453.6,1173.9 L454.5,1173.6 L455.4,1173.6 L456.4,1170.2 L457.3,1165.5 L458.2,1159.6 L459.1,1153.5 L460.0,1146.7 L460.9,1143.9 L461.9,1145.8 L462.8,1152.5 L463.7,1159.0 L464.6,1164.9 L465.5,1169.3 L466.4,1172.6 L467.4,1174.3 L468.3,1176.0 L469.2,1175.4 L470.1,1176.4 L471.0,1177.8 L471.9,1177.1 L472.9,1177.9 L473.8,1178.0 L474.7,1178.2 L475.6,1178.0 L476.5,1176.9 L477.4,1177.6 L478.4,1177.6 L479.3,1177.0 L480.2,1177.6 L481.1,1177.2 L482.0,1177.1 L482.9,1178.1 L483.9,1178.0 L484.8,1177.7 L485.7,1177.6 L486.6,1177.8 L487.5,1177.9 L488.5,1177.9 L489.4,1178.1 L490.3,1178.0 L491.2,1178.4 L492.1,1178.5 L493.0,1178.4 L494.0,1177.9 L494.9,1177.9 L495.8,1178.5 L496.7,1178.2 L497.6,1178.3 L498.5,1176.9 L499.5,1176.8 L500.4,1178.5 L501.3,1178.5 L502.2,1179.1 L503.1,1178.7 L504.0,1178.5 L505.0,1178.3 L505.9,1177.6 L506.8,1178.8 L507.7,1178.0 L508.6,1178.6 L509.5,1178.4 L510.5,1178.5 L511.4,1178.8 L512.3,1178.0 L513.2,1178.1 L514.1,1177.8 L515.0,1178.1 L516.0,1179.2 L516.9,1178.0 L517.8,1178.8 L518.7,1178.6 L519.6,1178.5 L520.5,1178.5 L521.5,1177.4 L522.4,1178.1 L523.3,1178.6 L524.2,1177.2 L525.1,1177.3 L526.0,1176.6 L527.0,1176.7 L527.9,1175.4 L528.8,1176.1 L529.7,1174.1 L530.6,1172.6 L531.6,1173.5 L532.5,1172.2 L533.4,1171.5 L534.3,1171.4 L535.2,1171.3 L536.1,1172.1 L537.1,1173.5 L538.0,1174.4 L538.9,1175.1 L539.8,1175.3 L540.7,1175.4 L541.6,1175.8 L542.6,1176.6 L543.5,1176.8 L544.4,1175.6 L545.3,1175.2 L546.2,1175.6 L547.1,1174.5 L548.1,1173.5 L549.0,1171.0 L549.9,1169.9 L550.8,1167.7 L551.7,1165.7 L552.6,1162.0 L553.6,1160.8 L554.5,1157.5 L555.4,1155.0 L556.3,1152.3 L557.2,1151.9 L558.1,1152.7 L559.1,1152.0 L560.0,1154.5 L560.9,1156.2 L561.8,1156.8 L562.7,1158.7 L563.6,1158.6 L564.6,1159.7 L565.5,1159.1 L566.4,1158.7 L567.3,1159.7 L568.2,1159.5 L569.1,1160.7 L570.1,1160.9 L571.0,1163.1 L571.9,1166.0 L572.8,1168.1 L573.7,1169.6 L574.6,1171.7 L575.6,1172.2 L576.5,1174.2 L577.4,1174.4 L578.3,1176.0 L579.2,1176.2 L580.2,1176.6 L581.1,1177.3 L582.0,1178.6 L582.9,1177.2 L583.8,1177.7 L584.7,1178.7 L585.7,1178.0 L586.6,1179.3 L587.5,1178.6 L588.4,1178.6 L589.3,1178.8 L590.2,1179.7 L591.2,1179.1 L592.1,1179.1 L593.0,1179.0 L593.9,1178.1 L594.8,1178.5 L595.7,1179.8 L596.7,1179.5 L597.6,1179.4 L598.5,1179.5 L599.4,1178.9 L600.3,1179.4 L601.2,1178.7 L602.2,1179.5 L603.1,1178.9 L604.0,1179.2 L604.9,1179.6 L605.8,1179.2 L606.7,1179.7 L607.7,1179.7 L608.6,1179.6 L609.5,1180.2 L610.4,1178.7 L611.3,1178.6 L612.2,1179.8 L613.2,1180.0 L614.1,1180.6 L615.0,1180.0 L615.9,1180.0 L616.8,1179.1 L617.7,1180.0 L618.7,1180.0 L619.6,1179.0 L620.5,1179.1 L621.4,1179.6 L622.3,1179.8 L623.3,1178.0 L624.2,1179.7 L625.1,1179.8 L626.0,1179.6 L626.9,1179.8 L627.8,1179.9 L628.8,1179.1 L629.7,1179.9 L630.6,1179.6 L631.5,1179.2 L632.4,1179.8 L633.3,1180.5 L634.3,1178.9 L635.2,1178.8 L636.1,1178.8 L637.0,1180.8 L637.9,1179.6 L638.8,1179.7 L639.8,1179.3 L640.7,1179.2 L641.6,1178.6 L642.5,1179.8 L643.4,1179.9 L644.3,1178.7 L645.3,1179.2 L646.2,1179.3 L647.1,1179.7 L648.0,1179.9 L648.9,1180.4 L649.8,1180.5 L650.8,1180.3 L651.7,1180.5 L652.6,1179.1 L653.5,1179.5 L654.4,1180.4 L655.3,1179.9 L656.3,1179.8 L657.2,1178.7 L658.1,1178.7 L659.0,1180.2 L659.9,1180.0 L660.8,1179.6 L661.8,1179.5 L662.7,1178.8 L663.6,1180.0 L664.5,1180.3 L665.4,1180.7 L666.3,1179.8 L667.3,1179.7 L668.2,1179.2 L669.1,1180.4 L670.0,1180.7 L670.9,1179.4 L671.9,1179.9 L672.8,1179.8 L673.7,1179.4 L674.6,1178.4 L675.5,1179.6 L676.4,1180.1 L677.4,1179.0 L678.3,1179.3 L679.2,1177.9 L680.1,1180.5 L681.0,1180.0 L681.9,1179.8 L682.9,1179.6 L683.8,1179.4 L684.7,1179.7 L685.6,1179.6 L686.5,1179.6 L687.4,1179.7 L688.4,1179.8 L689.3,1180.6 L690.2,1178.9 L691.1,1179.9 L692.0,1179.4 L692.9,1179.1 L693.9,1178.4 L694.8,1180.0 L695.7,1179.2 L696.6,1179.3 L697.5,1179.9 L698.4,1179.1 L699.4,1179.7 L700.3,1179.6 L701.2,1180.1 L702.1,1180.2 L703.0,1179.2 L703.9,1180.2 L704.9,1179.6 L705.8,1179.7 L706.7,1179.5 L707.6,1180.0 L708.5,1178.9 L709.4,1179.7 L710.4,1180.2 L711.3,1179.4 L712.2,1180.7 L713.1,1179.2 L714.0,1179.7 L715.0,1179.3 L715.9,1179.2 L716.8,1178.9 L717.7,1179.2 L718.6,1179.5 L719.5,1179.0 L720.5,1180.0 L721.4,1180.3 L722.3,1178.6 L723.2,1179.9 L724.1,1179.5 L725.0,1179.5 L726.0,1180.7 L726.9,1180.0 L727.8,1179.5 L728.7,1179.4 L729.6,1178.1 L730.5,1179.7 L731.5,1178.8 L732.4,1179.3 L733.3,1179.2 L734.2,1179.6 L735.1,1180.2 L736.0,1179.6 L737.0,1179.7 L737.9,1178.8 L738.8,1179.1 L739.7,1179.3 L740.6,1178.0 L741.5,1179.8 L742.5,1178.2 L743.4,1177.9 L744.3,1179.4 L745.2,1179.5 L746.1,1177.9 L747.0,1177.8 L748.0,1179.7 L748.9,1177.9 L749.8,1176.5 L750.7,1177.1 L751.6,1178.3 L752.5,1177.2 L753.5,1177.0 L754.4,1176.8 L755.3,1176.1 L756.2,1174.9 L757.1,1173.5 L758.0,1173.7 L759.0,1171.5 L759.9,1170.1 L760.8,1167.9 L761.7,1162.2 L762.6,1154.3 L763.6,1143.5 L764.5,1130.2 L765.4,1115.3 L766.3,1101.1 L767.2,1096.4 L768.1,1101.8 L769.1,1113.2 L770.0,1126.4 L770.9,1139.1 L771.8,1147.9 L772.7,1155.1 L773.6,1160.0 L774.6,1160.6 L775.5,1160.2 L776.4,1159.3 L777.3,1157.7 L778.2,1155.2 L779.1,1152.3 L780.1,1149.2 L781.0,1147.7 L781.9,1147.1 L782.8,1146.2 L783.7,1147.7 L784.6,1150.8 L785.6,1151.6 L786.5,1154.0 L787.4,1155.8 L788.3,1157.4 L789.2,1158.1 L790.1,1158.4 L791.1,1159.5 L792.0,1158.9 L792.9,1158.8 L793.8,1158.8 L794.7,1160.4 L795.6,1159.0 L796.6,1160.2 L797.5,1160.0 L798.4,1159.6 L799.3,1158.0 L800.2,1155.8 L801.1,1152.6 L802.1,1146.4 L803.0,1136.9 L803.9,1125.1 L804.8,1106.9 L805.7,1088.8 L806.7,1069.4 L807.6,1057.0 L808.5,1058.1 L809.4,1071.5 L810.3,1089.8 L811.2,1110.8 L812.2,1128.9 L813.1,1143.7 L814.0,1154.1 L814.9,1160.8 L815.8,1164.8 L816.7,1167.9 L817.7,1170.8 L818.6,1172.2 L819.5,1172.7 L820.4,1172.8 L821.3,1174.5 L822.2,1174.9 L823.2,1175.4 L824.1,1176.7 L825.0,1176.6 L825.9,1175.9 L826.8,1176.2 L827.7,1177.7 L828.7,1177.3 L829.6,1177.8 L830.5,1177.4 L831.4,1177.1 L832.3,1177.9 L833.2,1178.7 L834.2,1178.2 L835.1,1177.4 L836.0,1178.0 L836.9,1177.9 L837.8,1178.3 L838.7,1178.8 L839.7,1179.4 L840.6,1178.5 L841.5,1178.1 L842.4,1178.4 L843.3,1178.3 L844.2,1178.1 L845.2,1178.3 L846.1,1178.2 L847.0,1177.5 L847.9,1178.4 L848.8,1177.8 L849.7,1177.3 L850.7,1178.0 L851.6,1177.2 L852.5,1178.2 L853.4,1177.3 L854.3,1176.8 L855.3,1175.9 L856.2,1175.7 L857.1,1175.9 L858.0,1174.6 L858.9,1174.8 L859.8,1172.6 L860.8,1173.1 L861.7,1172.7 L862.6,1171.7 L863.5,1170.7 L864.4,1170.4 L865.3,1168.5 L866.3,1167.5 L867.2,1167.2 L868.1,1167.0 L869.0,1165.8 L869.9,1164.7 L870.8,1164.4 L871.8,1163.9 L872.7,1162.6 L873.6,1161.5 L874.5,1162.5 L875.4,1162.4 L876.3,1163.5 L877.3,1164.1 L878.2,1165.4 L879.1,1167.5 L880.0,1168.7 L880.9,1169.9 L881.8,1172.1 L882.8,1172.0 L883.7,1173.1 L884.6,1174.8 L885.5,1174.3 L886.4,1174.7 L887.3,1176.8 L888.3,1176.8 L889.2,1177.4 L890.1,1177.7 L891.0,1178.2 L891.9,1177.7 L892.8,1178.2 L893.8,1177.8 L894.7,1178.7 L895.6,1178.9 L896.5,1178.6 L897.4,1179.3 L898.4,1180.7 L899.3,1178.5 L900.2,1179.7 L901.1,1179.8 L902.0,1179.9 L902.9,1179.0 L903.9,1180.1 L904.8,1179.9 L905.7,1179.5 L906.6,1179.4 L907.5,1179.8 L908.4,1180.2 L909.4,1180.2 L910.3,1181.0 L911.2,1179.6 L912.1,1180.1 L913.0,1179.6 L913.9,1180.3 L914.9,1179.9 L915.8,1179.5 L916.7,1179.2 L917.6,1179.5 L918.5,1180.1 L919.4,1180.7 L920.4,1180.4 L921.3,1179.3 L922.2,1179.7 L923.1,1180.0 L924.0,1179.9 L924.9,1180.0 L925.9,1180.4 L926.8,1180.1 L927.7,1179.6 L928.6,1179.0 L929.5,1179.8 L930.4,1179.1 L931.4,1180.0 L932.3,1180.2 L933.2,1179.3 L934.1,1180.0 L935.0,1179.9 L935.9,1181.1 L936.9,1180.3 L937.8,1179.0 L938.7,1180.3 L939.6,1180.3 L940.5,1180.0 L941.4,1179.9 L942.4,1180.4 L943.3,1180.4 L944.2,1180.3 L945.1,1179.5 L946.0,1180.0 L947.0,1179.2 L947.9,1179.3 L948.8,1179.8 L949.7,1179.5 L950.6,1179.9 L951.5,1181.5 L952.5,1180.4 L953.4,1179.6 L954.3,1178.9 L955.2,1179.7 L956.1,1179.3 L957.0,1178.9 L958.0,1180.5 L958.9,1179.9 L959.8,1180.4 L960.7,1181.8 L961.6,1180.3 L962.5,1180.2 L963.5,1180.3 L964.4,1180.0 L965.3,1179.7 L966.2,1180.0 L967.1,1180.8 L968.0,1180.0 L969.0,1179.4 L969.9,1179.5 L970.8,1179.6 L971.7,1180.2 L972.6,1180.5 L973.5,1180.5 L974.5,1180.9 L975.4,1180.1 L976.3,1180.7 L977.2,1180.4 L978.1,1180.6 L979.0,1179.2 L980.0,1180.9 L980.9,1179.4 L981.8,1179.6 L982.7,1180.7 L983.6,1180.0 L984.5,1181.2 L985.5,1180.4 L986.4,1179.7 L987.3,1180.4 L988.2,1180.1 L989.1,1181.1 L990.1,1181.2 L991.0,1180.7 L991.9,1180.1 L992.8,1180.3 L993.7,1180.9 L994.6,1179.9 L995.6,1179.9 L996.5,1180.8 L997.4,1180.7 L998.3,1180.2 L999.2,1180.2 L1000.1,1179.2 L1001.1,1181.0 L1002.0,1180.3 L1002.9,1179.5 L1003.8,1179.7 L1004.7,1179.8 L1005.6,1181.3 L1006.6,1180.7 L1007.5,1179.6 L1008.4,1181.4 L1009.3,1181.1 L1010.2,1179.8 L1011.1,1178.9 L1012.1,1180.9 L1013.0,1180.0 L1013.9,1180.3 L1014.8,1180.1 L1015.7,1181.1 L1016.6,1181.2 L1017.6,1180.8 L1018.5,1180.3 L1019.4,1180.5 L1020.3,1180.7 L1021.2,1179.5 L1022.1,1181.1 L1023.1,1180.2 L1024.0,1180.5 L1024.9,1180.4 L1025.8,1180.9 L1026.7,1181.0 L1027.6,1181.6 L1028.6,1180.2 L1029.5,1179.9 L1030.4,1180.5 L1031.3,1180.0 L1032.2,1180.9 L1033.1,1179.9 L1034.1,1180.5 L1035.0,1180.9 L1035.9,1181.0 L1036.8,1180.5 L1037.7,1181.2 L1038.7,1181.1 L1039.6,1179.5 L1040.5,1180.6 L1041.4,1180.5 L1042.3,1180.2 L1043.2,1180.1 L1044.2,1180.4 L1045.1,1180.6 L1046.0,1180.6 L1046.9,1181.2 L1047.8,1181.0 L1048.7,1180.1 L1049.7,1180.0 L1050.6,1180.9 L1051.5,1180.0 L1052.4,1180.5 L1053.3,1180.7 L1054.2,1181.0 L1055.2,1180.7 L1056.1,1181.2 L1057.0,1180.2 L1057.9,1180.8 L1058.8,1180.1 L1059.7,1180.5 L1060.7,1180.5 L1061.6,1179.9 L1062.5,1179.0 L1063.4,1180.9 L1064.3,1180.6 L1065.2,1180.5 L1066.2,1180.0 L1067.1,1180.2 L1068.0,1180.7 L1068.9,1180.4 L1069.8,1181.1 L1070.7,1180.5 L1071.7,1180.0 L1072.6,1180.8 L1073.5,1180.1 L1074.4,1180.5 L1075.3,1179.4 L1076.2,1180.2 L1077.2,1180.7 L1078.1,1180.0 L1079.0,1180.4 L1079.9,1180.7 L1080.8,1180.4 L1081.8,1181.4 L1082.7,1180.2 L1083.6,1180.3 L1084.5,1180.3 L1085.4,1179.3 L1086.3,1179.5 L1087.3,1180.7 L1088.2,1180.2 L1089.1,1181.1 L1090.0,1180.3 L1090.9,1180.3 L1091.8,1180.9 L1092.8,1180.5 L1093.7,1181.2 L1094.6,1179.8 L1095.5,1180.6 L1096.4,1180.7 L1097.3,1180.6 L1098.3,1181.0 L1099.2,1180.9 L1100.1,1180.3 L1101.0,1180.0 L1101.9,1180.8 L1102.8,1180.3 L1103.8,1180.8 L1104.7,1181.0 L1105.6,1180.4 L1106.5,1179.8 L1107.4,1180.1 L1108.3,1180.7 L1109.3,1180.1 L1110.2,1180.9 L1111.1,1180.2 L1112.0,1180.2 L1112.9,1179.8 L1113.8,1180.1 L1114.8,1180.7 L1115.7,1179.9 L1116.6,1179.9 L1117.5,1179.6 L1118.4,1180.4 L1119.3,1179.1 L1120.3,1179.6 L1121.2,1180.4 L1122.1,1180.6 L1123.0,1179.7 L1123.9,1180.2 L1124.8,1178.6 L1125.8,1180.0 L1126.7,1179.7 L1127.6,1178.7 L1128.5,1178.3 L1129.4,1178.9 L1130.4,1179.1 L1131.3,1179.0 L1132.2,1178.6 L1133.1,1178.6 L1134.0,1178.2 L1134.9,1176.5 L1135.9,1176.4 L1136.8,1175.5 L1137.7,1175.3 L1138.6,1173.3 L1139.5,1172.8 L1140.4,1170.7 L1141.4,1170.2 L1142.3,1167.1 L1143.2,1165.3 L1144.1,1163.5 L1145.0,1162.2 L1145.9,1162.5 L1146.9,1160.4 L1147.8,1160.3 L1148.7,1161.3 L1149.6,1162.8 L1150.5,1163.1 L1151.4,1165.4 L1152.4,1166.4 L1153.3,1166.8 L1154.2,1167.3 L1155.1,1167.2 L1156.0,1167.4 L1156.9,1166.6 L1157.9,1166.9 L1158.8,1166.2 L1159.7,1164.1 L1160.6,1163.2 L1161.5,1161.5 L1162.4,1161.9 L1163.4,1162.6 L1164.3,1163.3 L1165.2,1164.3 L1166.1,1166.2 L1167.0,1167.4 L1167.9,1168.8 L1168.9,1171.6 L1169.8,1171.1 L1170.7,1172.9 L1171.6,1174.3 L1172.5,1175.3 L1173.5,1176.1 L1174.4,1177.1 L1175.3,1177.4 L1176.2,1178.2 L1177.1,1178.9 L1178.0,1178.8 L1179.0,1179.1 L1179.9,1178.7 L1180.8,1178.7 L1181.7,1179.3 L1182.6,1180.0 L1183.5,1179.8 L1184.5,1180.3 L1185.4,1180.3 L1186.3,1180.4 L1187.2,1179.4 L1188.1,1180.6 L1189.0,1180.4 L1190.0,1181.1 L1190.9,1180.4 L1191.8,1180.3 L1192.7,1180.0 L1193.6,1180.2 L1194.5,1179.3 L1195.5,1180.1 L1196.4,1180.2 L1197.3,1180.8 L1198.2,1179.9 L1199.1,1180.3 L1200.0,1181.3 L1201.0,1180.0 L1201.9,1180.8 L1202.8,1180.0 L1203.7,1180.3 L1204.6,1180.6 L1205.5,1180.9 L1206.5,1180.1 L1207.4,1179.8 L1208.3,1181.2 L1209.2,1180.5 L1210.1,1180.9 L1211.0,1180.9 L1212.0,1180.9 L1212.9,1180.3 L1213.8,1180.4 L1214.7,1179.6 L1215.6,1180.6 L1216.5,1180.2 L1217.5,1180.5 L1218.4,1181.5 L1219.3,1180.9 L1220.2,1180.5 L1221.1,1179.8 L1222.1,1180.9 L1223.0,1181.3 L1223.9,1180.1 L1224.8,1180.8 L1225.7,1180.2 L1226.6,1180.4 L1227.6,1180.3 L1228.5,1179.7 L1229.4,1180.3 L1230.3,1179.7 L1231.2,1181.3 L1232.1,1181.1 L1233.1,1180.6 L1234.0,1180.7 L1234.9,1180.6 L1235.8,1180.6 L1236.7,1180.6 L1237.6,1180.4 L1238.6,1180.4 L1239.5,1179.8 L1240.4,1180.0 L1241.3,1180.2 L1242.2,1180.6 L1243.1,1180.3 L1244.1,1181.6 L1245.0,1180.4 L1245.9,1180.3 L1246.8,1180.7 L1247.7,1181.1 L1248.6,1181.5 L1249.6,1181.0 L1250.5,1180.2 L1251.4,1180.4 L1252.3,1181.0 L1253.2,1180.6 L1254.1,1180.8 L1255.1,1180.4 L1256.0,1181.2 L1256.9,1181.1 L1257.8,1180.9 L1258.7,1180.3 L1259.6,1179.3 L1260.6,1179.4 L1261.5,1180.1 L1262.4,1180.2 L1263.3,1178.0 L1264.2,1179.1 L1265.2,1179.7 L1266.1,1179.2 L1267.0,1178.0 L1267.9,1178.1 L1268.8,1177.2 L1269.7,1176.6 L1270.7,1176.8 L1271.6,1176.4 L1272.5,1175.3 L1273.4,1175.1 L1274.3,1175.1 L1275.2,1175.4 L1276.2,1177.3 L1277.1,1178.1 L1278.0,1177.7 L1278.9,1178.6 L1279.8,1178.1 L1280.7,1178.7 L1281.7,1179.5 L1282.6,1179.4 L1283.5,1179.3 L1284.4,1178.4 L1285.3,1178.5 L1286.2,1179.0 L1287.2,1178.9 L1288.1,1179.0 L1289.0,1178.5 L1289.9,1178.5 L1290.8,1178.4 L1291.7,1178.3 L1292.7,1177.8 L1293.6,1177.2 L1294.5,1177.1 L1295.4,1177.5 L1296.3,1176.7 L1297.2,1176.2 L1298.2,1176.1 L1299.1,1176.9 L1300.0,1177.1 L1300.9,1177.7 L1301.8,1177.1 L1302.7,1178.3 L1303.7,1177.7 L1304.6,1178.1 L1305.5,1178.2 L1306.4,1179.1 L1307.3,1179.6 L1308.2,1179.3 L1309.2,1179.2 L1310.1,1178.9 L1311.0,1179.9 L1311.9,1179.8 L1312.8,1180.0 L1313.8,1179.8 L1314.7,1179.8 L1315.6,1180.1 L1316.5,1180.6 L1317.4,1180.9 L1318.3,1180.5 L1319.3,1180.7 L1320.2,1180.4 L1321.1,1180.5 L1322.0,1179.8 L1322.9,1181.0 L1323.8,1180.9 L1324.8,1181.4 L1325.7,1180.3 L1326.6,1180.7 L1327.5,1180.1 L1328.4,1180.8 L1329.3,1180.6 L1330.3,1181.0 L1331.2,1180.6 L1332.1,1181.0 L1333.0,1180.4 L1333.9,1181.0 L1334.8,1180.5 L1335.8,1180.5 L1336.7,1180.7 L1337.6,1180.9 L1338.5,1180.0 L1339.4,1179.9 L1340.3,1180.8 L1341.3,1180.7 L1342.2,1179.6 L1343.1,1179.8 L1344.0,1180.3 L1344.9,1180.9 L1345.8,1180.8 L1346.8,1181.3 L1347.7,1181.4 L1348.6,1182.0 L1349.5,1180.0 L1350.4,1180.7 L1351.3,1181.3 L1352.3,1180.1 L1353.2,1180.0 L1354.1,1180.8 L1355.0,1181.3 L1355.9,1181.4 L1356.9,1179.8 L1357.8,1180.1 L1358.7,1180.7 L1359.6,1180.5 L1360.5,1180.9 L1361.4,1180.8 L1362.4,1181.7 L1363.3,1180.7 L1364.2,1180.8 L1365.1,1180.8 L1366.0,1181.3 L1366.9,1180.1 L1367.9,1180.9 L1368.8,1180.3 L1369.7,1179.9 L1370.6,1181.3 L1371.5,1181.0 L1372.4,1181.4 L1373.4,1180.8 L1374.3,1181.0 L1375.2,1180.7 L1376.1,1181.0 L1377.0,1180.4 L1377.9,1181.5 L1378.9,1180.1 L1379.8,1181.5 L1380.7,1180.5 L1381.6,1181.0 L1382.5,1180.6 L1383.4,1180.8 L1384.4,1181.3 L1385.3,1180.6 L1386.2,1180.0 L1387.1,1180.6 L1388.0,1180.7 L1388.9,1179.0 L1389.9,1180.8 L1390.8,1180.8 L1391.7,1179.2 L1392.6,1180.0 L1393.5,1180.5 L1394.4,1179.3 L1395.4,1179.6 L1396.3,1179.5 L1397.2,1179.8 L1398.1,1179.8 L1399.0,1178.9 L1399.9,1178.6 L1400.9,1178.5 L1401.8,1177.5 L1402.7,1176.1 L1403.6,1175.4 L1404.5,1172.1 L1405.5,1170.7 L1406.4,1167.8 L1407.3,1165.2 L1408.2,1163.6 L1409.1,1162.7 L1410.0,1164.8 L1411.0,1165.8 L1411.9,1168.2 L1412.8,1171.5 L1413.7,1173.4 L1414.6,1173.6 L1415.5,1176.1 L1416.5,1177.5 L1417.4,1177.6 L1418.3,1178.6 L1419.2,1178.6 L1420.1,1179.3 L1421.0,1178.5 L1422.0,1178.5 L1422.9,1179.4 L1423.8,1179.9 L1424.7,1180.6 L1425.6,1179.8 L1426.5,1179.6 L1427.5,1180.5 L1428.4,1180.1 L1429.3,1181.1 L1430.2,1180.0 L1431.1,1179.0 L1432.0,1179.7 L1433.0,1179.6 L1433.9,1179.3 L1434.8,1179.6 L1435.7,1179.6 L1436.6,1179.8 L1437.5,1179.6 L1438.5,1180.1 L1439.4,1180.0 L1440.3,1179.7 L1441.2,1179.6 L1442.1,1178.3 L1443.0,1178.2 L1444.0,1178.3 L1444.9,1178.5 L1445.8,1177.0 L1446.7,1176.8 L1447.6,1176.1 L1448.6,1175.6 L1449.5,1172.8 L1450.4,1170.0 L1451.3,1168.3 L1452.2,1165.2 L1453.1,1162.9 L1454.1,1162.9 L1455.0,1162.6 L1455.9,1165.2 L1456.8,1167.8 L1457.7,1170.8 L1458.6,1172.0 L1459.6,1173.8 L1460.5,1175.8 L1461.4,1176.9 L1462.3,1177.9 L1463.2,1178.2 L1464.1,1179.1 L1465.1,1179.5 L1466.0,1179.5 L1466.9,1179.0 L1467.8,1180.4 L1468.7,1179.0 L1469.6,1179.8 L1470.6,1180.5 L1471.5,1179.8 L1472.4,1180.9 L1473.3,1181.3 L1474.2,1181.1 L1475.1,1180.5 L1476.1,1180.9 L1477.0,1180.1 L1477.9,1180.6 L1478.8,1180.7 L1479.7,1180.5 L1480.6,1180.5 L1481.6,1180.4 L1482.5,1179.4 L1483.4,1180.7 L1484.3,1180.7 L1485.2,1181.6 L1486.1,1180.9 L1487.1,1180.6 L1488.0,1181.0 L1488.9,1180.9 L1489.8,1180.5 L1490.7,1180.3 L1491.6,1179.7 L1492.6,1180.6 L1493.5,1181.4 L1494.4,1179.5 L1495.3,1180.0 L1496.2,1180.9 L1497.2,1180.6 L1498.1,1180.7 L1499.0,1179.4 L1499.9,1180.1 L1500.8,1180.7 L1501.7,1180.7 L1502.7,1180.5 L1503.6,1179.8 L1504.5,1180.6 L1505.4,1179.6 L1506.3,1179.7 L1507.2,1179.5 L1508.2,1180.9 L1509.1,1179.8 L1510.0,1180.0 L1510.9,1178.7 L1511.8,1180.4 L1512.7,1179.9 L1513.7,1178.7 L1514.6,1178.6 L1515.5,1180.2 L1516.4,1178.6 L1517.3,1179.9 L1518.2,1178.4 L1519.2,1177.0 L1520.1,1178.5 L1521.0,1177.6 L1521.9,1177.0 L1522.8,1175.1 L1523.7,1173.5 L1524.7,1171.5 L1525.6,1166.5 L1526.5,1160.4 L1527.4,1154.9 L1528.3,1145.8 L1529.2,1138.4 L1530.2,1130.7 L1531.1,1128.0 L1532.0,1130.6 L1532.9,1136.1 L1533.8,1146.3 L1534.7,1153.3 L1535.7,1160.4 L1536.6,1166.6 L1537.5,1169.5 L1538.4,1172.3 L1539.3,1173.4 L1540.3,1174.2 L1541.2,1174.0 L1542.1,1174.2 L1543.0,1172.9 L1543.9,1172.3 L1544.8,1170.5 L1545.8,1170.1 L1546.7,1166.7 L1547.6,1166.4 L1548.5,1165.0 L1549.4,1164.0 L1550.3,1163.4 L1551.3,1164.6 L1552.2,1166.1 L1553.1,1166.1 L1554.0,1167.0 L1554.9,1169.1 L1555.8,1170.7 L1556.8,1172.3 L1557.7,1173.3 L1558.6,1174.6 L1559.5,1174.1 L1560.4,1174.4 L1561.3,1174.3 L1562.3,1173.4 L1563.2,1173.0 L1564.1,1173.7 L1565.0,1171.0 L1565.9,1169.2 L1566.8,1167.1 L1567.8,1167.7 L1568.7,1166.1 L1569.6,1165.7 L1570.5,1167.8 L1571.4,1168.3 L1572.3,1167.9 L1573.3,1170.2 L1574.2,1172.5 L1575.1,1173.9 L1576.0,1174.1 L1576.9,1176.7 L1577.8,1177.6 L1578.8,1176.7 L1579.7,1177.0 L1580.6,1177.6 L1581.5,1179.1 L1582.4,1179.6 L1583.3,1179.4 L1584.3,1179.1 L1585.2,1179.6 L1586.1,1180.1 L1587.0,1179.2 L1587.9,1179.0 L1588.9,1180.0 L1589.8,1180.8 L1590.7,1180.3 L1591.6,1180.4 L1592.5,1179.9 L1593.4,1180.9 L1594.4,1179.5 L1595.3,1180.4 L1596.2,1180.1 L1597.1,1180.4 L1598.0,1180.0 L1598.9,1181.0 L1599.9,1180.5 L1600.8,1180.3 L1601.7,1180.9 L1602.6,1180.6 L1603.5,1180.4 L1604.4,1180.4 L1605.4,1181.1 L1606.3,1180.2 L1607.2,1180.6 L1608.1,1180.6 L1609.0,1180.9 L1609.9,1180.7 L1610.9,1182.0 L1611.8,1179.8 L1612.7,1181.1 L1613.6,1180.8 L1614.5,1181.4 L1615.4,1179.9 L1616.4,1181.5 L1617.3,1180.1 L1618.2,1181.2 L1619.1,1181.1 L1620.0,1180.9 L1620.9,1180.5 L1621.9,1180.4 L1622.8,1180.9 L1623.7,1180.5 L1624.6,1179.8 L1625.5,1179.9 L1626.4,1181.3 L1627.4,1181.4 L1628.3,1181.2 L1629.2,1180.9 L1630.1,1181.1 L1631.0,1181.2 L1632.0,1181.1 L1632.9,1180.5 L1633.8,1180.5 L1634.7,1180.3 L1635.6,1181.0 L1636.5,1180.4 L1637.5,1180.8 L1638.4,1181.6 L1639.3,1180.7 L1640.2,1181.5 L1641.1,1181.8 L1642.0,1179.9 L1643.0,1180.1 L1643.9,1181.2 L1644.8,1180.5 L1645.7,1181.2 L1646.6,1181.3 L1647.5,1180.6 L1648.5,1181.4 L1649.4,1181.9 L1650.3,1181.4 L1651.2,1180.4 L1652.1,1180.8 L1653.0,1180.6 L1654.0,1181.7 L1654.9,1180.7 L1655.8,1180.5 L1656.7,1180.9 L1657.6,1181.1 L1658.5,1180.6 L1659.5,1180.9 L1660.4,1180.8 L1661.3,1181.2 L1662.2,1181.3 L1663.1,1180.9 L1664.0,1180.5 L1665.0,1180.9 L1665.9,1180.2 L1666.8,1181.2 L1667.7,1180.8 L1668.6,1180.7 L1669.5,1179.2 L1670.5,1181.8 L1671.4,1181.2 L1672.3,1181.1 L1673.2,1180.4 L1674.1,1180.6 L1675.0,1181.8 L1676.0,1179.7 L1676.9,1180.4 L1677.8,1180.2 L1678.7,1179.8 L1679.6,1179.8 L1680.6,1178.8 L1681.5,1179.4 L1682.4,1178.0 L1683.3,1179.3 L1684.2,1178.2 L1685.1,1176.5 L1686.1,1174.7 L1687.0,1174.6 L1687.9,1173.0 L1688.8,1170.1 L1689.7,1169.1 L1690.6,1165.7 L1691.6,1162.7 L1692.5,1160.3 L1693.4,1160.2 L1694.3,1160.9 L1695.2,1163.2 L1696.1,1166.0 L1697.1,1168.0 L1698.0,1170.7 L1698.9,1173.3 L1699.8,1174.6 L1700.7,1175.4 L1701.6,1176.9 L1702.6,1177.0 L1703.5,1178.0 L1704.4,1178.2 L1705.3,1177.8 L1706.2,1178.9 L1707.1,1178.8 L1708.1,1179.2 L1709.0,1178.1 L1709.9,1179.4 L1710.8,1179.3 L1711.7,1178.4 L1712.6,1178.3 L1713.6,1178.1 L1714.5,1177.7 L1715.4,1177.7 L1716.3,1176.1 L1717.2,1174.8 L1718.1,1174.0 L1719.1,1173.5 L1720.0,1170.2 L1720.9,1167.4 L1721.8,1164.9 L1722.7,1163.0 L1723.7,1161.6 L1724.6,1159.9 L1725.5,1161.1 L1726.4,1163.0 L1727.3,1165.6 L1728.2,1168.0 L1729.2,1170.9 L1730.1,1172.7 L1731.0,1173.7 L1731.9,1176.7 L1732.8,1175.6 L1733.7,1176.3 L1734.7,1178.1 L1735.6,1178.0 L1736.5,1178.0 L1737.4,1178.4 L1738.3,1178.7 L1739.2,1178.2 L1740.2,1178.0 L1741.1,1177.7 L1742.0,1177.6 L1742.9,1177.4 L1743.8,1178.1 L1744.7,1177.1 L1745.7,1176.4 L1746.6,1174.8 L1747.5,1174.4 L1748.4,1171.3 L1749.3,1170.4 L1750.2,1168.3 L1751.2,1165.3 L1752.1,1163.0 L1753.0,1162.6 L1753.9,1161.9 L1754.8,1162.9 L1755.7,1165.3 L1756.7,1166.9 L1757.6,1169.6 L1758.5,1172.7 L1759.4,1172.9 L1760.3,1174.9 L1761.2,1174.7 L1762.2,1175.9 L1763.1,1176.2 L1764.0,1176.5 L1764.9,1177.1 L1765.8,1177.9 L1766.7,1176.7 L1767.7,1177.4 L1768.6,1176.7 L1769.5,1176.8 L1770.4,1176.0 L1771.3,1175.6 L1772.3,1175.7 L1773.2,1175.1 L1774.1,1175.3 L1775.0,1174.4 L1775.9,1174.7 L1776.8,1174.6 L1777.8,1175.2 L1778.7,1174.8 L1779.6,1173.9 L1780.5,1173.0 L1781.4,1173.3 L1782.3,1173.2 L1783.3,1172.4 L1784.2,1171.7 L1785.1,1171.0 L1786.0,1171.7 L1786.9,1172.6 L1787.8,1171.3 L1788.8,1171.4 L1789.7,1171.2 L1790.6,1171.1 L1791.5,1171.1 L1792.4,1169.4 L1793.3,1170.2 L1794.3,1170.2 L1795.2,1169.5 L1796.1,1169.7 L1797.0,1168.0 L1797.9,1167.6 L1798.8,1166.6 L1799.8,1163.5 L1800.7,1161.2 L1801.6,1157.8 L1802.5,1154.7 L1803.4,1148.9 L1804.3,1144.8 L1805.3,1141.5 L1806.2,1139.2 L1807.1,1138.2 L1808.0,1138.8 L1808.9,1143.6 L1809.8,1147.3 L1810.8,1151.8 L1811.7,1157.2 L1812.6,1161.8 L1813.5,1164.7 L1814.4,1166.9 L1815.4,1169.9 L1816.3,1172.1 L1817.2,1174.1 L1818.1,1174.2 L1819.0,1175.8 L1819.9,1175.8 L1820.9,1177.1 L1821.8,1176.8 L1822.7,1177.6 L1823.6,1177.4 L1824.5,1178.0 L1825.4,1177.9 L1826.4,1177.9 L1827.3,1179.9 L1828.2,1180.1 L1829.1,1179.8 L1830.0,1179.5 L1830.9,1180.6 L1831.9,1179.8 L1832.8,1180.3 L1833.7,1180.8 L1834.6,1180.3 L1835.5,1181.1 L1836.4,1180.3 L1837.4,1180.3 L1838.3,1180.6 L1839.2,1179.9 L1840.1,1180.0 L1841.0,1181.1 L1841.9,1179.7 L1842.9,1181.3 L1843.8,1180.9 L1844.7,1181.4 L1845.6,1181.2 L1846.5,1181.2 L1847.4,1181.8 L1848.4,1180.9 L1849.3,1180.9 L1850.2,1181.6 L1851.1,1180.6 L1852.0,1181.6 L1852.9,1181.4 L1853.9,1180.8 L1854.8,1180.4 L1855.7,1180.0 L1856.6,1182.1 L1857.5,1180.3 L1858.4,1180.5 L1859.4,1181.6 L1860.3,1181.4 L1861.2,1181.3 L1862.1,1181.2 L1863.0,1180.9 L1864.0,1180.7 L1864.9,1180.8 L1865.8,1181.5 L1866.7,1181.8 L1867.6,1181.9 L1868.5,1181.2 L1869.5,1180.0 L1870.4,1181.5 L1871.3,1181.2 L1872.2,1179.8 L1873.1,1182.0 L1874.0,1181.4 L1875.0,1181.3 L1875.9,1181.4 L1876.8,1181.4 L1877.7,1181.4 L1878.6,1181.4 L1879.5,1181.3 L1880.5,1181.6 L1881.4,1181.5 L1882.3,1182.7 L1883.2,1181.4 L1884.1,1181.1 L1885.0,1181.0 L1886.0,1181.6 L1886.9,1181.4 L1887.8,1181.5 L1888.7,1181.3 L1889.6,1181.3 L1890.5,1181.8 L1891.5,1182.1 L1892.4,1181.6 L1893.3,1181.3 L1894.2,1180.8 L1895.1,1180.8 L1896.0,1181.4 L1897.0,1181.3 L1897.9,1181.4 L1898.8,1180.8 L1899.7,1181.3 L1900.6,1180.3 L1901.5,1180.8 L1902.5,1181.0 L1903.4,1181.7 L1904.3,1181.1 L1905.2,1180.9 L1906.1,1181.6 L1907.1,1181.4 L1908.0,1181.9 L1908.9,1181.6 L1909.8,1181.5 L1910.7,1181.3 L1911.6,1181.8 L1912.6,1181.0 L1913.5,1180.6 L1914.4,1181.9 L1915.3,1181.2 L1916.2,1181.4 L1917.1,1181.8 L1918.1,1182.0 L1919.0,1179.8 L1919.9,1180.8 L1920.8,1182.1 L1921.7,1180.5 L1922.6,1181.7 L1923.6,1181.2 L1924.5,1180.9 L1925.4,1181.3 L1926.3,1180.5 L1927.2,1181.6 L1928.1,1182.0 L1929.1,1180.6 L1930.0,1181.0 L1930.9,1182.0 L1931.8,1181.6 L1932.7,1181.2 L1933.6,1182.2 L1934.6,1180.4 L1935.5,1181.2 L1936.4,1181.4 L1937.3,1181.2 L1938.2,1181.8 L1939.1,1180.4 L1940.1,1181.4 L1941.0,1180.9 L1941.9,1182.0 L1942.8,1181.9 L1943.7,1180.9 L1944.6,1180.7 L1945.6,1181.3 L1946.5,1180.8 L1947.4,1181.0 L1948.3,1181.5 L1949.2,1181.0 L1950.1,1182.2 L1951.1,1181.2 L1952.0,1180.9 L1952.9,1180.6 L1953.8,1180.9 L1954.7,1181.7 L1955.7,1181.4 L1956.6,1181.8 L1957.5,1181.7 L1958.4,1181.3 L1959.3,1180.5 L1960.2,1180.8 L1961.2,1180.9 L1962.1,1179.9 L1963.0,1180.9 L1963.9,1180.1 L1964.8,1180.5 L1965.7,1180.2 L1966.7,1180.7 L1967.6,1181.7 L1968.5,1179.5 L1969.4,1180.0 L1970.3,1181.0 L1971.2,1179.2 L1972.2,1179.5 L1973.1,1179.4 L1974.0,1179.4 L1974.9,1178.2 L1975.8,1179.0 L1976.7,1179.0 L1977.7,1179.9 L1978.6,1178.2 L1979.5,1177.7 L1980.4,1177.9 L1981.3,1176.2 L1982.2,1177.6 L1983.2,1178.0 L1984.1,1176.9 L1985.0,1176.7 L1985.9,1176.4 L1986.8,1176.4 L1987.7,1175.5 L1988.7,1176.9 L1989.6,1175.7 L1990.5,1175.6 L1991.4,1176.7 L1992.3,1175.7 L1993.2,1175.5 L1994.2,1176.7 L1995.1,1175.9 L1996.0,1176.4"/>
<path stroke="#ee8119" d="M162.0,1407.3 L162.9,1407.7 L163.8,1405.3 L164.8,1406.6 L165.7,1407.3 L166.6,1407.5 L167.5,1407.1 L168.4,1407.5 L169.3,1406.9 L170.3,1407.0 L171.2,1406.8 L172.1,1406.1 L173.0,1406.3 L173.9,1407.0 L174.8,1406.4 L175.8,1407.5 L176.7,1407.5 L177.6,1407.8 L178.5,1406.8 L179.4,1407.5 L180.3,1406.3 L181.3,1406.3 L182.2,1406.8 L183.1,1407.0 L184.0,1405.9 L184.9,1405.9 L185.8,1407.0 L186.8,1406.3 L187.7,1407.5 L188.6,1407.0 L189.5,1407.0 L190.4,1407.0 L191.3,1407.3 L192.3,1406.8 L193.2,1407.4 L194.1,1406.6 L195.0,1406.7 L195.9,1406.5 L196.8,1407.2 L197.8,1406.9 L198.7,1406.4 L199.6,1408.0 L200.5,1406.7 L201.4,1406.8 L202.3,1407.1 L203.3,1407.9 L204.2,1406.8 L205.1,1407.3 L206.0,1407.0 L206.9,1406.1 L207.8,1407.3 L208.8,1407.5 L209.7,1406.8 L210.6,1406.9 L211.5,1406.1 L212.4,1406.1 L213.4,1406.7 L214.3,1407.3 L215.2,1406.7 L216.1,1407.1 L217.0,1407.5 L217.9,1407.0 L218.9,1407.3 L219.8,1407.7 L220.7,1406.3 L221.6,1407.3 L222.5,1405.9 L223.4,1407.2 L224.4,1407.0 L225.3,1406.6 L226.2,1406.3 L227.1,1406.9 L228.0,1406.7 L228.9,1407.0 L229.9,1406.4 L230.8,1407.2 L231.7,1406.4 L232.6,1406.8 L233.5,1406.7 L234.4,1407.6 L235.4,1406.1 L236.3,1406.7 L237.2,1407.6 L238.1,1406.5 L239.0,1406.2 L239.9,1407.1 L240.9,1406.7 L241.8,1407.3 L242.7,1406.4 L243.6,1407.0 L244.5,1407.2 L245.4,1407.4 L246.4,1406.2 L247.3,1407.6 L248.2,1406.3 L249.1,1406.0 L250.0,1406.3 L250.9,1406.9 L251.9,1406.6 L252.8,1407.0 L253.7,1407.0 L254.6,1406.9 L255.5,1406.6 L256.5,1407.7 L257.4,1405.4 L258.3,1405.7 L259.2,1406.3 L260.1,1405.9 L261.0,1405.2 L262.0,1406.1 L262.9,1406.1 L263.8,1405.1 L264.7,1406.9 L265.6,1407.1 L266.5,1407.0 L267.5,1406.0 L268.4,1406.3 L269.3,1405.6 L270.2,1406.3 L271.1,1405.7 L272.0,1406.2 L273.0,1405.8 L273.9,1406.4 L274.8,1406.2 L275.7,1406.4 L276.6,1404.7 L277.5,1404.5 L278.5,1405.6 L279.4,1404.9 L280.3,1405.3 L281.2,1405.1 L282.1,1404.8 L283.0,1405.0 L284.0,1404.6 L284.9,1404.3 L285.8,1403.2 L286.7,1404.3 L287.6,1403.1 L288.5,1403.2 L289.5,1402.2 L290.4,1402.1 L291.3,1400.8 L292.2,1400.0 L293.1,1398.9 L294.0,1397.0 L295.0,1395.1 L295.9,1392.5 L296.8,1388.2 L297.7,1381.2 L298.6,1373.2 L299.5,1357.3 L300.5,1338.7 L301.4,1316.3 L302.3,1287.1 L303.2,1259.8 L304.1,1236.4 L305.1,1223.9 L306.0,1227.1 L306.9,1245.1 L307.8,1272.0 L308.7,1300.0 L309.6,1324.0 L310.6,1346.2 L311.5,1361.6 L312.4,1373.5 L313.3,1380.4 L314.2,1384.1 L315.1,1386.5 L316.1,1387.3 L317.0,1387.1 L317.9,1385.5 L318.8,1379.2 L319.7,1371.2 L320.6,1359.6 L321.6,1342.5 L322.5,1321.2 L323.4,1295.3 L324.3,1267.9 L325.2,1243.2 L326.1,1229.1 L327.1,1229.7 L328.0,1244.3 L328.9,1269.6 L329.8,1296.9 L330.7,1322.5 L331.6,1345.6 L332.6,1361.3 L333.5,1375.1 L334.4,1384.1 L335.3,1388.7 L336.2,1392.4 L337.1,1395.4 L338.1,1397.3 L339.0,1397.9 L339.9,1398.6 L340.8,1399.6 L341.7,1399.6 L342.6,1399.1 L343.6,1399.9 L344.5,1400.1 L345.4,1399.2 L346.3,1400.1 L347.2,1399.2 L348.2,1399.6 L349.1,1397.8 L350.0,1397.4 L350.9,1396.0 L351.8,1395.9 L352.7,1393.4 L353.7,1389.7 L354.6,1383.8 L355.5,1374.6 L356.4,1361.4 L357.3,1341.9 L358.2,1319.8 L359.2,1291.9 L360.1,1262.9 L361.0,1236.7 L361.9,1222.4 L362.8,1221.9 L363.7,1236.8 L364.7,1263.7 L365.6,1292.6 L366.5,1319.6 L367.4,1343.4 L368.3,1361.4 L369.2,1373.8 L370.2,1383.4 L371.1,1390.6 L372.0,1394.4 L372.9,1397.0 L373.8,1398.0 L374.7,1399.7 L375.7,1401.1 L376.6,1402.2 L377.5,1402.1 L378.4,1402.5 L379.3,1404.2 L380.2,1404.1 L381.2,1404.2 L382.1,1404.3 L383.0,1404.7 L383.9,1406.2 L384.8,1406.1 L385.7,1405.5 L386.7,1405.2 L387.6,1407.0 L388.5,1407.1 L389.4,1407.0 L390.3,1407.0 L391.2,1405.6 L392.2,1406.0 L393.1,1407.1 L394.0,1406.8 L394.9,1407.2 L395.8,1406.8 L396.8,1406.8 L397.7,1407.5 L398.6,1407.1 L399.5,1407.4 L400.4,1407.6 L401.3,1407.6 L402.3,1408.2 L403.2,1408.3 L404.1,1406.9 L405.0,1407.5 L405.9,1407.3 L406.8,1408.2 L407.8,1407.2 L408.7,1408.2 L409.6,1408.2 L410.5,1408.2 L411.4,1407.4 L412.3,1407.8 L413.3,1407.4 L414.2,1408.2 L415.1,1408.5 L416.0,1407.2 L416.9,1407.6 L417.8,1408.0 L418.8,1407.8 L419.7,1409.0 L420.6,1408.1 L421.5,1408.3 L422.4,1407.6 L423.3,1409.1 L424.3,1408.3 L425.2,1408.7 L426.1,1408.3 L427.0,1407.1 L427.9,1407.4 L428.8,1407.6 L429.8,1408.6 L430.7,1408.0 L431.6,1408.6 L432.5,1408.5 L433.4,1408.5 L434.3,1408.9 L435.3,1408.5 L436.2,1407.5 L437.1,1408.0 L438.0,1409.3 L438.9,1407.8 L439.9,1409.1 L440.8,1409.3 L441.7,1408.0 L442.6,1408.5 L443.5,1407.5 L444.4,1408.7 L445.4,1407.8 L446.3,1407.5 L447.2,1408.0 L448.1,1407.9 L449.0,1407.8 L449.9,1408.1 L450.9,1407.9 L451.8,1407.5 L452.7,1408.2 L453.6,1408.9 L454.5,1407.4 L455.4,1406.6 L456.4,1406.0 L457.3,1406.1 L458.2,1404.3 L459.1,1402.3 L460.0,1397.6 L460.9,1393.1 L461.9,1386.7 L462.8,1381.3 L463.7,1376.1 L464.6,1374.9 L465.5,1381.1 L466.4,1388.0 L467.4,1394.5 L468.3,1397.3 L469.2,1402.4 L470.1,1405.0 L471.0,1406.3 L471.9,1406.6 L472.9,1406.2 L473.8,1407.3 L474.7,1407.6 L475.6,1408.3 L476.5,1408.5 L477.4,1408.1 L478.4,1408.8 L479.3,1407.8 L480.2,1408.1 L481.1,1408.5 L482.0,1408.9 L482.9,1408.5 L483.9,1409.4 L484.8,1409.0 L485.7,1408.2 L486.6,1408.8 L487.5,1408.3 L488.5,1408.3 L489.4,1408.1 L490.3,1409.7 L491.2,1409.4 L492.1,1408.1 L493.0,1409.6 L494.0,1409.5 L494.9,1408.8 L495.8,1409.3 L496.7,1410.2 L497.6,1409.2 L498.5,1409.3 L499.5,1409.6 L500.4,1408.5 L501.3,1408.3 L502.2,1408.3 L503.1,1409.0 L504.0,1409.5 L505.0,1408.6 L505.9,1408.3 L506.8,1409.2 L507.7,1408.9 L508.6,1409.4 L509.5,1409.0 L510.5,1409.0 L511.4,1409.0 L512.3,1409.1 L513.2,1408.5 L514.1,1408.4 L515.0,1409.9 L516.0,1410.7 L516.9,1409.6 L517.8,1408.1 L518.7,1409.0 L519.6,1409.6 L520.5,1408.0 L521.5,1408.6 L522.4,1408.6 L523.3,1408.3 L524.2,1408.3 L525.1,1409.2 L526.0,1408.3 L527.0,1408.3 L527.9,1409.1 L528.8,1407.4 L529.7,1406.5 L530.6,1407.3 L531.6,1407.4 L532.5,1405.6 L533.4,1404.8 L534.3,1402.9 L535.2,1402.2 L536.1,1402.9 L537.1,1402.5 L538.0,1402.3 L538.9,1402.2 L539.8,1402.7 L540.7,1403.6 L541.6,1404.3 L542.6,1405.9 L543.5,1405.7 L544.4,1406.2 L545.3,1407.0 L546.2,1407.0 L547.1,1406.6 L548.1,1406.5 L549.0,1405.8 L549.9,1404.1 L550.8,1404.2 L551.7,1402.8 L552.6,1401.3 L553.6,1399.7 L554.5,1397.0 L555.4,1395.4 L556.3,1391.8 L557.2,1389.1 L558.1,1386.4 L559.1,1383.9 L560.0,1382.9 L560.9,1382.5 L561.8,1382.9 L562.7,1383.4 L563.6,1384.9 L564.6,1386.6 L565.5,1388.2 L566.4,1388.0 L567.3,1388.9 L568.2,1388.8 L569.1,1388.9 L570.1,1388.6 L571.0,1389.7 L571.9,1390.2 L572.8,1391.8 L573.7,1392.5 L574.6,1394.7 L575.6,1397.0 L576.5,1400.1 L577.4,1402.0 L578.3,1402.3 L579.2,1404.4 L580.2,1406.3 L581.1,1405.5 L582.0,1406.6 L582.9,1408.0 L583.8,1408.1 L584.7,1407.5 L585.7,1409.1 L586.6,1409.0 L587.5,1409.0 L588.4,1408.1 L589.3,1408.8 L590.2,1409.7 L591.2,1409.4 L592.1,1409.6 L593.0,1409.1 L593.9,1410.1 L594.8,1409.2 L595.7,1409.9 L596.7,1409.6 L597.6,1409.0 L598.5,1410.4 L599.4,1408.9 L600.3,1409.2 L601.2,1409.8 L602.2,1408.9 L603.1,1408.7 L604.0,1409.7 L604.9,1409.6 L605.8,1409.7 L606.7,1410.1 L607.7,1411.1 L608.6,1409.7 L609.5,1411.3 L610.4,1410.1 L611.3,1409.9 L612.2,1408.5 L613.2,1409.1 L614.1,1410.1 L615.0,1410.3 L615.9,1409.6 L616.8,1410.2 L617.7,1410.6 L618.7,1409.8 L619.6,1409.2 L620.5,1409.6 L621.4,1409.9 L622.3,1410.3 L623.3,1410.6 L624.2,1409.6 L625.1,1410.2 L626.0,1410.0 L626.9,1410.2 L627.8,1410.8 L628.8,1410.9 L629.7,1409.9 L630.6,1409.8 L631.5,1409.8 L632.4,1409.9 L633.3,1410.0 L634.3,1410.1 L635.2,1409.9 L636.1,1409.6 L637.0,1409.6 L637.9,1410.2 L638.8,1411.6 L639.8,1410.5 L640.7,1410.6 L641.6,1410.4 L642.5,1410.1 L643.4,1411.3 L644.3,1410.1 L645.3,1409.7 L646.2,1409.5 L647.1,1410.3 L648.0,1409.7 L648.9,1409.8 L649.8,1409.8 L650.8,1409.5 L651.7,1410.3 L652.6,1409.3 L653.5,1411.5 L654.4,1408.7 L655.3,1409.5 L656.3,1410.3 L657.2,1410.5 L658.1,1410.1 L659.0,1410.4 L659.9,1410.4 L660.8,1410.3 L661.8,1410.6 L662.7,1410.4 L663.6,1410.2 L664.5,1410.2 L665.4,1410.8 L666.3,1410.2 L667.3,1410.6 L668.2,1411.1 L669.1,1410.5 L670.0,1410.9 L670.9,1410.0 L671.9,1410.4 L672.8,1410.6 L673.7,1410.4 L674.6,1410.5 L675.5,1411.0 L676.4,1410.1 L677.4,1409.9 L678.3,1410.4 L679.2,1409.5 L680.1,1410.3 L681.0,1410.9 L681.9,1410.3 L682.9,1410.6 L683.8,1410.5 L684.7,1410.9 L685.6,1410.5 L686.5,1410.4 L687.4,1408.4 L688.4,1410.0 L689.3,1410.6 L690.2,1410.2 L691.1,1409.8 L692.0,1410.7 L692.9,1409.7 L693.9,1410.0 L694.8,1410.6 L695.7,1409.9 L696.6,1410.3 L697.5,1410.2 L698.4,1409.5 L699.4,1409.9 L700.3,1410.0 L701.2,1409.8 L702.1,1410.8 L703.0,1410.1 L703.9,1409.8 L704.9,1409.4 L705.8,1410.0 L706.7,1410.8 L707.6,1410.0 L708.5,1410.5 L709.4,1410.4 L710.4,1409.8 L711.3,1409.6 L712.2,1410.4 L713.1,1409.1 L714.0,1410.4 L715.0,1409.4 L715.9,1410.5 L716.8,1409.8 L717.7,1410.0 L718.6,1410.6 L719.5,1409.5 L720.5,1410.0 L721.4,1409.8 L722.3,1410.2 L723.2,1410.3 L724.1,1410.1 L725.0,1410.0 L726.0,1409.7 L726.9,1410.2 L727.8,1409.7 L728.7,1409.9 L729.6,1409.9 L730.5,1409.1 L731.5,1409.2 L732.4,1409.9 L733.3,1409.7 L734.2,1410.4 L735.1,1408.3 L736.0,1409.8 L737.0,1410.2 L737.9,1409.6 L738.8,1410.0 L739.7,1409.5 L740.6,1409.4 L741.5,1409.9 L742.5,1408.6 L743.4,1408.1 L744.3,1409.5 L745.2,1409.2 L746.1,1409.1 L747.0,1409.1 L748.0,1409.2 L748.9,1408.5 L749.8,1408.9 L750.7,1408.7 L751.6,1407.7 L752.5,1408.1 L753.5,1408.2 L754.4,1407.3 L755.3,1408.1 L756.2,1407.0 L757.1,1407.3 L758.0,1407.2 L759.0,1405.1 L759.9,1404.6 L760.8,1404.9 L761.7,1403.4 L762.6,1402.2 L763.6,1400.5 L764.5,1395.6 L765.4,1390.5 L766.3,1381.5 L767.2,1369.9 L768.1,1357.0 L769.1,1343.5 L770.0,1334.8 L770.9,1333.8 L771.8,1342.1 L772.7,1354.2 L773.6,1365.2 L774.6,1376.0 L775.5,1383.1 L776.4,1387.9 L777.3,1388.7 L778.2,1389.4 L779.1,1387.7 L780.1,1384.5 L781.0,1382.1 L781.9,1378.6 L782.8,1373.9 L783.7,1370.9 L784.6,1368.2 L785.6,1367.6 L786.5,1368.7 L787.4,1371.7 L788.3,1375.3 L789.2,1378.3 L790.1,1380.4 L791.1,1383.2 L792.0,1385.2 L792.9,1386.7 L793.8,1387.4 L794.7,1387.0 L795.6,1388.3 L796.6,1387.3 L797.5,1388.1 L798.4,1388.2 L799.3,1389.6 L800.2,1389.1 L801.1,1388.6 L802.1,1387.5 L803.0,1387.3 L803.9,1384.2 L804.8,1380.4 L805.7,1373.9 L806.7,1362.7 L807.6,1349.0 L808.5,1330.2 L809.4,1313.1 L810.3,1296.8 L811.2,1292.3 L812.2,1299.1 L813.1,1315.6 L814.0,1336.4 L814.9,1352.4 L815.8,1369.4 L816.7,1380.5 L817.7,1389.2 L818.6,1394.3 L819.5,1397.6 L820.4,1399.6 L821.3,1401.1 L822.2,1402.9 L823.2,1402.8 L824.1,1405.0 L825.0,1404.8 L825.9,1405.9 L826.8,1405.5 L827.7,1406.8 L828.7,1406.7 L829.6,1407.6 L830.5,1408.1 L831.4,1407.4 L832.3,1407.9 L833.2,1408.2 L834.2,1409.0 L835.1,1407.6 L836.0,1408.8 L836.9,1408.6 L837.8,1408.0 L838.7,1408.6 L839.7,1408.5 L840.6,1409.5 L841.5,1408.4 L842.4,1409.6 L843.3,1408.8 L844.2,1409.4 L845.2,1408.1 L846.1,1408.7 L847.0,1409.2 L847.9,1408.6 L848.8,1408.2 L849.7,1409.1 L850.7,1409.5 L851.6,1409.0 L852.5,1408.8 L853.4,1409.1 L854.3,1408.5 L855.3,1409.1 L856.2,1409.1 L857.1,1407.6 L858.0,1408.7 L858.9,1408.2 L859.8,1407.8 L860.8,1407.7 L861.7,1407.7 L862.6,1407.6 L863.5,1407.0 L864.4,1405.6 L865.3,1405.9 L866.3,1403.8 L867.2,1404.6 L868.1,1404.0 L869.0,1403.5 L869.9,1401.9 L870.8,1402.6 L871.8,1402.0 L872.7,1400.8 L873.6,1399.4 L874.5,1399.8 L875.4,1398.7 L876.3,1397.9 L877.3,1398.1 L878.2,1399.7 L879.1,1397.8 L880.0,1398.9 L880.9,1399.9 L881.8,1401.3 L882.8,1401.3 L883.7,1402.3 L884.6,1404.3 L885.5,1404.9 L886.4,1406.2 L887.3,1405.6 L888.3,1406.7 L889.2,1407.8 L890.1,1407.8 L891.0,1407.5 L891.9,1408.5 L892.8,1407.6 L893.8,1408.5 L894.7,1409.5 L895.6,1409.7 L896.5,1409.6 L897.4,1409.9 L898.4,1408.8 L899.3,1409.3 L900.2,1410.4 L901.1,1411.1 L902.0,1410.2 L902.9,1409.5 L903.9,1409.5 L904.8,1410.7 L905.7,1410.7 L906.6,1409.5 L907.5,1410.2 L908.4,1411.0 L909.4,1411.0 L910.3,1410.0 L911.2,1410.2 L912.1,1410.6 L913.0,1409.7 L913.9,1409.4 L914.9,1410.0 L915.8,1411.0 L916.7,1411.0 L917.6,1410.7 L918.5,1409.8 L919.4,1409.4 L920.4,1409.9 L921.3,1410.5 L922.2,1411.0 L923.1,1410.0 L924.0,1410.5 L924.9,1409.5 L925.9,1409.3 L926.8,1410.5 L927.7,1409.9 L928.6,1409.9 L929.5,1409.3 L930.4,1411.0 L931.4,1409.5 L932.3,1410.5 L933.2,1409.7 L934.1,1410.3 L935.0,1411.3 L935.9,1410.7 L936.9,1410.6 L937.8,1411.1 L938.7,1410.9 L939.6,1411.3 L940.5,1409.8 L941.4,1411.3 L942.4,1410.6 L943.3,1410.0 L944.2,1410.9 L945.1,1410.9 L946.0,1410.6 L947.0,1411.1 L947.9,1409.9 L948.8,1409.7 L949.7,1410.3 L950.6,1411.3 L951.5,1411.0 L952.5,1410.7 L953.4,1410.3 L954.3,1410.7 L955.2,1411.3 L956.1,1410.4 L957.0,1410.4 L958.0,1410.9 L958.9,1411.1 L959.8,1410.8 L960.7,1411.5 L961.6,1410.8 L962.5,1410.2 L963.5,1409.5 L964.4,1411.4 L965.3,1410.7 L966.2,1410.9 L967.1,1411.0 L968.0,1411.5 L969.0,1411.3 L969.9,1411.3 L970.8,1410.9 L971.7,1410.7 L972.6,1410.9 L973.5,1410.4 L974.5,1411.0 L975.4,1411.4 L976.3,1411.2 L977.2,1410.9 L978.1,1410.3 L979.0,1410.3 L980.0,1410.4 L980.9,1410.6 L981.8,1411.1 L982.7,1411.1 L983.6,1411.2 L984.5,1411.4 L985.5,1410.3 L986.4,1410.7 L987.3,1411.1 L988.2,1411.3 L989.1,1410.5 L990.1,1410.5 L991.0,1411.5 L991.9,1411.2 L992.8,1411.1 L993.7,1410.7 L994.6,1410.3 L995.6,1410.8 L996.5,1411.0 L997.4,1411.1 L998.3,1411.3 L999.2,1410.9 L1000.1,1411.6 L1001.1,1410.7 L1002.0,1411.1 L1002.9,1410.9 L1003.8,1409.9 L1004.7,1410.2 L1005.6,1410.6 L1006.6,1411.0 L1007.5,1411.1 L1008.4,1411.6 L1009.3,1410.9 L1010.2,1410.7 L1011.1,1411.1 L1012.1,1410.2 L1013.0,1410.8 L1013.9,1410.3 L1014.8,1410.9 L1015.7,1410.5 L1016.6,1410.7 L1017.6,1411.9 L1018.5,1411.5 L1019.4,1412.3 L1020.3,1411.0 L1021.2,1410.8 L1022.1,1410.5 L1023.1,1410.9 L1024.0,1409.9 L1024.9,1411.0 L1025.8,1410.6 L1026.7,1410.2 L1027.6,1409.9 L1028.6,1410.4 L1029.5,1410.7 L1030.4,1410.9 L1031.3,1410.0 L1032.2,1410.9 L1033.1,1411.1 L1034.1,1412.1 L1035.0,1411.1 L1035.9,1411.4 L1036.8,1410.5 L1037.7,1410.9 L1038.7,1410.5 L1039.6,1410.5 L1040.5,1411.2 L1041.4,1410.8 L1042.3,1411.7 L1043.2,1410.9 L1044.2,1411.2 L1045.1,1410.3 L1046.0,1410.4 L1046.9,1411.3 L1047.8,1410.6 L1048.7,1411.6 L1049.7,1410.5 L1050.6,1410.4 L1051.5,1412.0 L1052.4,1410.0 L1053.3,1410.7 L1054.2,1411.2 L1055.2,1411.3 L1056.1,1410.3 L1057.0,1412.1 L1057.9,1410.7 L1058.8,1409.9 L1059.7,1411.4 L1060.7,1410.7 L1061.6,1411.0 L1062.5,1411.4 L1063.4,1410.4 L1064.3,1410.5 L1065.2,1410.9 L1066.2,1411.4 L1067.1,1410.2 L1068.0,1411.7 L1068.9,1411.1 L1069.8,1410.3 L1070.7,1411.0 L1071.7,1411.2 L1072.6,1411.6 L1073.5,1411.4 L1074.4,1411.5 L1075.3,1410.8 L1076.2,1411.3 L1077.2,1409.5 L1078.1,1411.5 L1079.0,1410.9 L1079.9,1411.8 L1080.8,1410.6 L1081.8,1410.7 L1082.7,1410.9 L1083.6,1411.4 L1084.5,1411.1 L1085.4,1411.5 L1086.3,1410.9 L1087.3,1411.5 L1088.2,1412.4 L1089.1,1411.6 L1090.0,1411.2 L1090.9,1410.1 L1091.8,1411.2 L1092.8,1411.5 L1093.7,1410.8 L1094.6,1411.5 L1095.5,1409.7 L1096.4,1410.5 L1097.3,1410.4 L1098.3,1411.2 L1099.2,1410.4 L1100.1,1410.3 L1101.0,1411.6 L1101.9,1410.0 L1102.8,1411.1 L1103.8,1411.4 L1104.7,1410.7 L1105.6,1410.3 L1106.5,1410.7 L1107.4,1410.5 L1108.3,1410.3 L1109.3,1410.9 L1110.2,1410.7 L1111.1,1412.4 L1112.0,1411.4 L1112.9,1410.8 L1113.8,1411.0 L1114.8,1411.6 L1115.7,1411.3 L1116.6,1410.6 L1117.5,1410.2 L1118.4,1411.5 L1119.3,1410.5 L1120.3,1410.6 L1121.2,1411.2 L1122.1,1410.5 L1123.0,1411.1 L1123.9,1410.2 L1124.8,1410.4 L1125.8,1410.1 L1126.7,1411.3 L1127.6,1409.3 L1128.5,1409.9 L1129.4,1409.5 L1130.4,1409.5 L1131.3,1409.0 L1132.2,1409.2 L1133.1,1410.1 L1134.0,1410.0 L1134.9,1408.6 L1135.9,1408.0 L1136.8,1408.0 L1137.7,1408.6 L1138.6,1407.1 L1139.5,1405.1 L1140.4,1405.8 L1141.4,1404.0 L1142.3,1403.0 L1143.2,1401.3 L1144.1,1398.6 L1145.0,1397.9 L1145.9,1395.7 L1146.9,1393.0 L1147.8,1390.4 L1148.7,1389.6 L1149.6,1388.8 L1150.5,1389.6 L1151.4,1389.4 L1152.4,1390.4 L1153.3,1392.0 L1154.2,1393.1 L1155.1,1394.9 L1156.0,1395.9 L1156.9,1397.1 L1157.9,1396.4 L1158.8,1397.3 L1159.7,1396.7 L1160.6,1397.4 L1161.5,1396.1 L1162.4,1394.0 L1163.4,1393.7 L1164.3,1391.3 L1165.2,1391.1 L1166.1,1391.5 L1167.0,1392.3 L1167.9,1392.5 L1168.9,1394.6 L1169.8,1396.9 L1170.7,1397.1 L1171.6,1399.0 L1172.5,1400.3 L1173.5,1403.5 L1174.4,1403.7 L1175.3,1405.2 L1176.2,1405.9 L1177.1,1407.1 L1178.0,1407.6 L1179.0,1408.4 L1179.9,1408.8 L1180.8,1409.9 L1181.7,1408.8 L1182.6,1409.6 L1183.5,1409.6 L1184.5,1409.3 L1185.4,1410.4 L1186.3,1411.0 L1187.2,1409.5 L1188.1,1411.5 L1189.0,1410.2 L1190.0,1410.3 L1190.9,1408.9 L1191.8,1410.4 L1192.7,1410.4 L1193.6,1410.4 L1194.5,1410.9 L1195.5,1410.5 L1196.4,1410.8 L1197.3,1410.3 L1198.2,1410.0 L1199.1,1410.7 L1200.0,1411.0 L1201.0,1411.1 L1201.9,1410.8 L1202.8,1410.4 L1203.7,1410.8 L1204.6,1410.7 L1205.5,1410.1 L1206.5,1411.0 L1207.4,1410.8 L1208.3,1410.3 L1209.2,1410.7 L1210.1,1411.2 L1211.0,1411.7 L1212.0,1409.9 L1212.9,1410.7 L1213.8,1411.2 L1214.7,1411.6 L1215.6,1411.2 L1216.5,1410.4 L1217.5,1410.7 L1218.4,1411.0 L1219.3,1410.5 L1220.2,1410.4 L1221.1,1410.3 L1222.1,1412.4 L1223.0,1411.0 L1223.9,1410.9 L1224.8,1411.4 L1225.7,1411.0 L1226.6,1410.9 L1227.6,1411.2 L1228.5,1410.6 L1229.4,1410.8 L1230.3,1411.5 L1231.2,1411.4 L1232.1,1410.5 L1233.1,1411.9 L1234.0,1410.8 L1234.9,1410.2 L1235.8,1411.5 L1236.7,1411.4 L1237.6,1411.2 L1238.6,1410.5 L1239.5,1411.7 L1240.4,1411.4 L1241.3,1411.3 L1242.2,1411.2 L1243.1,1411.3 L1244.1,1412.3 L1245.0,1410.8 L1245.9,1411.2 L1246.8,1411.7 L1247.7,1411.5 L1248.6,1410.6 L1249.6,1411.0 L1250.5,1410.9 L1251.4,1410.3 L1252.3,1410.9 L1253.2,1411.6 L1254.1,1411.2 L1255.1,1411.6 L1256.0,1411.2 L1256.9,1410.6 L1257.8,1411.3 L1258.7,1410.0 L1259.6,1411.6 L1260.6,1410.7 L1261.5,1411.7 L1262.4,1410.0 L1263.3,1410.1 L1264.2,1410.3 L1265.2,1410.3 L1266.1,1409.4 L1267.0,1409.3 L1267.9,1410.0 L1268.8,1408.9 L1269.7,1409.5 L1270.7,1409.4 L1271.6,1407.2 L1272.5,1407.2 L1273.4,1407.9 L1274.3,1407.1 L1275.2,1405.5 L1276.2,1406.3 L1277.1,1407.1 L1278.0,1405.3 L1278.9,1407.1 L1279.8,1408.0 L1280.7,1407.6 L1281.7,1408.0 L1282.6,1409.2 L1283.5,1408.3 L1284.4,1409.7 L1285.3,1410.3 L1286.2,1409.8 L1287.2,1409.0 L1288.1,1410.8 L1289.0,1409.8 L1289.9,1410.1 L1290.8,1409.1 L1291.7,1409.4 L1292.7,1409.8 L1293.6,1408.2 L1294.5,1408.0 L1295.4,1407.3 L1296.3,1408.4 L1297.2,1408.1 L1298.2,1407.2 L1299.1,1407.6 L1300.0,1407.3 L1300.9,1408.3 L1301.8,1406.5 L1302.7,1407.4 L1303.7,1407.2 L1304.6,1408.7 L1305.5,1408.2 L1306.4,1407.6 L1307.3,1408.8 L1308.2,1408.8 L1309.2,1408.6 L1310.1,1409.7 L1311.0,1409.8 L1311.9,1409.3 L1312.8,1409.9 L1313.8,1410.9 L1314.7,1411.0 L1315.6,1410.5 L1316.5,1410.5 L1317.4,1410.9 L1318.3,1410.8 L1319.3,1410.2 L1320.2,1411.3 L1321.1,1410.5 L1322.0,1411.8 L1322.9,1411.4 L1323.8,1411.5 L1324.8,1410.9 L1325.7,1411.2 L1326.6,1410.8 L1327.5,1410.9 L1328.4,1410.6 L1329.3,1411.9 L1330.3,1410.5 L1331.2,1412.1 L1332.1,1411.6 L1333.0,1410.7 L1333.9,1411.9 L1334.8,1411.4 L1335.8,1410.8 L1336.7,1411.4 L1337.6,1411.0 L1338.5,1410.8 L1339.4,1411.2 L1340.3,1411.4 L1341.3,1411.1 L1342.2,1411.2 L1343.1,1411.7 L1344.0,1411.2 L1344.9,1411.0 L1345.8,1410.5 L1346.8,1411.2 L1347.7,1411.0 L1348.6,1411.1 L1349.5,1411.7 L1350.4,1411.7 L1351.3,1411.3 L1352.3,1411.0 L1353.2,1411.4 L1354.1,1411.5 L1355.0,1411.4 L1355.9,1410.5 L1356.9,1411.5 L1357.8,1410.7 L1358.7,1411.4 L1359.6,1411.5 L1360.5,1411.4 L1361.4,1411.9 L1362.4,1411.3 L1363.3,1411.4 L1364.2,1410.8 L1365.1,1411.2 L1366.0,1411.1 L1366.9,1411.3 L1367.9,1411.2 L1368.8,1410.0 L1369.7,1411.7 L1370.6,1411.6 L1371.5,1410.1 L1372.4,1411.4 L1373.4,1411.8 L1374.3,1411.6 L1375.2,1411.6 L1376.1,1411.1 L1377.0,1410.9 L1377.9,1412.2 L1378.9,1411.4 L1379.8,1412.1 L1380.7,1411.1 L1381.6,1411.7 L1382.5,1411.6 L1383.4,1411.6 L1384.4,1410.4 L1385.3,1412.4 L1386.2,1411.2 L1387.1,1410.9 L1388.0,1411.2 L1388.9,1410.0 L1389.9,1411.7 L1390.8,1410.7 L1391.7,1411.0 L1392.6,1410.9 L1393.5,1409.8 L1394.4,1410.6 L1395.4,1411.4 L1396.3,1410.2 L1397.2,1410.6 L1398.1,1410.9 L1399.0,1411.1 L1399.9,1409.6 L1400.9,1410.4 L1401.8,1410.0 L1402.7,1409.5 L1403.6,1409.3 L1404.5,1408.4 L1405.5,1406.5 L1406.4,1406.0 L1407.3,1403.8 L1408.2,1402.1 L1409.1,1399.2 L1410.0,1397.5 L1411.0,1394.8 L1411.9,1393.0 L1412.8,1392.3 L1413.7,1394.5 L1414.6,1396.1 L1415.5,1398.9 L1416.5,1401.0 L1417.4,1404.5 L1418.3,1405.5 L1419.2,1407.5 L1420.1,1408.6 L1421.0,1409.2 L1422.0,1408.9 L1422.9,1410.3 L1423.8,1410.4 L1424.7,1409.3 L1425.6,1410.3 L1426.5,1409.8 L1427.5,1410.3 L1428.4,1411.1 L1429.3,1410.6 L1430.2,1411.4 L1431.1,1410.9 L1432.0,1411.0 L1433.0,1411.5 L1433.9,1411.3 L1434.8,1411.0 L1435.7,1411.3 L1436.6,1411.3 L1437.5,1409.8 L1438.5,1410.0 L1439.4,1410.5 L1440.3,1411.0 L1441.2,1409.9 L1442.1,1409.3 L1443.0,1410.1 L1444.0,1409.7 L1444.9,1410.6 L1445.8,1408.3 L1446.7,1409.7 L1447.6,1409.2 L1448.6,1406.9 L1449.5,1407.0 L1450.4,1406.3 L1451.3,1405.2 L1452.2,1403.1 L1453.1,1401.0 L1454.1,1398.0 L1455.0,1394.4 L1455.9,1392.9 L1456.8,1390.5 L1457.7,1389.8 L1458.6,1392.3 L1459.6,1394.7 L1460.5,1397.6 L1461.4,1400.4 L1462.3,1402.3 L1463.2,1404.6 L1464.1,1405.8 L1465.1,1406.5 L1466.0,1408.6 L1466.9,1409.1 L1467.8,1409.2 L1468.7,1409.0 L1469.6,1409.4 L1470.6,1410.9 L1471.5,1409.7 L1472.4,1410.8 L1473.3,1410.6 L1474.2,1410.8 L1475.1,1410.4 L1476.1,1410.6 L1477.0,1410.7 L1477.9,1410.2 L1478.8,1411.6 L1479.7,1410.4 L1480.6,1411.0 L1481.6,1411.9 L1482.5,1411.7 L1483.4,1410.6 L1484.3,1411.3 L1485.2,1411.5 L1486.1,1409.9 L1487.1,1412.1 L1488.0,1411.3 L1488.9,1410.9 L1489.8,1411.0 L1490.7,1409.8 L1491.6,1411.4 L1492.6,1411.9 L1493.5,1410.9 L1494.4,1411.9 L1495.3,1411.4 L1496.2,1410.3 L1497.2,1411.3 L1498.1,1409.9 L1499.0,1409.9 L1499.9,1411.3 L1500.8,1411.2 L1501.7,1410.9 L1502.7,1410.8 L1503.6,1410.0 L1504.5,1411.4 L1505.4,1410.8 L1506.3,1410.7 L1507.2,1412.7 L1508.2,1410.8 L1509.1,1410.6 L1510.0,1411.7 L1510.9,1410.7 L1511.8,1410.2 L1512.7,1411.2 L1513.7,1410.2 L1514.6,1409.8 L1515.5,1409.9 L1516.4,1410.0 L1517.3,1410.4 L1518.2,1410.4 L1519.2,1408.8 L1520.1,1410.0 L1521.0,1408.7 L1521.9,1408.4 L1522.8,1406.9 L1523.7,1408.7 L1524.7,1407.4 L1525.6,1405.9 L1526.5,1404.3 L1527.4,1402.5 L1528.3,1398.2 L1529.2,1391.3 L1530.2,1386.1 L1531.1,1377.3 L1532.0,1367.9 L1532.9,1359.0 L1533.8,1353.9 L1534.7,1352.9 L1535.7,1359.9 L1536.6,1367.3 L1537.5,1376.0 L1538.4,1384.9 L1539.3,1390.6 L1540.3,1396.3 L1541.2,1399.2 L1542.1,1401.0 L1543.0,1402.9 L1543.9,1402.9 L1544.8,1401.9 L1545.8,1401.3 L1546.7,1400.7 L1547.6,1400.2 L1548.5,1397.0 L1549.4,1394.9 L1550.3,1393.0 L1551.3,1389.8 L1552.2,1388.7 L1553.1,1388.1 L1554.0,1387.9 L1554.9,1388.9 L1555.8,1389.8 L1556.8,1392.7 L1557.7,1395.7 L1558.6,1398.5 L1559.5,1399.3 L1560.4,1399.9 L1561.3,1401.0 L1562.3,1401.8 L1563.2,1403.3 L1564.1,1401.2 L1565.0,1401.3 L1565.9,1399.5 L1566.8,1398.8 L1567.8,1397.1 L1568.7,1395.8 L1569.6,1393.6 L1570.5,1391.1 L1571.4,1389.2 L1572.3,1388.2 L1573.3,1389.4 L1574.2,1389.6 L1575.1,1391.0 L1576.0,1393.6 L1576.9,1396.4 L1577.8,1398.3 L1578.8,1400.0 L1579.7,1403.2 L1580.6,1403.8 L1581.5,1405.4 L1582.4,1406.5 L1583.3,1407.1 L1584.3,1407.8 L1585.2,1407.0 L1586.1,1408.8 L1587.0,1409.0 L1587.9,1409.2 L1588.9,1409.6 L1589.8,1411.0 L1590.7,1410.9 L1591.6,1410.5 L1592.5,1411.1 L1593.4,1410.1 L1594.4,1410.4 L1595.3,1410.8 L1596.2,1411.1 L1597.1,1411.1 L1598.0,1411.8 L1598.9,1410.7 L1599.9,1411.6 L1600.8,1410.6 L1601.7,1411.3 L1602.6,1410.4 L1603.5,1411.7 L1604.4,1410.8 L1605.4,1411.8 L1606.3,1410.1 L1607.2,1412.2 L1608.1,1411.2 L1609.0,1411.4 L1609.9,1411.4 L1610.9,1410.3 L1611.8,1410.9 L1612.7,1410.9 L1613.6,1411.2 L1614.5,1410.4 L1615.4,1411.0 L1616.4,1411.4 L1617.3,1412.0 L1618.2,1411.8 L1619.1,1410.7 L1620.0,1411.9 L1620.9,1412.3 L1621.9,1411.8 L1622.8,1411.2 L1623.7,1410.9 L1624.6,1411.2 L1625.5,1412.3 L1626.4,1410.9 L1627.4,1410.1 L1628.3,1412.0 L1629.2,1411.1 L1630.1,1411.4 L1631.0,1411.3 L1632.0,1412.1 L1632.9,1411.3 L1633.8,1411.1 L1634.7,1411.1 L1635.6,1412.5 L1636.5,1412.3 L1637.5,1411.3 L1638.4,1411.2 L1639.3,1411.5 L1640.2,1411.8 L1641.1,1411.1 L1642.0,1412.4 L1643.0,1411.7 L1643.9,1410.1 L1644.8,1410.9 L1645.7,1411.4 L1646.6,1412.9 L1647.5,1412.4 L1648.5,1411.6 L1649.4,1410.9 L1650.3,1411.5 L1651.2,1411.5 L1652.1,1411.2 L1653.0,1411.6 L1654.0,1411.9 L1654.9,1411.2 L1655.8,1410.8 L1656.7,1411.5 L1657.6,1410.6 L1658.5,1411.2 L1659.5,1412.1 L1660.4,1411.5 L1661.3,1410.7 L1662.2,1411.3 L1663.1,1411.2 L1664.0,1411.4 L1665.0,1411.9 L1665.9,1411.0 L1666.8,1410.6 L1667.7,1412.1 L1668.6,1410.7 L1669.5,1411.5 L1670.5,1411.4 L1671.4,1411.0 L1672.3,1411.4 L1673.2,1411.2 L1674.1,1411.1 L1675.0,1411.4 L1676.0,1410.5 L1676.9,1411.4 L1677.8,1410.3 L1678.7,1411.3 L1679.6,1411.4 L1680.6,1410.1 L1681.5,1411.5 L1682.4,1409.9 L1683.3,1410.0 L1684.2,1409.4 L1685.1,1409.4 L1686.1,1409.2 L1687.0,1408.4 L1687.9,1408.6 L1688.8,1406.8 L1689.7,1406.3 L1690.6,1404.0 L1691.6,1402.3 L1692.5,1400.7 L1693.4,1398.4 L1694.3,1395.5 L1695.2,1393.7 L1696.1,1392.5 L1697.1,1391.8 L1698.0,1393.5 L1698.9,1395.1 L1699.8,1397.4 L1700.7,1400.1 L1701.6,1402.5 L1702.6,1405.0 L1703.5,1406.1 L1704.4,1406.9 L1705.3,1406.5 L1706.2,1407.8 L1707.1,1409.0 L1708.1,1409.3 L1709.0,1409.2 L1709.9,1408.7 L1710.8,1408.3 L1711.7,1408.5 L1712.6,1409.5 L1713.6,1409.6 L1714.5,1410.3 L1715.4,1408.8 L1716.3,1409.1 L1717.2,1408.2 L1718.1,1408.1 L1719.1,1407.7 L1720.0,1406.5 L1720.9,1406.5 L1721.8,1403.7 L1722.7,1403.0 L1723.7,1400.4 L1724.6,1397.8 L1725.5,1396.2 L1726.4,1393.2 L1727.3,1392.4 L1728.2,1392.3 L1729.2,1393.9 L1730.1,1395.0 L1731.0,1398.2 L1731.9,1400.7 L1732.8,1402.1 L1733.7,1403.7 L1734.7,1405.1 L1735.6,1406.7 L1736.5,1407.0 L1737.4,1408.3 L1738.3,1408.4 L1739.2,1408.6 L1740.2,1408.8 L1741.1,1409.0 L1742.0,1409.1 L1742.9,1409.3 L1743.8,1409.5 L1744.7,1409.0 L1745.7,1408.8 L1746.6,1409.1 L1747.5,1408.6 L1748.4,1407.1 L1749.3,1405.6 L1750.2,1405.6 L1751.2,1403.0 L1752.1,1401.2 L1753.0,1398.9 L1753.9,1396.8 L1754.8,1393.4 L1755.7,1392.7 L1756.7,1392.9 L1757.6,1394.3 L1758.5,1394.8 L1759.4,1397.1 L1760.3,1399.5 L1761.2,1400.8 L1762.2,1402.3 L1763.1,1404.5 L1764.0,1406.0 L1764.9,1406.2 L1765.8,1406.9 L1766.7,1407.0 L1767.7,1407.2 L1768.6,1407.0 L1769.5,1407.9 L1770.4,1407.8 L1771.3,1407.1 L1772.3,1407.2 L1773.2,1407.2 L1774.1,1407.3 L1775.0,1407.6 L1775.9,1407.2 L1776.8,1406.0 L1777.8,1405.9 L1778.7,1405.3 L1779.6,1405.6 L1780.5,1405.5 L1781.4,1403.7 L1782.3,1404.4 L1783.3,1404.8 L1784.2,1402.9 L1785.1,1404.3 L1786.0,1403.8 L1786.9,1402.6 L1787.8,1402.1 L1788.8,1403.4 L1789.7,1402.0 L1790.6,1401.3 L1791.5,1401.8 L1792.4,1400.8 L1793.3,1400.9 L1794.3,1402.2 L1795.2,1400.8 L1796.1,1400.7 L1797.0,1399.6 L1797.9,1399.6 L1798.8,1400.1 L1799.8,1399.0 L1800.7,1398.3 L1801.6,1396.9 L1802.5,1394.6 L1803.4,1391.8 L1804.3,1387.7 L1805.3,1385.7 L1806.2,1380.8 L1807.1,1377.4 L1808.0,1371.2 L1808.9,1367.4 L1809.8,1365.0 L1810.8,1364.9 L1811.7,1368.2 L1812.6,1372.8 L1813.5,1378.0 L1814.4,1382.9 L1815.4,1387.5 L1816.3,1392.9 L1817.2,1396.4 L1818.1,1398.4 L1819.0,1400.4 L1819.9,1402.5 L1820.9,1404.0 L1821.8,1406.0 L1822.7,1405.9 L1823.6,1407.2 L1824.5,1407.0 L1825.4,1408.0 L1826.4,1409.9 L1827.3,1408.5 L1828.2,1409.3 L1829.1,1409.1 L1830.0,1410.2 L1830.9,1410.0 L1831.9,1410.0 L1832.8,1410.9 L1833.7,1410.7 L1834.6,1410.8 L1835.5,1409.9 L1836.4,1410.1 L1837.4,1411.5 L1838.3,1410.2 L1839.2,1411.8 L1840.1,1411.8 L1841.0,1410.9 L1841.9,1410.6 L1842.9,1410.4 L1843.8,1411.6 L1844.7,1411.5 L1845.6,1410.8 L1846.5,1410.7 L1847.4,1411.6 L1848.4,1411.0 L1849.3,1411.3 L1850.2,1410.5 L1851.1,1411.6 L1852.0,1411.5 L1852.9,1411.2 L1853.9,1410.8 L1854.8,1411.5 L1855.7,1411.7 L1856.6,1411.8 L1857.5,1411.6 L1858.4,1411.2 L1859.4,1412.0 L1860.3,1412.2 L1861.2,1411.3 L1862.1,1411.0 L1863.0,1412.5 L1864.0,1411.8 L1864.9,1410.6 L1865.8,1412.1 L1866.7,1411.8 L1867.6,1411.3 L1868.5,1411.8 L1869.5,1411.1 L1870.4,1411.3 L1871.3,1410.8 L1872.2,1412.4 L1873.1,1411.5 L1874.0,1411.9 L1875.0,1411.9 L1875.9,1410.3 L1876.8,1411.8 L1877.7,1411.1 L1878.6,1412.4 L1879.5,1411.1 L1880.5,1412.2 L1881.4,1412.7 L1882.3,1411.9 L1883.2,1412.4 L1884.1,1412.5 L1885.0,1411.9 L1886.0,1411.7 L1886.9,1411.0 L1887.8,1412.8 L1888.7,1412.4 L1889.6,1412.2 L1890.5,1410.9 L1891.5,1412.5 L1892.4,1411.6 L1893.3,1412.0 L1894.2,1412.1 L1895.1,1412.5 L1896.0,1411.7 L1897.0,1411.5 L1897.9,1412.2 L1898.8,1412.0 L1899.7,1411.6 L1900.6,1413.1 L1901.5,1412.5 L1902.5,1411.0 L1903.4,1410.7 L1904.3,1410.9 L1905.2,1411.7 L1906.1,1412.2 L1907.1,1412.9 L1908.0,1412.0 L1908.9,1411.6 L1909.8,1412.0 L1910.7,1412.0 L1911.6,1411.4 L1912.6,1412.0 L1913.5,1410.9 L1914.4,1411.7 L1915.3,1412.2 L1916.2,1411.8 L1917.1,1412.2 L1918.1,1412.5 L1919.0,1412.3 L1919.9,1412.3 L1920.8,1412.3 L1921.7,1411.9 L1922.6,1412.5 L1923.6,1412.1 L1924.5,1411.5 L1925.4,1412.5 L1926.3,1412.0 L1927.2,1410.3 L1928.1,1412.9 L1929.1,1412.0 L1930.0,1411.6 L1930.9,1412.4 L1931.8,1412.2 L1932.7,1412.1 L1933.6,1413.0 L1934.6,1412.6 L1935.5,1411.9 L1936.4,1411.7 L1937.3,1411.3 L1938.2,1412.3 L1939.1,1412.1 L1940.1,1412.6 L1941.0,1412.1 L1941.9,1412.4 L1942.8,1412.7 L1943.7,1411.7 L1944.6,1411.5 L1945.6,1412.0 L1946.5,1411.3 L1947.4,1411.9 L1948.3,1411.8 L1949.2,1412.7 L1950.1,1411.8 L1951.1,1412.6 L1952.0,1411.7 L1952.9,1411.9 L1953.8,1411.6 L1954.7,1411.8 L1955.7,1411.5 L1956.6,1411.2 L1957.5,1411.1 L1958.4,1412.2 L1959.3,1411.8 L1960.2,1412.5 L1961.2,1412.4 L1962.1,1411.0 L1963.0,1412.5 L1963.9,1411.2 L1964.8,1410.5 L1965.7,1410.6 L1966.7,1410.9 L1967.6,1409.8 L1968.5,1411.3 L1969.4,1410.7 L1970.3,1411.1 L1971.2,1410.8 L1972.2,1410.6 L1973.1,1410.7 L1974.0,1410.5 L1974.9,1409.3 L1975.8,1410.7 L1976.7,1409.4 L1977.7,1409.5 L1978.6,1409.6 L1979.5,1408.6 L1980.4,1408.5 L1981.3,1407.5 L1982.2,1408.6 L1983.2,1408.3 L1984.1,1407.5 L1985.0,1407.0 L1985.9,1405.8 L1986.8,1407.2 L1987.7,1406.2 L1988.7,1406.2 L1989.6,1406.0 L1990.5,1405.8 L1991.4,1405.9 L1992.3,1406.0 L1993.2,1405.6 L1994.2,1404.8 L1995.1,1405.3 L1996.0,1405.3"/>
<path stroke="#780508" d="M162.0,1651.1 L162.9,1651.2 L163.8,1650.9 L164.8,1650.6 L165.7,1650.8 L166.6,1650.5 L167.5,1651.1 L168.4,1651.8 L169.3,1650.8 L170.3,1650.8 L171.2,1651.4 L172.1,1651.3 L173.0,1651.2 L173.9,1650.6 L174.8,1651.1 L175.8,1651.5 L176.7,1650.4 L177.6,1650.9 L178.5,1650.1 L179.4,1650.4 L180.3,1650.1 L181.3,1651.0 L182.2,1650.4 L183.1,1651.3 L184.0,1651.2 L184.9,1651.0 L185.8,1649.8 L186.8,1650.9 L187.7,1651.1 L188.6,1651.2 L189.5,1650.3 L190.4,1650.9 L191.3,1650.6 L192.3,1650.7 L193.2,1651.8 L194.1,1650.7 L195.0,1651.2 L195.9,1651.7 L196.8,1650.9 L197.8,1651.1 L198.7,1651.2 L199.6,1651.2 L200.5,1650.5 L201.4,1651.2 L202.3,1651.9 L203.3,1650.3 L204.2,1651.7 L205.1,1651.3 L206.0,1650.8 L206.9,1652.3 L207.8,1651.6 L208.8,1650.5 L209.7,1651.2 L210.6,1651.5 L211.5,1651.1 L212.4,1651.6 L213.4,1651.2 L214.3,1651.6 L215.2,1652.0 L216.1,1650.8 L217.0,1651.3 L217.9,1650.9 L218.9,1651.3 L219.8,1650.5 L220.7,1650.9 L221.6,1651.1 L222.5,1651.7 L223.4,1651.8 L224.4,1650.5 L225.3,1650.7 L226.2,1651.5 L227.1,1650.1 L228.0,1650.9 L228.9,1651.1 L229.9,1651.9 L230.8,1651.5 L231.7,1651.0 L232.6,1651.0 L233.5,1651.0 L234.4,1652.0 L235.4,1650.9 L236.3,1651.0 L237.2,1651.3 L238.1,1651.1 L239.0,1651.0 L239.9,1650.5 L240.9,1651.1 L241.8,1650.9 L242.7,1651.7 L243.6,1651.4 L244.5,1651.1 L245.4,1651.4 L246.4,1650.9 L247.3,1651.6 L248.2,1651.0 L249.1,1651.3 L250.0,1650.3 L250.9,1651.2 L251.9,1650.0 L252.8,1649.8 L253.7,1650.8 L254.6,1650.4 L255.5,1651.0 L256.5,1652.1 L257.4,1650.4 L258.3,1650.5 L259.2,1650.9 L260.1,1651.0 L261.0,1650.6 L262.0,1650.6 L262.9,1651.1 L263.8,1650.9 L264.7,1650.0 L265.6,1650.5 L266.5,1650.5 L267.5,1649.9 L268.4,1650.6 L269.3,1649.9 L270.2,1650.9 L271.1,1650.4 L272.0,1650.2 L273.0,1649.8 L273.9,1650.0 L274.8,1648.9 L275.7,1649.3 L276.6,1650.0 L277.5,1648.5 L278.5,1650.0 L279.4,1648.5 L280.3,1649.7 L281.2,1648.7 L282.1,1649.4 L283.0,1648.9 L284.0,1647.8 L284.9,1649.1 L285.8,1648.9 L286.7,1647.8 L287.6,1647.4 L288.5,1647.1 L289.5,1646.3 L290.4,1646.9 L291.3,1645.5 L292.2,1645.1 L293.1,1644.0 L294.0,1643.2 L295.0,1641.7 L295.9,1641.8 L296.8,1639.1 L297.7,1637.1 L298.6,1632.6 L299.5,1626.2 L300.5,1617.3 L301.4,1603.8 L302.3,1585.5 L303.2,1560.9 L304.1,1531.6 L305.1,1499.0 L306.0,1469.4 L306.9,1449.8 L307.8,1443.7 L308.7,1456.5 L309.6,1483.3 L310.6,1515.1 L311.5,1544.0 L312.4,1571.1 L313.3,1591.7 L314.2,1606.3 L315.1,1617.9 L316.1,1623.9 L317.0,1627.5 L317.9,1628.7 L318.8,1629.3 L319.7,1627.0 L320.6,1623.4 L321.6,1616.2 L322.5,1605.7 L323.4,1591.8 L324.3,1570.1 L325.2,1544.9 L326.1,1515.9 L327.1,1487.3 L328.0,1465.5 L328.9,1457.9 L329.8,1466.0 L330.7,1488.3 L331.6,1517.1 L332.6,1547.1 L333.5,1573.0 L334.4,1594.0 L335.3,1609.4 L336.2,1620.2 L337.1,1629.0 L338.1,1633.9 L339.0,1636.5 L339.9,1639.0 L340.8,1640.6 L341.7,1641.6 L342.6,1642.4 L343.6,1642.2 L344.5,1643.7 L345.4,1642.4 L346.3,1643.7 L347.2,1643.5 L348.2,1643.6 L349.1,1643.9 L350.0,1643.4 L350.9,1641.4 L351.8,1640.3 L352.7,1640.6 L353.7,1638.2 L354.6,1636.5 L355.5,1633.6 L356.4,1627.0 L357.3,1618.6 L358.2,1607.8 L359.2,1590.4 L360.1,1567.3 L361.0,1539.1 L361.9,1506.7 L362.8,1475.1 L363.7,1451.9 L364.7,1442.3 L365.6,1451.2 L366.5,1476.5 L367.4,1507.6 L368.3,1539.8 L369.2,1567.6 L370.2,1590.9 L371.1,1608.1 L372.0,1620.5 L372.9,1629.4 L373.8,1634.3 L374.7,1638.5 L375.7,1640.9 L376.6,1643.5 L377.5,1642.9 L378.4,1645.2 L379.3,1645.5 L380.2,1646.2 L381.2,1646.0 L382.1,1647.1 L383.0,1648.2 L383.9,1648.1 L384.8,1648.5 L385.7,1648.6 L386.7,1649.7 L387.6,1649.3 L388.5,1648.3 L389.4,1649.3 L390.3,1648.8 L391.2,1648.2 L392.2,1649.9 L393.1,1651.0 L394.0,1650.5 L394.9,1649.9 L395.8,1650.1 L396.8,1651.4 L397.7,1650.9 L398.6,1650.9 L399.5,1651.0 L400.4,1651.1 L401.3,1651.6 L402.3,1651.5 L403.2,1651.4 L404.1,1650.7 L405.0,1651.6 L405.9,1651.0 L406.8,1652.1 L407.8,1650.8 L408.7,1651.5 L409.6,1651.6 L410.5,1650.9 L411.4,1652.6 L412.3,1652.5 L413.3,1651.5 L414.2,1652.2 L415.1,1652.0 L416.0,1650.4 L416.9,1652.0 L417.8,1651.8 L418.8,1651.9 L419.7,1651.3 L420.6,1651.8 L421.5,1651.9 L422.4,1652.6 L423.3,1652.2 L424.3,1652.0 L425.2,1652.9 L426.1,1651.7 L427.0,1651.9 L427.9,1651.1 L428.8,1653.0 L429.8,1652.6 L430.7,1652.6 L431.6,1652.5 L432.5,1652.2 L433.4,1652.3 L434.3,1652.0 L435.3,1652.1 L436.2,1652.2 L437.1,1653.0 L438.0,1652.5 L438.9,1652.2 L439.9,1651.9 L440.8,1651.8 L441.7,1653.1 L442.6,1652.5 L443.5,1652.2 L444.4,1652.0 L445.4,1651.5 L446.3,1652.1 L447.2,1652.6 L448.1,1651.9 L449.0,1651.9 L449.9,1651.9 L450.9,1652.0 L451.8,1651.0 L452.7,1651.7 L453.6,1651.2 L454.5,1652.1 L455.4,1651.0 L456.4,1651.5 L457.3,1651.8 L458.2,1650.4 L459.1,1649.6 L460.0,1649.0 L460.9,1647.1 L461.9,1643.7 L462.8,1640.0 L463.7,1634.9 L464.6,1626.8 L465.5,1620.7 L466.4,1617.7 L467.4,1621.0 L468.3,1626.3 L469.2,1633.3 L470.1,1640.6 L471.0,1643.8 L471.9,1647.8 L472.9,1649.8 L473.8,1650.2 L474.7,1651.0 L475.6,1652.2 L476.5,1651.3 L477.4,1651.3 L478.4,1651.0 L479.3,1651.9 L480.2,1652.8 L481.1,1652.7 L482.0,1651.7 L482.9,1651.8 L483.9,1652.1 L484.8,1652.6 L485.7,1652.3 L486.6,1652.6 L487.5,1652.7 L488.5,1652.4 L489.4,1652.5 L490.3,1652.7 L491.2,1652.6 L492.1,1652.9 L493.0,1653.7 L494.0,1653.0 L494.9,1652.7 L495.8,1651.8 L496.7,1652.9 L497.6,1651.7 L498.5,1652.0 L499.5,1653.2 L500.4,1653.1 L501.3,1652.7 L502.2,1651.8 L503.1,1652.6 L504.0,1652.4 L505.0,1653.1 L505.9,1654.0 L506.8,1652.9 L507.7,1652.4 L508.6,1652.2 L509.5,1652.8 L510.5,1652.7 L511.4,1652.2 L512.3,1652.9 L513.2,1652.2 L514.1,1653.4 L515.0,1653.4 L516.0,1653.4 L516.9,1652.5 L517.8,1653.0 L518.7,1652.7 L519.6,1652.5 L520.5,1652.5 L521.5,1652.0 L522.4,1651.8 L523.3,1653.0 L524.2,1652.5 L525.1,1652.6 L526.0,1653.0 L527.0,1651.4 L527.9,1651.9 L528.8,1652.3 L529.7,1652.2 L530.6,1651.5 L531.6,1652.0 L532.5,1651.1 L533.4,1649.7 L534.3,1649.1 L535.2,1649.2 L536.1,1648.1 L537.1,1645.8 L538.0,1646.8 L538.9,1645.9 L539.8,1646.3 L540.7,1645.7 L541.6,1646.4 L542.6,1646.8 L543.5,1649.7 L544.4,1648.9 L545.3,1650.5 L546.2,1649.7 L547.1,1650.4 L548.1,1649.5 L549.0,1650.2 L549.9,1650.7 L550.8,1649.2 L551.7,1649.9 L552.6,1648.8 L553.6,1647.0 L554.5,1646.0 L555.4,1644.4 L556.3,1642.7 L557.2,1640.1 L558.1,1637.4 L559.1,1635.0 L560.0,1631.9 L560.9,1629.3 L561.8,1628.2 L562.7,1627.7 L563.6,1626.4 L564.6,1628.1 L565.5,1629.1 L566.4,1630.3 L567.3,1632.6 L568.2,1632.7 L569.1,1634.3 L570.1,1633.1 L571.0,1633.6 L571.9,1632.9 L572.8,1632.6 L573.7,1633.7 L574.6,1634.3 L575.6,1636.2 L576.5,1637.8 L577.4,1639.3 L578.3,1641.9 L579.2,1643.9 L580.2,1646.1 L581.1,1646.5 L582.0,1648.3 L582.9,1648.3 L583.8,1650.4 L584.7,1650.1 L585.7,1650.1 L586.6,1651.5 L587.5,1652.4 L588.4,1651.2 L589.3,1651.6 L590.2,1651.9 L591.2,1651.8 L592.1,1652.8 L593.0,1652.2 L593.9,1652.3 L594.8,1653.1 L595.7,1652.4 L596.7,1653.2 L597.6,1652.4 L598.5,1652.4 L599.4,1652.1 L600.3,1654.1 L601.2,1653.0 L602.2,1653.3 L603.1,1653.2 L604.0,1653.3 L604.9,1653.3 L605.8,1654.4 L606.7,1652.8 L607.7,1652.5 L608.6,1652.8 L609.5,1652.7 L610.4,1653.8 L611.3,1653.9 L612.2,1652.9 L613.2,1652.7 L614.1,1653.3 L615.0,1654.3 L615.9,1652.0 L616.8,1653.9 L617.7,1653.0 L618.7,1654.2 L619.6,1653.0 L620.5,1653.5 L621.4,1652.8 L622.3,1653.1 L623.3,1654.4 L624.2,1654.1 L625.1,1653.4 L626.0,1653.2 L626.9,1652.6 L627.8,1653.5 L628.8,1653.7 L629.7,1653.6 L630.6,1653.6 L631.5,1653.1 L632.4,1653.7 L633.3,1653.7 L634.3,1654.4 L635.2,1654.7 L636.1,1653.6 L637.0,1653.3 L637.9,1653.7 L638.8,1653.4 L639.8,1653.3 L640.7,1653.7 L641.6,1653.2 L642.5,1654.1 L643.4,1653.7 L644.3,1653.9 L645.3,1653.7 L646.2,1653.4 L647.1,1653.2 L648.0,1653.6 L648.9,1653.5 L649.8,1653.9 L650.8,1653.8 L651.7,1653.0 L652.6,1653.8 L653.5,1653.0 L654.4,1653.4 L655.3,1653.6 L656.3,1652.6 L657.2,1653.8 L658.1,1653.9 L659.0,1653.7 L659.9,1653.5 L660.8,1653.6 L661.8,1653.2 L662.7,1653.6 L663.6,1653.5 L664.5,1653.8 L665.4,1653.1 L666.3,1653.9 L667.3,1653.9 L668.2,1653.7 L669.1,1653.5 L670.0,1654.1 L670.9,1652.9 L671.9,1654.0 L672.8,1653.9 L673.7,1653.9 L674.6,1654.0 L675.5,1653.4 L676.4,1653.6 L677.4,1654.1 L678.3,1654.0 L679.2,1653.9 L680.1,1652.9 L681.0,1654.1 L681.9,1654.4 L682.9,1654.3 L683.8,1653.9 L684.7,1652.9 L685.6,1654.3 L686.5,1653.7 L687.4,1652.4 L688.4,1654.0 L689.3,1652.9 L690.2,1653.1 L691.1,1653.4 L692.0,1654.5 L692.9,1653.6 L693.9,1653.9 L694.8,1654.7 L695.7,1654.6 L696.6,1653.7 L697.5,1653.6 L698.4,1653.0 L699.4,1653.4 L700.3,1654.0 L701.2,1653.9 L702.1,1653.8 L703.0,1654.3 L703.9,1653.3 L704.9,1653.7 L705.8,1654.1 L706.7,1654.0 L707.6,1654.3 L708.5,1653.9 L709.4,1653.5 L710.4,1653.9 L711.3,1653.1 L712.2,1652.8 L713.1,1654.0 L714.0,1653.6 L715.0,1653.8 L715.9,1652.7 L716.8,1653.4 L717.7,1653.3 L718.6,1653.1 L719.5,1652.4 L720.5,1653.4 L721.4,1654.1 L722.3,1653.8 L723.2,1653.2 L724.1,1653.5 L725.0,1654.0 L726.0,1652.0 L726.9,1653.4 L727.8,1653.8 L728.7,1653.9 L729.6,1654.4 L730.5,1654.1 L731.5,1653.6 L732.4,1653.6 L733.3,1653.8 L734.2,1653.1 L735.1,1653.3 L736.0,1653.8 L737.0,1654.4 L737.9,1653.2 L738.8,1653.2 L739.7,1653.3 L740.6,1653.9 L741.5,1653.1 L742.5,1653.9 L743.4,1652.5 L744.3,1652.9 L745.2,1652.8 L746.1,1653.3 L747.0,1653.4 L748.0,1651.9 L748.9,1652.2 L749.8,1652.8 L750.7,1652.2 L751.6,1651.6 L752.5,1652.9 L753.5,1652.5 L754.4,1652.3 L755.3,1651.6 L756.2,1652.3 L757.1,1651.3 L758.0,1651.8 L759.0,1650.4 L759.9,1650.1 L760.8,1650.3 L761.7,1649.3 L762.6,1649.4 L763.6,1648.4 L764.5,1646.6 L765.4,1645.4 L766.3,1642.5 L767.2,1638.9 L768.1,1631.6 L769.1,1622.6 L770.0,1612.0 L770.9,1599.8 L771.8,1588.8 L772.7,1583.0 L773.6,1586.9 L774.6,1597.5 L775.5,1608.3 L776.4,1618.4 L777.3,1626.9 L778.2,1632.3 L779.1,1634.4 L780.1,1635.0 L781.0,1634.6 L781.9,1634.3 L782.8,1631.2 L783.7,1628.6 L784.6,1625.5 L785.6,1622.5 L786.5,1619.3 L787.4,1618.5 L788.3,1618.2 L789.2,1620.3 L790.1,1622.5 L791.1,1626.4 L792.0,1628.3 L792.9,1629.9 L793.8,1631.7 L794.7,1632.9 L795.6,1634.2 L796.6,1633.5 L797.5,1634.1 L798.4,1634.8 L799.3,1636.5 L800.2,1635.8 L801.1,1635.3 L802.1,1635.7 L803.0,1636.2 L803.9,1634.5 L804.8,1633.6 L805.7,1632.7 L806.7,1629.2 L807.6,1624.1 L808.5,1615.3 L809.4,1604.9 L810.3,1589.6 L811.2,1571.5 L812.2,1554.9 L813.1,1542.8 L814.0,1544.8 L814.9,1556.0 L815.8,1574.1 L816.7,1592.7 L817.7,1608.4 L818.6,1620.4 L819.5,1630.7 L820.4,1636.3 L821.3,1640.5 L822.2,1643.0 L823.2,1644.9 L824.1,1645.1 L825.0,1648.0 L825.9,1648.3 L826.8,1649.4 L827.7,1650.4 L828.7,1649.8 L829.6,1649.2 L830.5,1650.1 L831.4,1650.2 L832.3,1650.8 L833.2,1651.4 L834.2,1650.4 L835.1,1651.9 L836.0,1651.0 L836.9,1652.1 L837.8,1652.0 L838.7,1652.0 L839.7,1652.2 L840.6,1652.1 L841.5,1652.1 L842.4,1651.6 L843.3,1652.5 L844.2,1653.6 L845.2,1653.7 L846.1,1653.4 L847.0,1653.1 L847.9,1652.3 L848.8,1653.5 L849.7,1652.7 L850.7,1652.7 L851.6,1652.6 L852.5,1652.7 L853.4,1652.4 L854.3,1652.6 L855.3,1652.0 L856.2,1652.3 L857.1,1653.6 L858.0,1652.2 L858.9,1652.0 L859.8,1652.3 L860.8,1652.2 L861.7,1651.0 L862.6,1651.2 L863.5,1651.6 L864.4,1650.9 L865.3,1650.5 L866.3,1650.9 L867.2,1649.3 L868.1,1649.3 L869.0,1648.5 L869.9,1649.1 L870.8,1646.8 L871.8,1647.0 L872.7,1646.5 L873.6,1646.7 L874.5,1646.1 L875.4,1646.1 L876.3,1643.9 L877.3,1644.7 L878.2,1643.7 L879.1,1643.1 L880.0,1643.5 L880.9,1642.7 L881.8,1642.3 L882.8,1643.8 L883.7,1644.0 L884.6,1645.4 L885.5,1646.9 L886.4,1647.8 L887.3,1649.4 L888.3,1649.1 L889.2,1649.1 L890.1,1650.0 L891.0,1650.4 L891.9,1650.7 L892.8,1651.9 L893.8,1651.6 L894.7,1651.1 L895.6,1652.8 L896.5,1652.5 L897.4,1652.9 L898.4,1652.9 L899.3,1653.3 L900.2,1653.1 L901.1,1653.8 L902.0,1653.4 L902.9,1653.4 L903.9,1653.5 L904.8,1652.5 L905.7,1653.2 L906.6,1653.2 L907.5,1653.5 L908.4,1652.6 L909.4,1654.3 L910.3,1653.4 L911.2,1652.7 L912.1,1652.4 L913.0,1653.2 L913.9,1653.2 L914.9,1652.8 L915.8,1653.2 L916.7,1652.7 L917.6,1653.3 L918.5,1652.5 L919.4,1652.7 L920.4,1653.1 L921.3,1653.8 L922.2,1651.6 L923.1,1651.7 L924.0,1651.3 L924.9,1651.9 L925.9,1650.6 L926.8,1650.7 L927.7,1650.7 L928.6,1650.0 L929.5,1649.8 L930.4,1649.9 L931.4,1648.9 L932.3,1649.2 L933.2,1649.9 L934.1,1650.3 L935.0,1650.2 L935.9,1649.6 L936.9,1650.5 L937.8,1651.5 L938.7,1651.6 L939.6,1651.5 L940.5,1651.4 L941.4,1652.5 L942.4,1652.0 L943.3,1651.9 L944.2,1652.3 L945.1,1653.7 L946.0,1653.2 L947.0,1653.9 L947.9,1653.1 L948.8,1654.0 L949.7,1653.2 L950.6,1653.5 L951.5,1655.1 L952.5,1654.2 L953.4,1653.5 L954.3,1653.8 L955.2,1654.0 L956.1,1654.6 L957.0,1653.7 L958.0,1653.0 L958.9,1653.8 L959.8,1654.0 L960.7,1654.1 L961.6,1654.7 L962.5,1654.2 L963.5,1654.5 L964.4,1653.4 L965.3,1654.5 L966.2,1655.2 L967.1,1654.5 L968.0,1654.2 L969.0,1654.2 L969.9,1655.1 L970.8,1653.6 L971.7,1654.1 L972.6,1654.4 L973.5,1654.5 L974.5,1653.9 L975.4,1654.3 L976.3,1654.0 L977.2,1654.2 L978.1,1654.1 L979.0,1653.5 L980.0,1654.2 L980.9,1654.7 L981.8,1653.7 L982.7,1654.1 L983.6,1654.6 L984.5,1653.6 L985.5,1654.3 L986.4,1653.6 L987.3,1654.8 L988.2,1655.5 L989.1,1655.3 L990.1,1654.1 L991.0,1654.6 L991.9,1654.3 L992.8,1654.3 L993.7,1655.1 L994.6,1653.5 L995.6,1654.8 L996.5,1654.2 L997.4,1655.0 L998.3,1654.4 L999.2,1653.9 L1000.1,1654.4 L1001.1,1654.7 L1002.0,1654.3 L1002.9,1654.5 L1003.8,1654.0 L1004.7,1653.1 L1005.6,1654.8 L1006.6,1654.7 L1007.5,1654.4 L1008.4,1654.3 L1009.3,1654.8 L1010.2,1654.0 L1011.1,1653.9 L1012.1,1654.2 L1013.0,1654.9 L1013.9,1653.5 L1014.8,1654.9 L1015.7,1653.9 L1016.6,1653.7 L1017.6,1655.0 L1018.5,1654.2 L1019.4,1653.6 L1020.3,1654.1 L1021.2,1654.8 L1022.1,1655.0 L1023.1,1654.1 L1024.0,1654.5 L1024.9,1654.7 L1025.8,1654.0 L1026.7,1654.5 L1027.6,1654.3 L1028.6,1654.0 L1029.5,1654.0 L1030.4,1654.4 L1031.3,1654.3 L1032.2,1654.0 L1033.1,1654.1 L1034.1,1654.9 L1035.0,1654.4 L1035.9,1654.8 L1036.8,1655.0 L1037.7,1654.6 L1038.7,1655.6 L1039.6,1653.9 L1040.5,1654.8 L1041.4,1654.2 L1042.3,1655.4 L1043.2,1655.3 L1044.2,1653.3 L1045.1,1653.8 L1046.0,1654.7 L1046.9,1654.8 L1047.8,1654.7 L1048.7,1654.3 L1049.7,1654.6 L1050.6,1654.7 L1051.5,1654.3 L1052.4,1654.9 L1053.3,1653.1 L1054.2,1654.7 L1055.2,1653.8 L1056.1,1654.9 L1057.0,1654.2 L1057.9,1653.9 L1058.8,1654.5 L1059.7,1653.8 L1060.7,1653.8 L1061.6,1653.5 L1062.5,1654.3 L1063.4,1654.6 L1064.3,1654.9 L1065.2,1654.3 L1066.2,1654.9 L1067.1,1654.4 L1068.0,1654.3 L1068.9,1654.7 L1069.8,1654.9 L1070.7,1654.2 L1071.7,1654.2 L1072.6,1654.3 L1073.5,1654.4 L1074.4,1653.8 L1075.3,1654.9 L1076.2,1654.1 L1077.2,1654.6 L1078.1,1653.9 L1079.0,1654.5 L1079.9,1654.5 L1080.8,1654.1 L1081.8,1655.4 L1082.7,1654.5 L1083.6,1655.3 L1084.5,1654.9 L1085.4,1654.0 L1086.3,1654.1 L1087.3,1654.6 L1088.2,1654.4 L1089.1,1654.3 L1090.0,1654.2 L1090.9,1653.3 L1091.8,1654.2 L1092.8,1653.1 L1093.7,1654.5 L1094.6,1653.9 L1095.5,1653.9 L1096.4,1654.2 L1097.3,1654.4 L1098.3,1653.5 L1099.2,1653.3 L1100.1,1653.7 L1101.0,1653.1 L1101.9,1653.7 L1102.8,1655.1 L1103.8,1653.7 L1104.7,1654.6 L1105.6,1653.5 L1106.5,1654.4 L1107.4,1654.0 L1108.3,1654.2 L1109.3,1654.5 L1110.2,1655.2 L1111.1,1654.3 L1112.0,1654.2 L1112.9,1653.6 L1113.8,1654.5 L1114.8,1654.0 L1115.7,1654.6 L1116.6,1654.1 L1117.5,1655.0 L1118.4,1653.0 L1119.3,1653.9 L1120.3,1654.5 L1121.2,1653.8 L1122.1,1653.5 L1123.0,1653.8 L1123.9,1653.2 L1124.8,1654.0 L1125.8,1655.2 L1126.7,1654.5 L1127.6,1653.2 L1128.5,1653.3 L1129.4,1653.5 L1130.4,1654.2 L1131.3,1653.1 L1132.2,1653.1 L1133.1,1653.9 L1134.0,1653.8 L1134.9,1653.0 L1135.9,1652.4 L1136.8,1652.0 L1137.7,1652.3 L1138.6,1651.1 L1139.5,1652.4 L1140.4,1651.2 L1141.4,1651.2 L1142.3,1651.3 L1143.2,1650.0 L1144.1,1647.7 L1145.0,1647.7 L1145.9,1646.5 L1146.9,1643.9 L1147.8,1642.3 L1148.7,1641.2 L1149.6,1638.9 L1150.5,1639.3 L1151.4,1636.3 L1152.4,1636.5 L1153.3,1637.1 L1154.2,1637.6 L1155.1,1638.6 L1156.0,1639.6 L1156.9,1640.3 L1157.9,1641.9 L1158.8,1640.6 L1159.7,1642.1 L1160.6,1641.6 L1161.5,1641.7 L1162.4,1641.0 L1163.4,1639.4 L1164.3,1638.3 L1165.2,1637.9 L1166.1,1636.5 L1167.0,1635.1 L1167.9,1636.2 L1168.9,1636.5 L1169.8,1635.1 L1170.7,1637.3 L1171.6,1640.1 L1172.5,1640.9 L1173.5,1642.4 L1174.4,1643.9 L1175.3,1645.3 L1176.2,1646.9 L1177.1,1648.0 L1178.0,1649.8 L1179.0,1650.0 L1179.9,1650.7 L1180.8,1650.9 L1181.7,1652.0 L1182.6,1651.9 L1183.5,1652.5 L1184.5,1653.4 L1185.4,1653.3 L1186.3,1653.5 L1187.2,1653.5 L1188.1,1653.5 L1189.0,1653.4 L1190.0,1653.4 L1190.9,1654.1 L1191.8,1653.1 L1192.7,1654.5 L1193.6,1653.8 L1194.5,1653.5 L1195.5,1653.6 L1196.4,1653.6 L1197.3,1654.1 L1198.2,1653.6 L1199.1,1654.7 L1200.0,1653.6 L1201.0,1652.8 L1201.9,1653.7 L1202.8,1653.0 L1203.7,1654.1 L1204.6,1654.8 L1205.5,1654.5 L1206.5,1653.5 L1207.4,1653.8 L1208.3,1655.2 L1209.2,1654.4 L1210.1,1654.3 L1211.0,1654.9 L1212.0,1655.6 L1212.9,1655.0 L1213.8,1654.4 L1214.7,1654.5 L1215.6,1654.7 L1216.5,1654.0 L1217.5,1653.8 L1218.4,1654.4 L1219.3,1653.8 L1220.2,1654.3 L1221.1,1654.4 L1222.1,1655.7 L1223.0,1653.9 L1223.9,1654.3 L1224.8,1654.3 L1225.7,1654.6 L1226.6,1655.0 L1227.6,1654.1 L1228.5,1654.0 L1229.4,1653.5 L1230.3,1653.9 L1231.2,1654.7 L1232.1,1654.4 L1233.1,1653.9 L1234.0,1654.2 L1234.9,1654.4 L1235.8,1654.7 L1236.7,1654.1 L1237.6,1654.3 L1238.6,1653.4 L1239.5,1653.8 L1240.4,1655.3 L1241.3,1653.2 L1242.2,1654.2 L1243.1,1654.5 L1244.1,1654.2 L1245.0,1654.0 L1245.9,1654.4 L1246.8,1654.4 L1247.7,1654.4 L1248.6,1653.4 L1249.6,1654.3 L1250.5,1653.9 L1251.4,1654.1 L1252.3,1654.5 L1253.2,1654.7 L1254.1,1654.9 L1255.1,1654.1 L1256.0,1654.9 L1256.9,1655.0 L1257.8,1655.0 L1258.7,1655.1 L1259.6,1654.2 L1260.6,1654.2 L1261.5,1654.7 L1262.4,1653.5 L1263.3,1654.3 L1264.2,1653.8 L1265.2,1653.8 L1266.1,1653.0 L1267.0,1653.3 L1267.9,1653.7 L1268.8,1654.0 L1269.7,1653.8 L1270.7,1652.9 L1271.6,1652.4 L1272.5,1651.6 L1273.4,1651.8 L1274.3,1650.9 L1275.2,1650.9 L1276.2,1651.0 L1277.1,1649.6 L1278.0,1648.6 L1278.9,1648.9 L1279.8,1648.8 L1280.7,1649.3 L1281.7,1651.1 L1282.6,1651.0 L1283.5,1650.6 L1284.4,1652.2 L1285.3,1653.0 L1286.2,1652.4 L1287.2,1652.5 L1288.1,1652.8 L1289.0,1653.3 L1289.9,1653.5 L1290.8,1653.8 L1291.7,1653.7 L1292.7,1653.6 L1293.6,1653.5 L1294.5,1653.0 L1295.4,1651.5 L1296.3,1652.0 L1297.2,1652.0 L1298.2,1651.3 L1299.1,1651.8 L1300.0,1650.8 L1300.9,1650.2 L1301.8,1651.3 L1302.7,1650.8 L1303.7,1650.5 L1304.6,1650.9 L1305.5,1651.1 L1306.4,1650.9 L1307.3,1649.6 L1308.2,1650.8 L1309.2,1651.2 L1310.1,1651.2 L1311.0,1652.1 L1311.9,1652.8 L1312.8,1652.1 L1313.8,1651.9 L1314.7,1653.8 L1315.6,1652.5 L1316.5,1652.1 L1317.4,1652.9 L1318.3,1653.0 L1319.3,1652.3 L1320.2,1653.0 L1321.1,1652.2 L1322.0,1651.8 L1322.9,1652.2 L1323.8,1652.4 L1324.8,1651.5 L1325.7,1651.9 L1326.6,1651.5 L1327.5,1653.1 L1328.4,1651.1 L1329.3,1652.2 L1330.3,1651.5 L1331.2,1651.6 L1332.1,1652.2 L1333.0,1652.5 L1333.9,1652.9 L1334.8,1652.5 L1335.8,1652.2 L1336.7,1652.5 L1337.6,1653.3 L1338.5,1653.5 L1339.4,1654.1 L1340.3,1653.7 L1341.3,1654.2 L1342.2,1654.6 L1343.1,1654.0 L1344.0,1653.1 L1344.9,1653.4 L1345.8,1653.3 L1346.8,1655.1 L1347.7,1653.8 L1348.6,1655.0 L1349.5,1654.6 L1350.4,1655.3 L1351.3,1654.9 L1352.3,1654.3 L1353.2,1654.3 L1354.1,1654.5 L1355.0,1654.6 L1355.9,1654.2 L1356.9,1654.5 L1357.8,1655.4 L1358.7,1653.6 L1359.6,1654.6 L1360.5,1654.0 L1361.4,1654.6 L1362.4,1655.0 L1363.3,1654.5 L1364.2,1655.0 L1365.1,1653.7 L1366.0,1655.1 L1366.9,1654.2 L1367.9,1654.9 L1368.8,1654.6 L1369.7,1653.1 L1370.6,1654.1 L1371.5,1654.7 L1372.4,1655.4 L1373.4,1654.7 L1374.3,1654.7 L1375.2,1653.8 L1376.1,1655.3 L1377.0,1655.5 L1377.9,1654.5 L1378.9,1654.4 L1379.8,1653.6 L1380.7,1655.0 L1381.6,1656.0 L1382.5,1654.9 L1383.4,1655.2 L1384.4,1654.8 L1385.3,1653.9 L1386.2,1655.2 L1387.1,1653.8 L1388.0,1654.3 L1388.9,1654.6 L1389.9,1654.9 L1390.8,1654.6 L1391.7,1654.6 L1392.6,1653.9 L1393.5,1653.6 L1394.4,1654.3 L1395.4,1653.8 L1396.3,1653.4 L1397.2,1653.4 L1398.1,1653.8 L1399.0,1652.9 L1399.9,1653.1 L1400.9,1652.9 L1401.8,1653.8 L1402.7,1653.7 L1403.6,1654.4 L1404.5,1652.2 L1405.5,1652.3 L1406.4,1652.7 L1407.3,1651.4 L1408.2,1650.4 L1409.1,1650.3 L1410.0,1647.5 L1411.0,1645.1 L1411.9,1642.8 L1412.8,1641.5 L1413.7,1639.7 L1414.6,1638.1 L1415.5,1639.0 L1416.5,1641.6 L1417.4,1643.8 L1418.3,1645.4 L1419.2,1648.0 L1420.1,1649.6 L1421.0,1649.5 L1422.0,1651.3 L1422.9,1652.3 L1423.8,1652.3 L1424.7,1651.8 L1425.6,1653.0 L1426.5,1653.8 L1427.5,1654.4 L1428.4,1652.5 L1429.3,1655.2 L1430.2,1653.2 L1431.1,1654.4 L1432.0,1654.6 L1433.0,1654.5 L1433.9,1654.1 L1434.8,1653.4 L1435.7,1654.4 L1436.6,1653.6 L1437.5,1652.6 L1438.5,1655.6 L1439.4,1654.4 L1440.3,1655.0 L1441.2,1653.4 L1442.1,1654.7 L1443.0,1654.7 L1444.0,1654.6 L1444.9,1653.7 L1445.8,1652.9 L1446.7,1653.4 L1447.6,1652.1 L1448.6,1652.1 L1449.5,1652.8 L1450.4,1651.9 L1451.3,1651.8 L1452.2,1651.1 L1453.1,1651.2 L1454.1,1649.5 L1455.0,1647.0 L1455.9,1645.5 L1456.8,1642.0 L1457.7,1639.7 L1458.6,1638.5 L1459.6,1636.6 L1460.5,1637.8 L1461.4,1639.2 L1462.3,1642.5 L1463.2,1645.7 L1464.1,1646.6 L1465.1,1648.9 L1466.0,1649.7 L1466.9,1650.5 L1467.8,1651.2 L1468.7,1653.3 L1469.6,1654.2 L1470.6,1653.4 L1471.5,1653.0 L1472.4,1653.9 L1473.3,1653.5 L1474.2,1654.2 L1475.1,1654.1 L1476.1,1654.1 L1477.0,1654.4 L1477.9,1653.8 L1478.8,1653.9 L1479.7,1653.2 L1480.6,1654.0 L1481.6,1653.5 L1482.5,1654.2 L1483.4,1653.8 L1484.3,1654.4 L1485.2,1654.6 L1486.1,1653.6 L1487.1,1653.9 L1488.0,1653.9 L1488.9,1654.8 L1489.8,1655.3 L1490.7,1654.9 L1491.6,1654.2 L1492.6,1655.2 L1493.5,1653.6 L1494.4,1655.2 L1495.3,1654.1 L1496.2,1652.9 L1497.2,1655.9 L1498.1,1655.3 L1499.0,1653.8 L1499.9,1654.5 L1500.8,1654.3 L1501.7,1654.4 L1502.7,1653.5 L1503.6,1654.0 L1504.5,1654.6 L1505.4,1654.4 L1506.3,1654.9 L1507.2,1654.3 L1508.2,1655.5 L1509.1,1653.8 L1510.0,1654.3 L1510.9,1653.1 L1511.8,1653.4 L1512.7,1654.8 L1513.7,1653.5 L1514.6,1654.2 L1515.5,1653.9 L1516.4,1653.2 L1517.3,1653.6 L1518.2,1653.4 L1519.2,1653.3 L1520.1,1653.8 L1521.0,1653.6 L1521.9,1652.8 L1522.8,1652.4 L1523.7,1652.9 L1524.7,1652.4 L1525.6,1652.6 L1526.5,1653.0 L1527.4,1651.3 L1528.3,1649.8 L1529.2,1648.2 L1530.2,1645.4 L1531.1,1641.8 L1532.0,1636.9 L1532.9,1630.9 L1533.8,1623.5 L1534.7,1616.7 L1535.7,1610.0 L1536.6,1607.7 L1537.5,1609.4 L1538.4,1616.8 L1539.3,1623.5 L1540.3,1631.4 L1541.2,1636.9 L1542.1,1641.9 L1543.0,1644.2 L1543.9,1646.8 L1544.8,1649.0 L1545.8,1647.4 L1546.7,1648.7 L1547.6,1648.6 L1548.5,1647.3 L1549.4,1646.5 L1550.3,1645.6 L1551.3,1643.1 L1552.2,1642.1 L1553.1,1639.7 L1554.0,1638.4 L1554.9,1637.3 L1555.8,1637.2 L1556.8,1637.8 L1557.7,1639.0 L1558.6,1639.4 L1559.5,1643.0 L1560.4,1644.1 L1561.3,1645.3 L1562.3,1645.8 L1563.2,1646.9 L1564.1,1647.9 L1565.0,1648.1 L1565.9,1647.0 L1566.8,1648.1 L1567.8,1648.7 L1568.7,1645.2 L1569.6,1645.6 L1570.5,1643.9 L1571.4,1642.1 L1572.3,1641.4 L1573.3,1638.5 L1574.2,1638.3 L1575.1,1638.7 L1576.0,1638.3 L1576.9,1639.3 L1577.8,1641.2 L1578.8,1642.7 L1579.7,1645.5 L1580.6,1645.8 L1581.5,1648.2 L1582.4,1648.2 L1583.3,1650.3 L1584.3,1650.7 L1585.2,1650.0 L1586.1,1652.0 L1587.0,1651.8 L1587.9,1652.4 L1588.9,1653.8 L1589.8,1652.5 L1590.7,1652.7 L1591.6,1654.3 L1592.5,1653.7 L1593.4,1654.6 L1594.4,1654.0 L1595.3,1653.4 L1596.2,1653.9 L1597.1,1654.7 L1598.0,1654.6 L1598.9,1654.2 L1599.9,1654.2 L1600.8,1654.2 L1601.7,1654.0 L1602.6,1655.4 L1603.5,1654.4 L1604.4,1653.8 L1605.4,1654.2 L1606.3,1654.9 L1607.2,1654.8 L1608.1,1654.4 L1609.0,1654.1 L1609.9,1654.6 L1610.9,1653.6 L1611.8,1653.8 L1612.7,1655.0 L1613.6,1654.3 L1614.5,1654.8 L1615.4,1655.3 L1616.4,1655.0 L1617.3,1654.7 L1618.2,1655.9 L1619.1,1655.1 L1620.0,1654.5 L1620.9,1655.1 L1621.9,1654.9 L1622.8,1654.2 L1623.7,1654.8 L1624.6,1654.6 L1625.5,1653.6 L1626.4,1654.6 L1627.4,1654.6 L1628.3,1654.5 L1629.2,1653.8 L1630.1,1654.6 L1631.0,1654.7 L1632.0,1654.8 L1632.9,1654.1 L1633.8,1655.1 L1634.7,1654.1 L1635.6,1654.7 L1636.5,1655.5 L1637.5,1654.4 L1638.4,1654.5 L1639.3,1655.4 L1640.2,1654.6 L1641.1,1654.6 L1642.0,1654.9 L1643.0,1655.4 L1643.9,1653.5 L1644.8,1654.3 L1645.7,1654.2 L1646.6,1654.2 L1647.5,1654.3 L1648.5,1654.3 L1649.4,1655.0 L1650.3,1654.3 L1651.2,1654.9 L1652.1,1655.0 L1653.0,1654.4 L1654.0,1654.8 L1654.9,1655.7 L1655.8,1654.9 L1656.7,1654.4 L1657.6,1654.7 L1658.5,1654.2 L1659.5,1654.9 L1660.4,1655.2 L1661.3,1654.3 L1662.2,1654.6 L1663.1,1655.3 L1664.0,1654.4 L1665.0,1654.8 L1665.9,1654.1 L1666.8,1654.2 L1667.7,1654.4 L1668.6,1655.8 L1669.5,1654.4 L1670.5,1654.3 L1671.4,1654.3 L1672.3,1654.5 L1673.2,1654.9 L1674.1,1654.6 L1675.0,1655.6 L1676.0,1654.5 L1676.9,1655.2 L1677.8,1654.5 L1678.7,1654.6 L1679.6,1653.4 L1680.6,1654.1 L1681.5,1654.0 L1682.4,1653.9 L1683.3,1652.7 L1684.2,1654.3 L1685.1,1653.4 L1686.1,1653.2 L1687.0,1653.1 L1687.9,1652.8 L1688.8,1652.8 L1689.7,1651.4 L1690.6,1650.9 L1691.6,1650.7 L1692.5,1649.5 L1693.4,1647.8 L1694.3,1645.9 L1695.2,1643.7 L1696.1,1641.9 L1697.1,1640.4 L1698.0,1637.6 L1698.9,1638.4 L1699.8,1638.6 L1700.7,1639.5 L1701.6,1642.2 L1702.6,1643.2 L1703.5,1645.1 L1704.4,1647.0 L1705.3,1648.9 L1706.2,1650.1 L1707.1,1650.8 L1708.1,1651.7 L1709.0,1651.0 L1709.9,1652.7 L1710.8,1651.9 L1711.7,1652.4 L1712.6,1652.7 L1713.6,1652.3 L1714.5,1652.2 L1715.4,1652.4 L1716.3,1652.9 L1717.2,1653.1 L1718.1,1652.9 L1719.1,1651.8 L1720.0,1651.6 L1720.9,1651.1 L1721.8,1651.3 L1722.7,1649.1 L1723.7,1649.8 L1724.6,1647.4 L1725.5,1645.5 L1726.4,1644.1 L1727.3,1642.4 L1728.2,1639.9 L1729.2,1638.7 L1730.1,1637.6 L1731.0,1638.8 L1731.9,1640.4 L1732.8,1641.7 L1733.7,1644.7 L1734.7,1645.9 L1735.6,1647.6 L1736.5,1648.4 L1737.4,1649.8 L1738.3,1651.2 L1739.2,1650.6 L1740.2,1652.1 L1741.1,1652.3 L1742.0,1652.4 L1742.9,1651.1 L1743.8,1652.3 L1744.7,1652.7 L1745.7,1651.9 L1746.6,1652.2 L1747.5,1650.7 L1748.4,1652.1 L1749.3,1650.9 L1750.2,1651.2 L1751.2,1648.9 L1752.1,1649.2 L1753.0,1647.3 L1753.9,1646.2 L1754.8,1643.2 L1755.7,1641.0 L1756.7,1640.1 L1757.6,1636.3 L1758.5,1635.1 L1759.4,1635.3 L1760.3,1636.1 L1761.2,1639.3 L1762.2,1641.9 L1763.1,1642.8 L1764.0,1644.2 L1764.9,1647.4 L1765.8,1648.6 L1766.7,1649.4 L1767.7,1650.3 L1768.6,1649.6 L1769.5,1650.2 L1770.4,1649.7 L1771.3,1649.8 L1772.3,1651.1 L1773.2,1650.1 L1774.1,1651.6 L1775.0,1650.2 L1775.9,1649.7 L1776.8,1650.3 L1777.8,1650.6 L1778.7,1649.6 L1779.6,1648.4 L1780.5,1649.0 L1781.4,1649.3 L1782.3,1648.0 L1783.3,1647.5 L1784.2,1648.2 L1785.1,1647.4 L1786.0,1646.5 L1786.9,1646.6 L1787.8,1646.1 L1788.8,1646.4 L1789.7,1646.1 L1790.6,1646.4 L1791.5,1645.9 L1792.4,1644.5 L1793.3,1645.4 L1794.3,1645.5 L1795.2,1645.0 L1796.1,1645.2 L1797.0,1644.1 L1797.9,1643.7 L1798.8,1644.5 L1799.8,1643.1 L1800.7,1642.1 L1801.6,1643.2 L1802.5,1641.4 L1803.4,1640.5 L1804.3,1638.4 L1805.3,1636.4 L1806.2,1633.9 L1807.1,1631.1 L1808.0,1627.6 L1808.9,1621.8 L1809.8,1618.9 L1810.8,1613.7 L1811.7,1610.8 L1812.6,1610.8 L1813.5,1611.9 L1814.4,1614.5 L1815.4,1621.1 L1816.3,1624.7 L1817.2,1630.1 L1818.1,1634.5 L1819.0,1638.9 L1819.9,1640.9 L1820.9,1644.2 L1821.8,1645.3 L1822.7,1647.8 L1823.6,1648.0 L1824.5,1649.2 L1825.4,1651.1 L1826.4,1650.9 L1827.3,1651.3 L1828.2,1652.9 L1829.1,1652.2 L1830.0,1651.8 L1830.9,1652.9 L1831.9,1652.1 L1832.8,1653.6 L1833.7,1653.8 L1834.6,1653.0 L1835.5,1653.1 L1836.4,1653.7 L1837.4,1653.7 L1838.3,1653.3 L1839.2,1654.2 L1840.1,1652.9 L1841.0,1653.8 L1841.9,1653.9 L1842.9,1654.0 L1843.8,1654.4 L1844.7,1653.6 L1845.6,1654.7 L1846.5,1654.3 L1847.4,1654.1 L1848.4,1653.7 L1849.3,1653.9 L1850.2,1654.8 L1851.1,1654.1 L1852.0,1654.7 L1852.9,1655.2 L1853.9,1655.2 L1854.8,1655.6 L1855.7,1654.6 L1856.6,1654.2 L1857.5,1655.3 L1858.4,1655.0 L1859.4,1655.4 L1860.3,1654.8 L1861.2,1655.5 L1862.1,1655.3 L1863.0,1655.3 L1864.0,1655.2 L1864.9,1655.1 L1865.8,1655.0 L1866.7,1655.1 L1867.6,1655.5 L1868.5,1654.7 L1869.5,1655.9 L1870.4,1654.9 L1871.3,1655.5 L1872.2,1654.9 L1873.1,1654.9 L1874.0,1656.1 L1875.0,1654.9 L1875.9,1654.3 L1876.8,1654.7 L1877.7,1654.9 L1878.6,1656.2 L1879.5,1655.2 L1880.5,1655.6 L1881.4,1654.5 L1882.3,1655.3 L1883.2,1655.5 L1884.1,1656.1 L1885.0,1654.7 L1886.0,1655.4 L1886.9,1655.3 L1887.8,1654.6 L1888.7,1655.1 L1889.6,1655.0 L1890.5,1653.9 L1891.5,1655.5 L1892.4,1655.4 L1893.3,1654.9 L1894.2,1654.4 L1895.1,1656.0 L1896.0,1655.3 L1897.0,1655.7 L1897.9,1655.9 L1898.8,1654.9 L1899.7,1655.6 L1900.6,1655.0 L1901.5,1655.2 L1902.5,1655.1 L1903.4,1655.2 L1904.3,1655.8 L1905.2,1655.3 L1906.1,1655.1 L1907.1,1655.0 L1908.0,1655.4 L1908.9,1654.7 L1909.8,1654.9 L1910.7,1655.2 L1911.6,1654.9 L1912.6,1655.1 L1913.5,1654.9 L1914.4,1656.3 L1915.3,1655.9 L1916.2,1655.5 L1917.1,1655.2 L1918.1,1656.4 L1919.0,1655.4 L1919.9,1655.2 L1920.8,1655.4 L1921.7,1655.4 L1922.6,1656.0 L1923.6,1655.2 L1924.5,1656.4 L1925.4,1654.7 L1926.3,1655.6 L1927.2,1654.7 L1928.1,1656.2 L1929.1,1655.0 L1930.0,1655.2 L1930.9,1655.7 L1931.8,1655.9 L1932.7,1654.6 L1933.6,1655.0 L1934.6,1654.5 L1935.5,1655.3 L1936.4,1655.2 L1937.3,1655.0 L1938.2,1654.8 L1939.1,1655.0 L1940.1,1654.8 L1941.0,1655.5 L1941.9,1656.0 L1942.8,1654.1 L1943.7,1655.1 L1944.6,1655.0 L1945.6,1655.5 L1946.5,1654.7 L1947.4,1655.1 L1948.3,1654.6 L1949.2,1655.5 L1950.1,1655.2 L1951.1,1655.1 L1952.0,1655.3 L1952.9,1655.0 L1953.8,1654.3 L1954.7,1655.4 L1955.7,1655.2 L1956.6,1655.0 L1957.5,1655.6 L1958.4,1655.7 L1959.3,1654.4 L1960.2,1654.6 L1961.2,1655.8 L1962.1,1655.7 L1963.0,1654.5 L1963.9,1654.2 L1964.8,1654.5 L1965.7,1654.5 L1966.7,1653.9 L1967.6,1654.7 L1968.5,1653.9 L1969.4,1653.9 L1970.3,1655.0 L1971.2,1654.1 L1972.2,1654.3 L1973.1,1654.6 L1974.0,1654.6 L1974.9,1653.9 L1975.8,1654.0 L1976.7,1653.4 L1977.7,1654.7 L1978.6,1653.9 L1979.5,1652.8 L1980.4,1653.3 L1981.3,1653.5 L1982.2,1653.2 L1983.2,1653.8 L1984.1,1653.4 L1985.0,1652.1 L1985.9,1652.2 L1986.8,1651.4 L1987.7,1652.0 L1988.7,1651.8 L1989.6,1653.0 L1990.5,1651.4 L1991.4,1650.0 L1992.3,1650.6 L1993.2,1650.9 L1994.2,1650.1 L1995.1,1650.2 L1996.0,1650.4"/>
<path stroke="#000000" d="M162.0,1880.3 L162.9,1880.5 L163.8,1880.5 L164.8,1881.1 L165.7,1880.0 L166.6,1881.2 L167.5,1880.8 L168.4,1881.8 L169.3,1881.8 L170.3,1882.1 L171.2,1881.7 L172.1,1881.3 L173.0,1881.8 L173.9,1882.1 L174.8,1881.0 L175.8,1881.7 L176.7,1881.3 L177.6,1882.1 L178.5,1880.9 L179.4,1881.2 L180.3,1881.5 L181.3,1881.5 L182.2,1880.5 L183.1,1881.6 L184.0,1881.3 L184.9,1881.2 L185.8,1881.3 L186.8,1881.5 L187.7,1880.4 L188.6,1882.2 L189.5,1880.9 L190.4,1880.2 L191.3,1881.3 L192.3,1882.2 L193.2,1881.1 L194.1,1882.3 L195.0,1882.3 L195.9,1880.9 L196.8,1880.1 L197.8,1880.7 L198.7,1882.1 L199.6,1881.0 L200.5,1880.6 L201.4,1880.7 L202.3,1881.4 L203.3,1881.4 L204.2,1881.9 L205.1,1882.0 L206.0,1880.9 L206.9,1881.4 L207.8,1880.8 L208.8,1881.5 L209.7,1880.8 L210.6,1880.8 L211.5,1882.6 L212.4,1881.5 L213.4,1881.8 L214.3,1882.9 L215.2,1881.9 L216.1,1881.4 L217.0,1881.5 L217.9,1881.0 L218.9,1882.1 L219.8,1881.3 L220.7,1882.4 L221.6,1881.3 L222.5,1881.3 L223.4,1881.2 L224.4,1881.8 L225.3,1881.6 L226.2,1882.2 L227.1,1881.2 L228.0,1881.6 L228.9,1882.5 L229.9,1881.3 L230.8,1881.7 L231.7,1882.3 L232.6,1881.8 L233.5,1881.1 L234.4,1880.3 L235.4,1882.8 L236.3,1881.7 L237.2,1882.1 L238.1,1881.2 L239.0,1882.4 L239.9,1881.7 L240.9,1881.4 L241.8,1880.9 L242.7,1881.6 L243.6,1881.1 L244.5,1881.3 L245.4,1880.5 L246.4,1881.1 L247.3,1881.5 L248.2,1880.7 L249.1,1881.4 L250.0,1881.7 L250.9,1881.2 L251.9,1881.0 L252.8,1881.0 L253.7,1881.8 L254.6,1880.4 L255.5,1881.1 L256.5,1881.0 L257.4,1881.3 L258.3,1881.2 L259.2,1880.6 L260.1,1882.3 L261.0,1881.2 L262.0,1880.4 L262.9,1880.6 L263.8,1881.1 L264.7,1881.4 L265.6,1880.3 L266.5,1881.4 L267.5,1880.2 L268.4,1880.4 L269.3,1881.3 L270.2,1881.7 L271.1,1880.7 L272.0,1880.5 L273.0,1881.3 L273.9,1880.0 L274.8,1880.7 L275.7,1880.6 L276.6,1880.9 L277.5,1880.4 L278.5,1880.0 L279.4,1880.4 L280.3,1879.3 L281.2,1880.3 L282.1,1879.3 L283.0,1879.1 L284.0,1879.2 L284.9,1879.2 L285.8,1879.4 L286.7,1878.6 L287.6,1878.9 L288.5,1878.7 L289.5,1877.8 L290.4,1876.9 L291.3,1877.5 L292.2,1876.6 L293.1,1874.7 L294.0,1874.6 L295.0,1874.3 L295.9,1872.3 L296.8,1871.1 L297.7,1868.2 L298.6,1866.1 L299.5,1860.9 L300.5,1853.1 L301.4,1842.5 L302.3,1825.7 L303.2,1805.2 L304.1,1781.6 L305.1,1752.7 L306.0,1728.4 L306.9,1709.5 L307.8,1706.3 L308.7,1718.4 L309.6,1739.4 L310.6,1765.3 L311.5,1792.9 L312.4,1813.7 L313.3,1831.5 L314.2,1844.7 L315.1,1852.4 L316.1,1859.3 L317.0,1862.6 L317.9,1863.5 L318.8,1863.3 L319.7,1861.7 L320.6,1859.2 L321.6,1851.5 L322.5,1844.6 L323.4,1832.2 L324.3,1814.1 L325.2,1794.4 L326.1,1770.4 L327.1,1747.1 L328.0,1729.4 L328.9,1722.9 L329.8,1729.9 L330.7,1747.3 L331.6,1771.4 L332.6,1795.5 L333.5,1817.0 L334.4,1834.1 L335.3,1848.0 L336.2,1857.4 L337.1,1863.7 L338.1,1868.0 L339.0,1870.4 L339.9,1871.0 L340.8,1872.1 L341.7,1873.1 L342.6,1874.2 L343.6,1874.3 L344.5,1875.2 L345.4,1875.7 L346.3,1874.7 L347.2,1875.5 L348.2,1874.6 L349.1,1873.9 L350.0,1873.6 L350.9,1873.6 L351.8,1872.1 L352.7,1872.5 L353.7,1871.8 L354.6,1868.4 L355.5,1865.9 L356.4,1862.4 L357.3,1854.7 L358.2,1844.1 L359.2,1828.9 L360.1,1809.7 L361.0,1784.7 L361.9,1756.4 L362.8,1728.6 L363.7,1707.7 L364.7,1701.6 L365.6,1709.1 L366.5,1731.0 L367.4,1757.6 L368.3,1784.3 L369.2,1809.9 L370.2,1830.4 L371.1,1844.4 L372.0,1855.2 L372.9,1863.6 L373.8,1866.4 L374.7,1869.9 L375.7,1873.2 L376.6,1874.2 L377.5,1874.5 L378.4,1875.3 L379.3,1877.0 L380.2,1878.0 L381.2,1878.3 L382.1,1878.6 L383.0,1879.5 L383.9,1879.2 L384.8,1878.9 L385.7,1880.7 L386.7,1879.2 L387.6,1880.0 L388.5,1880.2 L389.4,1881.2 L390.3,1880.1 L391.2,1880.5 L392.2,1879.8 L393.1,1881.1 L394.0,1881.3 L394.9,1881.5 L395.8,1880.7 L396.8,1881.4 L397.7,1880.9 L398.6,1881.2 L399.5,1881.5 L400.4,1882.3 L401.3,1881.4 L402.3,1881.8 L403.2,1881.3 L404.1,1881.5 L405.0,1881.5 L405.9,1881.8 L406.8,1882.4 L407.8,1881.4 L408.7,1882.4 L409.6,1881.5 L410.5,1882.3 L411.4,1881.8 L412.3,1882.0 L413.3,1882.0 L414.2,1882.8 L415.1,1882.4 L416.0,1882.8 L416.9,1882.1 L417.8,1882.2 L418.8,1883.2 L419.7,1881.4 L420.6,1881.9 L421.5,1882.3 L422.4,1883.4 L423.3,1882.1 L424.3,1882.9 L425.2,1883.3 L426.1,1882.3 L427.0,1882.4 L427.9,1883.4 L428.8,1882.2 L429.8,1881.9 L430.7,1883.0 L431.6,1882.3 L432.5,1883.3 L433.4,1882.9 L434.3,1881.6 L435.3,1882.7 L436.2,1882.6 L437.1,1882.2 L438.0,1883.2 L438.9,1881.6 L439.9,1881.9 L440.8,1882.3 L441.7,1883.1 L442.6,1881.8 L443.5,1882.3 L444.4,1882.2 L445.4,1881.8 L446.3,1882.4 L447.2,1881.9 L448.1,1882.3 L449.0,1882.7 L449.9,1882.0 L450.9,1882.0 L451.8,1881.9 L452.7,1881.9 L453.6,1881.4 L454.5,1881.5 L455.4,1882.1 L456.4,1881.4 L457.3,1883.5 L458.2,1881.0 L459.1,1881.2 L460.0,1879.4 L460.9,1878.8 L461.9,1876.4 L462.8,1873.4 L463.7,1869.8 L464.6,1863.9 L465.5,1858.8 L466.4,1857.6 L467.4,1858.9 L468.3,1863.9 L469.2,1870.0 L470.1,1874.1 L471.0,1877.4 L471.9,1879.3 L472.9,1880.3 L473.8,1880.3 L474.7,1881.3 L475.6,1881.6 L476.5,1882.5 L477.4,1882.8 L478.4,1882.7 L479.3,1882.1 L480.2,1883.6 L481.1,1883.5 L482.0,1882.6 L482.9,1882.9 L483.9,1883.2 L484.8,1883.0 L485.7,1882.9 L486.6,1883.2 L487.5,1883.0 L488.5,1883.1 L489.4,1882.2 L490.3,1882.2 L491.2,1884.0 L492.1,1882.3 L493.0,1883.4 L494.0,1883.3 L494.9,1883.3 L495.8,1882.8 L496.7,1883.7 L497.6,1883.4 L498.5,1883.0 L499.5,1882.4 L500.4,1883.1 L501.3,1882.9 L502.2,1882.5 L503.1,1883.4 L504.0,1883.5 L505.0,1883.7 L505.9,1883.3 L506.8,1883.1 L507.7,1883.9 L508.6,1883.7 L509.5,1884.5 L510.5,1883.6 L511.4,1882.7 L512.3,1883.8 L513.2,1884.5 L514.1,1883.4 L515.0,1883.1 L516.0,1882.9 L516.9,1884.3 L517.8,1883.1 L518.7,1883.1 L519.6,1883.4 L520.5,1882.4 L521.5,1883.0 L522.4,1882.4 L523.3,1883.0 L524.2,1883.4 L525.1,1883.6 L526.0,1882.8 L527.0,1883.4 L527.9,1882.7 L528.8,1881.9 L529.7,1882.9 L530.6,1882.3 L531.6,1882.2 L532.5,1880.3 L533.4,1881.3 L534.3,1880.7 L535.2,1880.0 L536.1,1879.6 L537.1,1878.0 L538.0,1878.8 L538.9,1877.6 L539.8,1877.4 L540.7,1876.1 L541.6,1877.0 L542.6,1879.6 L543.5,1879.7 L544.4,1880.6 L545.3,1880.4 L546.2,1881.0 L547.1,1881.6 L548.1,1881.0 L549.0,1882.1 L549.9,1880.7 L550.8,1881.1 L551.7,1880.5 L552.6,1880.3 L553.6,1880.0 L554.5,1877.7 L555.4,1877.3 L556.3,1875.6 L557.2,1874.2 L558.1,1871.7 L559.1,1869.3 L560.0,1867.8 L560.9,1866.3 L561.8,1864.6 L562.7,1863.5 L563.6,1863.6 L564.6,1863.1 L565.5,1864.5 L566.4,1865.7 L567.3,1866.3 L568.2,1866.8 L569.1,1867.3 L570.1,1867.4 L571.0,1867.9 L571.9,1866.1 L572.8,1865.8 L573.7,1867.1 L574.6,1867.5 L575.6,1868.2 L576.5,1871.2 L577.4,1872.0 L578.3,1873.7 L579.2,1875.3 L580.2,1876.6 L581.1,1878.5 L582.0,1879.0 L582.9,1881.7 L583.8,1881.2 L584.7,1881.4 L585.7,1881.6 L586.6,1882.4 L587.5,1883.1 L588.4,1882.9 L589.3,1882.2 L590.2,1882.9 L591.2,1882.2 L592.1,1884.0 L593.0,1883.7 L593.9,1883.5 L594.8,1883.6 L595.7,1883.2 L596.7,1883.4 L597.6,1884.1 L598.5,1883.6 L599.4,1884.0 L600.3,1883.8 L601.2,1883.9 L602.2,1883.9 L603.1,1884.4 L604.0,1883.7 L604.9,1884.2 L605.8,1883.4 L606.7,1883.6 L607.7,1883.5 L608.6,1884.4 L609.5,1883.8 L610.4,1884.7 L611.3,1883.4 L612.2,1884.2 L613.2,1883.4 L614.1,1884.7 L615.0,1883.7 L615.9,1884.3 L616.8,1883.7 L617.7,1883.7 L618.7,1884.3 L619.6,1883.2 L620.5,1883.5 L621.4,1885.0 L622.3,1883.7 L623.3,1884.6 L624.2,1883.7 L625.1,1883.3 L626.0,1884.0 L626.9,1884.7 L627.8,1884.2 L628.8,1884.0 L629.7,1884.7 L630.6,1883.8 L631.5,1884.6 L632.4,1884.4 L633.3,1883.6 L634.3,1884.7 L635.2,1884.8 L636.1,1884.1 L637.0,1884.3 L637.9,1884.1 L638.8,1883.6 L639.8,1884.7 L640.7,1883.7 L641.6,1884.5 L642.5,1883.9 L643.4,1883.7 L644.3,1884.6 L645.3,1884.4 L646.2,1885.2 L647.1,1884.2 L648.0,1884.3 L648.9,1884.3 L649.8,1884.1 L650.8,1885.0 L651.7,1885.1 L652.6,1884.6 L653.5,1883.7 L654.4,1884.5 L655.3,1884.3 L656.3,1884.0 L657.2,1883.4 L658.1,1884.7 L659.0,1884.9 L659.9,1884.4 L660.8,1884.5 L661.8,1885.2 L662.7,1885.3 L663.6,1884.4 L664.5,1882.7 L665.4,1884.6 L666.3,1884.3 L667.3,1884.6 L668.2,1884.0 L669.1,1883.7 L670.0,1884.5 L670.9,1884.1 L671.9,1884.3 L672.8,1884.5 L673.7,1884.3 L674.6,1883.4 L675.5,1884.5 L676.4,1884.0 L677.4,1884.1 L678.3,1884.5 L679.2,1883.4 L680.1,1884.1 L681.0,1883.2 L681.9,1883.9 L682.9,1884.4 L683.8,1884.1 L684.7,1884.0 L685.6,1884.5 L686.5,1884.0 L687.4,1883.3 L688.4,1884.8 L689.3,1884.3 L690.2,1884.6 L691.1,1883.9 L692.0,1883.9 L692.9,1883.7 L693.9,1883.1 L694.8,1883.9 L695.7,1883.8 L696.6,1885.0 L697.5,1883.1 L698.4,1884.1 L699.4,1884.0 L700.3,1884.1 L701.2,1884.0 L702.1,1884.2 L703.0,1884.5 L703.9,1883.2 L704.9,1884.5 L705.8,1883.9 L706.7,1883.5 L707.6,1883.0 L708.5,1883.0 L709.4,1884.0 L710.4,1883.4 L711.3,1883.4 L712.2,1883.7 L713.1,1884.0 L714.0,1883.7 L715.0,1883.4 L715.9,1883.6 L716.8,1883.9 L717.7,1883.4 L718.6,1884.4 L719.5,1884.6 L720.5,1884.6 L721.4,1883.8 L722.3,1883.7 L723.2,1883.4 L724.1,1884.7 L725.0,1883.6 L726.0,1885.1 L726.9,1882.8 L727.8,1884.0 L728.7,1884.1 L729.6,1883.8 L730.5,1884.1 L731.5,1884.9 L732.4,1883.8 L733.3,1884.2 L734.2,1883.5 L735.1,1883.0 L736.0,1883.1 L737.0,1884.1 L737.9,1883.8 L738.8,1882.9 L739.7,1883.8 L740.6,1883.9 L741.5,1883.8 L742.5,1884.1 L743.4,1882.7 L744.3,1882.9 L745.2,1882.8 L746.1,1883.4 L747.0,1884.0 L748.0,1883.0 L748.9,1883.4 L749.8,1883.6 L750.7,1882.8 L751.6,1883.4 L752.5,1882.8 L753.5,1883.7 L754.4,1883.4 L755.3,1882.2 L756.2,1882.0 L757.1,1883.2 L758.0,1881.5 L759.0,1882.3 L759.9,1881.2 L760.8,1880.4 L761.7,1881.6 L762.6,1880.3 L763.6,1878.8 L764.5,1878.3 L765.4,1876.6 L766.3,1874.1 L767.2,1871.0 L768.1,1866.2 L769.1,1857.1 L770.0,1848.4 L770.9,1836.6 L771.8,1828.2 L772.7,1823.4 L773.6,1826.6 L774.6,1835.3 L775.5,1846.1 L776.4,1854.9 L777.3,1861.0 L778.2,1865.3 L779.1,1867.8 L780.1,1870.0 L781.0,1868.2 L781.9,1866.5 L782.8,1864.2 L783.7,1861.5 L784.6,1859.0 L785.6,1855.9 L786.5,1851.9 L787.4,1853.2 L788.3,1852.7 L789.2,1854.2 L790.1,1858.1 L791.1,1858.3 L792.0,1860.8 L792.9,1864.0 L793.8,1864.8 L794.7,1866.4 L795.6,1867.3 L796.6,1868.1 L797.5,1867.8 L798.4,1867.4 L799.3,1867.0 L800.2,1868.1 L801.1,1867.1 L802.1,1868.1 L803.0,1867.4 L803.9,1867.7 L804.8,1867.1 L805.7,1865.2 L806.7,1861.8 L807.6,1858.1 L808.5,1850.5 L809.4,1840.9 L810.3,1827.3 L811.2,1813.7 L812.2,1797.6 L813.1,1787.7 L814.0,1788.7 L814.9,1799.4 L815.8,1816.2 L816.7,1831.6 L817.7,1844.6 L818.6,1855.9 L819.5,1863.2 L820.4,1868.4 L821.3,1873.3 L822.2,1875.2 L823.2,1876.2 L824.1,1877.3 L825.0,1878.8 L825.9,1879.6 L826.8,1879.3 L827.7,1879.3 L828.7,1881.1 L829.6,1880.6 L830.5,1880.3 L831.4,1881.4 L832.3,1881.9 L833.2,1882.5 L834.2,1881.9 L835.1,1882.4 L836.0,1881.7 L836.9,1882.8 L837.8,1881.8 L838.7,1883.1 L839.7,1882.9 L840.6,1882.1 L841.5,1882.6 L842.4,1883.9 L843.3,1882.5 L844.2,1882.2 L845.2,1883.0 L846.1,1883.3 L847.0,1883.7 L847.9,1883.1 L848.8,1883.0 L849.7,1883.1 L850.7,1883.7 L851.6,1883.2 L852.5,1883.6 L853.4,1882.3 L854.3,1883.0 L855.3,1883.1 L856.2,1883.7 L857.1,1883.4 L858.0,1883.2 L858.9,1883.6 L859.8,1883.0 L860.8,1884.5 L861.7,1882.1 L862.6,1882.5 L863.5,1883.3 L864.4,1882.6 L865.3,1882.1 L866.3,1882.2 L867.2,1881.2 L868.1,1881.2 L869.0,1881.0 L869.9,1881.7 L870.8,1880.5 L871.8,1881.1 L872.7,1879.6 L873.6,1879.4 L874.5,1877.9 L875.4,1878.7 L876.3,1876.9 L877.3,1877.9 L878.2,1877.6 L879.1,1876.8 L880.0,1875.7 L880.9,1875.9 L881.8,1874.7 L882.8,1876.2 L883.7,1877.3 L884.6,1878.0 L885.5,1878.6 L886.4,1880.3 L887.3,1880.4 L888.3,1880.9 L889.2,1881.5 L890.1,1881.2 L891.0,1882.1 L891.9,1881.4 L892.8,1881.2 L893.8,1882.7 L894.7,1883.6 L895.6,1882.6 L896.5,1883.5 L897.4,1882.4 L898.4,1883.5 L899.3,1883.6 L900.2,1883.6 L901.1,1882.9 L902.0,1884.1 L902.9,1884.2 L903.9,1884.1 L904.8,1885.1 L905.7,1883.7 L906.6,1884.0 L907.5,1884.6 L908.4,1883.2 L909.4,1883.5 L910.3,1884.6 L911.2,1883.8 L912.1,1883.6 L913.0,1884.3 L913.9,1883.3 L914.9,1884.2 L915.8,1883.5 L916.7,1883.7 L917.6,1882.6 L918.5,1884.2 L919.4,1884.3 L920.4,1884.0 L921.3,1883.8 L922.2,1884.3 L923.1,1885.0 L924.0,1884.7 L924.9,1883.8 L925.9,1884.3 L926.8,1884.1 L927.7,1884.5 L928.6,1883.8 L929.5,1885.0 L930.4,1883.8 L931.4,1883.7 L932.3,1884.4 L933.2,1885.2 L934.1,1883.3 L935.0,1884.3 L935.9,1884.6 L936.9,1885.8 L937.8,1883.4 L938.7,1884.9 L939.6,1883.9 L940.5,1884.1 L941.4,1884.8 L942.4,1884.3 L943.3,1883.5 L944.2,1884.2 L945.1,1884.1 L946.0,1884.4 L947.0,1883.8 L947.9,1883.9 L948.8,1884.1 L949.7,1884.3 L950.6,1884.2 L951.5,1884.5 L952.5,1884.7 L953.4,1884.5 L954.3,1883.9 L955.2,1883.5 L956.1,1883.8 L957.0,1883.9 L958.0,1884.2 L958.9,1884.8 L959.8,1884.3 L960.7,1883.8 L961.6,1883.6 L962.5,1884.2 L963.5,1884.2 L964.4,1883.7 L965.3,1883.4 L966.2,1884.1 L967.1,1884.5 L968.0,1884.4 L969.0,1883.5 L969.9,1884.1 L970.8,1884.2 L971.7,1883.8 L972.6,1884.3 L973.5,1884.0 L974.5,1884.8 L975.4,1883.9 L976.3,1885.2 L977.2,1884.9 L978.1,1884.5 L979.0,1884.5 L980.0,1885.1 L980.9,1884.1 L981.8,1884.6 L982.7,1884.2 L983.6,1885.2 L984.5,1884.2 L985.5,1884.2 L986.4,1882.9 L987.3,1884.5 L988.2,1884.2 L989.1,1884.7 L990.1,1883.6 L991.0,1883.9 L991.9,1885.1 L992.8,1883.9 L993.7,1884.5 L994.6,1884.9 L995.6,1884.4 L996.5,1884.4 L997.4,1885.0 L998.3,1884.1 L999.2,1884.7 L1000.1,1884.2 L1001.1,1883.7 L1002.0,1884.4 L1002.9,1885.1 L1003.8,1884.3 L1004.7,1884.0 L1005.6,1884.3 L1006.6,1884.1 L1007.5,1884.7 L1008.4,1883.8 L1009.3,1884.9 L1010.2,1884.6 L1011.1,1885.1 L1012.1,1884.1 L1013.0,1884.9 L1013.9,1883.8 L1014.8,1884.7 L1015.7,1884.3 L1016.6,1883.8 L1017.6,1884.8 L1018.5,1885.2 L1019.4,1885.4 L1020.3,1884.6 L1021.2,1884.3 L1022.1,1885.2 L1023.1,1883.9 L1024.0,1884.5 L1024.9,1883.6 L1025.8,1884.5 L1026.7,1884.5 L1027.6,1884.2 L1028.6,1885.0 L1029.5,1884.3 L1030.4,1884.6 L1031.3,1884.7 L1032.2,1884.3 L1033.1,1883.0 L1034.1,1884.2 L1035.0,1884.5 L1035.9,1883.8 L1036.8,1884.4 L1037.7,1883.6 L1038.7,1884.7 L1039.6,1884.7 L1040.5,1884.6 L1041.4,1884.1 L1042.3,1884.5 L1043.2,1883.7 L1044.2,1883.9 L1045.1,1884.6 L1046.0,1884.0 L1046.9,1884.2 L1047.8,1884.4 L1048.7,1885.0 L1049.7,1884.0 L1050.6,1884.1 L1051.5,1884.0 L1052.4,1883.5 L1053.3,1884.5 L1054.2,1883.2 L1055.2,1883.9 L1056.1,1885.1 L1057.0,1884.4 L1057.9,1883.1 L1058.8,1883.8 L1059.7,1885.3 L1060.7,1884.2 L1061.6,1885.4 L1062.5,1884.0 L1063.4,1883.0 L1064.3,1884.5 L1065.2,1884.2 L1066.2,1884.5 L1067.1,1883.8 L1068.0,1883.8 L1068.9,1884.0 L1069.8,1883.8 L1070.7,1884.8 L1071.7,1885.0 L1072.6,1884.2 L1073.5,1884.9 L1074.4,1883.9 L1075.3,1884.2 L1076.2,1883.4 L1077.2,1885.0 L1078.1,1884.0 L1079.0,1885.0 L1079.9,1885.0 L1080.8,1884.6 L1081.8,1884.5 L1082.7,1883.8 L1083.6,1884.8 L1084.5,1884.7 L1085.4,1884.9 L1086.3,1884.5 L1087.3,1883.7 L1088.2,1883.7 L1089.1,1884.8 L1090.0,1885.2 L1090.9,1884.2 L1091.8,1884.3 L1092.8,1884.5 L1093.7,1884.4 L1094.6,1884.5 L1095.5,1884.2 L1096.4,1884.4 L1097.3,1884.0 L1098.3,1884.2 L1099.2,1884.6 L1100.1,1884.3 L1101.0,1883.9 L1101.9,1884.4 L1102.8,1883.6 L1103.8,1883.9 L1104.7,1883.7 L1105.6,1884.4 L1106.5,1884.6 L1107.4,1884.0 L1108.3,1883.7 L1109.3,1884.4 L1110.2,1884.3 L1111.1,1883.3 L1112.0,1884.7 L1112.9,1884.6 L1113.8,1884.0 L1114.8,1884.1 L1115.7,1884.0 L1116.6,1883.8 L1117.5,1884.3 L1118.4,1883.6 L1119.3,1883.9 L1120.3,1884.1 L1121.2,1883.0 L1122.1,1883.7 L1123.0,1883.2 L1123.9,1883.6 L1124.8,1883.6 L1125.8,1883.7 L1126.7,1883.8 L1127.6,1883.2 L1128.5,1883.8 L1129.4,1882.7 L1130.4,1884.1 L1131.3,1883.5 L1132.2,1883.9 L1133.1,1882.3 L1134.0,1884.0 L1134.9,1883.0 L1135.9,1883.2 L1136.8,1882.9 L1137.7,1882.6 L1138.6,1882.1 L1139.5,1880.9 L1140.4,1882.3 L1141.4,1882.1 L1142.3,1880.1 L1143.2,1880.3 L1144.1,1879.2 L1145.0,1877.7 L1145.9,1876.2 L1146.9,1875.2 L1147.8,1873.1 L1148.7,1871.8 L1149.6,1870.3 L1150.5,1869.0 L1151.4,1868.2 L1152.4,1868.5 L1153.3,1868.6 L1154.2,1868.2 L1155.1,1869.4 L1156.0,1870.2 L1156.9,1870.3 L1157.9,1872.6 L1158.8,1871.9 L1159.7,1873.4 L1160.6,1871.4 L1161.5,1871.9 L1162.4,1872.1 L1163.4,1871.0 L1164.3,1869.9 L1165.2,1868.4 L1166.1,1868.5 L1167.0,1866.6 L1167.9,1866.4 L1168.9,1866.0 L1169.8,1866.6 L1170.7,1869.0 L1171.6,1870.4 L1172.5,1870.3 L1173.5,1872.7 L1174.4,1875.3 L1175.3,1876.1 L1176.2,1878.0 L1177.1,1877.6 L1178.0,1879.7 L1179.0,1880.4 L1179.9,1881.1 L1180.8,1881.3 L1181.7,1882.1 L1182.6,1883.4 L1183.5,1882.1 L1184.5,1882.9 L1185.4,1882.9 L1186.3,1883.0 L1187.2,1884.3 L1188.1,1884.3 L1189.0,1883.3 L1190.0,1883.9 L1190.9,1883.2 L1191.8,1883.9 L1192.7,1883.5 L1193.6,1884.6 L1194.5,1884.1 L1195.5,1883.3 L1196.4,1882.9 L1197.3,1883.3 L1198.2,1885.1 L1199.1,1883.4 L1200.0,1883.2 L1201.0,1883.6 L1201.9,1883.8 L1202.8,1884.4 L1203.7,1883.7 L1204.6,1885.0 L1205.5,1884.1 L1206.5,1884.3 L1207.4,1884.9 L1208.3,1884.3 L1209.2,1884.3 L1210.1,1884.5 L1211.0,1883.8 L1212.0,1883.9 L1212.9,1884.6 L1213.8,1883.8 L1214.7,1883.9 L1215.6,1884.8 L1216.5,1884.6 L1217.5,1884.4 L1218.4,1883.6 L1219.3,1885.4 L1220.2,1884.2 L1221.1,1884.1 L1222.1,1884.2 L1223.0,1883.8 L1223.9,1884.1 L1224.8,1885.4 L1225.7,1883.4 L1226.6,1885.5 L1227.6,1883.8 L1228.5,1883.8 L1229.4,1885.0 L1230.3,1885.4 L1231.2,1884.1 L1232.1,1884.8 L1233.1,1883.9 L1234.0,1884.1 L1234.9,1883.9 L1235.8,1884.4 L1236.7,1883.9 L1237.6,1884.4 L1238.6,1884.1 L1239.5,1884.3 L1240.4,1884.3 L1241.3,1883.9 L1242.2,1884.0 L1243.1,1883.6 L1244.1,1884.5 L1245.0,1884.7 L1245.9,1884.0 L1246.8,1884.1 L1247.7,1883.9 L1248.6,1884.0 L1249.6,1884.3 L1250.5,1883.3 L1251.4,1883.4 L1252.3,1884.2 L1253.2,1884.7 L1254.1,1883.8 L1255.1,1884.6 L1256.0,1884.7 L1256.9,1884.2 L1257.8,1885.3 L1258.7,1884.0 L1259.6,1884.1 L1260.6,1883.4 L1261.5,1883.5 L1262.4,1884.0 L1263.3,1884.3 L1264.2,1883.8 L1265.2,1883.8 L1266.1,1883.8 L1267.0,1884.0 L1267.9,1882.5 L1268.8,1883.7 L1269.7,1882.5 L1270.7,1882.9 L1271.6,1882.7 L1272.5,1881.1 L1273.4,1881.9 L1274.3,1880.8 L1275.2,1880.0 L1276.2,1880.8 L1277.1,1878.7 L1278.0,1878.3 L1278.9,1879.2 L1279.8,1879.6 L1280.7,1879.6 L1281.7,1880.5 L1282.6,1879.3 L1283.5,1881.7 L1284.4,1881.7 L1285.3,1881.4 L1286.2,1881.6 L1287.2,1882.8 L1288.1,1882.9 L1289.0,1882.5 L1289.9,1882.9 L1290.8,1882.9 L1291.7,1883.4 L1292.7,1882.2 L1293.6,1883.1 L1294.5,1882.4 L1295.4,1882.1 L1296.3,1882.1 L1297.2,1881.3 L1298.2,1880.5 L1299.1,1880.1 L1300.0,1881.3 L1300.9,1879.5 L1301.8,1880.9 L1302.7,1879.8 L1303.7,1880.7 L1304.6,1879.6 L1305.5,1880.4 L1306.4,1880.6 L1307.3,1881.1 L1308.2,1880.7 L1309.2,1881.5 L1310.1,1882.3 L1311.0,1881.0 L1311.9,1882.5 L1312.8,1881.6 L1313.8,1882.8 L1314.7,1882.2 L1315.6,1883.3 L1316.5,1882.4 L1317.4,1882.3 L1318.3,1883.1 L1319.3,1882.3 L1320.2,1882.2 L1321.1,1882.7 L1322.0,1882.8 L1322.9,1882.4 L1323.8,1880.7 L1324.8,1881.8 L1325.7,1881.6 L1326.6,1881.8 L1327.5,1881.9 L1328.4,1881.8 L1329.3,1881.5 L1330.3,1882.5 L1331.2,1881.4 L1332.1,1881.2 L1333.0,1881.1 L1333.9,1881.8 L1334.8,1882.6 L1335.8,1882.4 L1336.7,1883.4 L1337.6,1882.8 L1338.5,1882.7 L1339.4,1884.0 L1340.3,1883.2 L1341.3,1884.1 L1342.2,1882.3 L1343.1,1883.0 L1344.0,1883.5 L1344.9,1883.3 L1345.8,1884.1 L1346.8,1884.0 L1347.7,1884.2 L1348.6,1883.6 L1349.5,1883.7 L1350.4,1883.8 L1351.3,1885.0 L1352.3,1884.0 L1353.2,1884.7 L1354.1,1883.8 L1355.0,1883.5 L1355.9,1884.3 L1356.9,1884.8 L1357.8,1883.3 L1358.7,1884.0 L1359.6,1884.6 L1360.5,1884.1 L1361.4,1884.1 L1362.4,1884.7 L1363.3,1884.4 L1364.2,1884.4 L1365.1,1884.0 L1366.0,1884.4 L1366.9,1884.0 L1367.9,1885.1 L1368.8,1882.6 L1369.7,1884.3 L1370.6,1884.7 L1371.5,1883.8 L1372.4,1884.6 L1373.4,1883.9 L1374.3,1884.7 L1375.2,1885.2 L1376.1,1884.1 L1377.0,1885.5 L1377.9,1884.2 L1378.9,1882.9 L1379.8,1884.0 L1380.7,1884.3 L1381.6,1884.4 L1382.5,1884.2 L1383.4,1884.4 L1384.4,1884.1 L1385.3,1884.9 L1386.2,1884.4 L1387.1,1884.1 L1388.0,1885.2 L1388.9,1883.4 L1389.9,1883.1 L1390.8,1883.7 L1391.7,1882.7 L1392.6,1884.3 L1393.5,1883.8 L1394.4,1885.1 L1395.4,1883.4 L1396.3,1883.2 L1397.2,1884.2 L1398.1,1884.1 L1399.0,1884.1 L1399.9,1883.3 L1400.9,1883.2 L1401.8,1883.7 L1402.7,1883.1 L1403.6,1883.3 L1404.5,1883.4 L1405.5,1882.3 L1406.4,1882.2 L1407.3,1880.2 L1408.2,1881.2 L1409.1,1880.0 L1410.0,1877.6 L1411.0,1875.5 L1411.9,1873.5 L1412.8,1871.4 L1413.7,1869.5 L1414.6,1868.5 L1415.5,1869.7 L1416.5,1871.9 L1417.4,1872.4 L1418.3,1875.3 L1419.2,1877.1 L1420.1,1878.5 L1421.0,1880.3 L1422.0,1880.0 L1422.9,1881.7 L1423.8,1882.8 L1424.7,1883.2 L1425.6,1883.3 L1426.5,1883.3 L1427.5,1883.8 L1428.4,1883.5 L1429.3,1883.8 L1430.2,1884.0 L1431.1,1884.5 L1432.0,1884.3 L1433.0,1884.2 L1433.9,1883.0 L1434.8,1884.0 L1435.7,1883.9 L1436.6,1883.5 L1437.5,1883.3 L1438.5,1884.2 L1439.4,1883.9 L1440.3,1883.6 L1441.2,1883.2 L1442.1,1883.3 L1443.0,1883.4 L1444.0,1883.8 L1444.9,1884.5 L1445.8,1883.6 L1446.7,1882.3 L1447.6,1883.5 L1448.6,1883.4 L1449.5,1882.4 L1450.4,1881.9 L1451.3,1882.2 L1452.2,1882.1 L1453.1,1881.1 L1454.1,1880.7 L1455.0,1878.5 L1455.9,1876.9 L1456.8,1874.6 L1457.7,1873.8 L1458.6,1871.9 L1459.6,1871.5 L1460.5,1870.5 L1461.4,1872.3 L1462.3,1875.3 L1463.2,1877.3 L1464.1,1878.3 L1465.1,1879.7 L1466.0,1881.3 L1466.9,1881.2 L1467.8,1882.2 L1468.7,1882.1 L1469.6,1882.6 L1470.6,1883.6 L1471.5,1882.4 L1472.4,1883.0 L1473.3,1882.2 L1474.2,1883.8 L1475.1,1883.8 L1476.1,1885.3 L1477.0,1883.6 L1477.9,1884.0 L1478.8,1884.5 L1479.7,1884.3 L1480.6,1883.8 L1481.6,1884.7 L1482.5,1882.5 L1483.4,1884.3 L1484.3,1883.6 L1485.2,1883.6 L1486.1,1883.5 L1487.1,1884.2 L1488.0,1883.5 L1488.9,1884.1 L1489.8,1885.0 L1490.7,1883.7 L1491.6,1884.1 L1492.6,1883.7 L1493.5,1883.3 L1494.4,1884.4 L1495.3,1884.7 L1496.2,1883.7 L1497.2,1884.1 L1498.1,1883.9 L1499.0,1883.6 L1499.9,1884.5 L1500.8,1882.9 L1501.7,1884.8 L1502.7,1883.7 L1503.6,1884.9 L1504.5,1884.2 L1505.4,1883.9 L1506.3,1883.0 L1507.2,1883.1 L1508.2,1884.2 L1509.1,1883.4 L1510.0,1884.3 L1510.9,1883.0 L1511.8,1884.3 L1512.7,1883.7 L1513.7,1883.8 L1514.6,1883.1 L1515.5,1883.3 L1516.4,1883.7 L1517.3,1883.4 L1518.2,1882.7 L1519.2,1883.3 L1520.1,1882.2 L1521.0,1884.0 L1521.9,1883.1 L1522.8,1882.3 L1523.7,1882.2 L1524.7,1881.5 L1525.6,1881.8 L1526.5,1879.8 L1527.4,1880.6 L1528.3,1880.6 L1529.2,1877.0 L1530.2,1876.0 L1531.1,1872.3 L1532.0,1867.9 L1532.9,1861.4 L1533.8,1855.7 L1534.7,1847.4 L1535.7,1843.0 L1536.6,1840.7 L1537.5,1842.4 L1538.4,1848.1 L1539.3,1853.6 L1540.3,1861.0 L1541.2,1865.7 L1542.1,1871.8 L1543.0,1875.2 L1543.9,1875.6 L1544.8,1877.7 L1545.8,1877.9 L1546.7,1877.0 L1547.6,1877.5 L1548.5,1877.1 L1549.4,1876.7 L1550.3,1875.0 L1551.3,1874.1 L1552.2,1873.3 L1553.1,1871.3 L1554.0,1868.9 L1554.9,1868.6 L1555.8,1868.9 L1556.8,1869.9 L1557.7,1869.8 L1558.6,1871.4 L1559.5,1872.8 L1560.4,1875.0 L1561.3,1875.7 L1562.3,1876.9 L1563.2,1876.7 L1564.1,1877.6 L1565.0,1877.2 L1565.9,1877.7 L1566.8,1878.1 L1567.8,1878.1 L1568.7,1877.3 L1569.6,1876.0 L1570.5,1875.8 L1571.4,1872.6 L1572.3,1871.9 L1573.3,1871.5 L1574.2,1870.0 L1575.1,1869.7 L1576.0,1870.5 L1576.9,1870.6 L1577.8,1872.0 L1578.8,1873.7 L1579.7,1876.5 L1580.6,1876.2 L1581.5,1877.8 L1582.4,1880.5 L1583.3,1880.3 L1584.3,1880.7 L1585.2,1880.4 L1586.1,1882.0 L1587.0,1882.2 L1587.9,1883.1 L1588.9,1882.3 L1589.8,1882.6 L1590.7,1883.6 L1591.6,1882.7 L1592.5,1884.2 L1593.4,1883.3 L1594.4,1883.7 L1595.3,1883.3 L1596.2,1884.6 L1597.1,1883.4 L1598.0,1884.5 L1598.9,1883.5 L1599.9,1884.1 L1600.8,1883.4 L1601.7,1884.4 L1602.6,1884.8 L1603.5,1883.7 L1604.4,1885.0 L1605.4,1884.1 L1606.3,1883.7 L1607.2,1884.2 L1608.1,1883.9 L1609.0,1884.3 L1609.9,1883.9 L1610.9,1883.3 L1611.8,1884.9 L1612.7,1884.3 L1613.6,1884.0 L1614.5,1884.5 L1615.4,1883.5 L1616.4,1884.1 L1617.3,1884.6 L1618.2,1885.0 L1619.1,1884.4 L1620.0,1884.7 L1620.9,1883.3 L1621.9,1884.3 L1622.8,1884.8 L1623.7,1885.0 L1624.6,1883.6 L1625.5,1885.2 L1626.4,1885.7 L1627.4,1884.4 L1628.3,1883.4 L1629.2,1884.7 L1630.1,1884.7 L1631.0,1884.1 L1632.0,1885.1 L1632.9,1885.3 L1633.8,1883.8 L1634.7,1883.7 L1635.6,1884.5 L1636.5,1885.0 L1637.5,1883.6 L1638.4,1883.9 L1639.3,1884.2 L1640.2,1883.8 L1641.1,1884.2 L1642.0,1884.9 L1643.0,1883.8 L1643.9,1884.7 L1644.8,1884.3 L1645.7,1884.1 L1646.6,1883.5 L1647.5,1884.4 L1648.5,1884.6 L1649.4,1883.8 L1650.3,1884.8 L1651.2,1884.8 L1652.1,1884.4 L1653.0,1883.8 L1654.0,1884.2 L1654.9,1884.8 L1655.8,1884.8 L1656.7,1884.2 L1657.6,1884.1 L1658.5,1884.7 L1659.5,1884.6 L1660.4,1884.8 L1661.3,1883.6 L1662.2,1884.2 L1663.1,1884.7 L1664.0,1883.8 L1665.0,1884.3 L1665.9,1883.8 L1666.8,1884.7 L1667.7,1884.9 L1668.6,1883.9 L1669.5,1885.5 L1670.5,1884.6 L1671.4,1883.9 L1672.3,1884.4 L1673.2,1883.8 L1674.1,1884.6 L1675.0,1883.9 L1676.0,1883.5 L1676.9,1883.8 L1677.8,1883.2 L1678.7,1882.5 L1679.6,1883.0 L1680.6,1884.0 L1681.5,1883.3 L1682.4,1883.7 L1683.3,1883.1 L1684.2,1883.2 L1685.1,1883.3 L1686.1,1883.4 L1687.0,1882.2 L1687.9,1882.0 L1688.8,1882.1 L1689.7,1882.5 L1690.6,1881.1 L1691.6,1879.9 L1692.5,1878.8 L1693.4,1877.3 L1694.3,1875.4 L1695.2,1874.1 L1696.1,1872.5 L1697.1,1869.4 L1698.0,1866.9 L1698.9,1866.0 L1699.8,1868.7 L1700.7,1868.3 L1701.6,1872.6 L1702.6,1873.8 L1703.5,1875.5 L1704.4,1877.8 L1705.3,1878.7 L1706.2,1880.7 L1707.1,1880.4 L1708.1,1881.4 L1709.0,1881.4 L1709.9,1882.3 L1710.8,1882.7 L1711.7,1881.7 L1712.6,1881.6 L1713.6,1883.1 L1714.5,1883.0 L1715.4,1882.8 L1716.3,1882.2 L1717.2,1881.8 L1718.1,1881.8 L1719.1,1882.2 L1720.0,1881.4 L1720.9,1881.0 L1721.8,1881.2 L1722.7,1881.2 L1723.7,1880.5 L1724.6,1878.4 L1725.5,1877.4 L1726.4,1875.4 L1727.3,1873.5 L1728.2,1871.5 L1729.2,1869.8 L1730.1,1869.4 L1731.0,1870.3 L1731.9,1872.3 L1732.8,1872.5 L1733.7,1874.7 L1734.7,1876.1 L1735.6,1878.5 L1736.5,1880.7 L1737.4,1880.5 L1738.3,1880.2 L1739.2,1881.7 L1740.2,1882.9 L1741.1,1881.5 L1742.0,1880.9 L1742.9,1881.1 L1743.8,1882.5 L1744.7,1881.2 L1745.7,1883.1 L1746.6,1880.8 L1747.5,1881.9 L1748.4,1881.0 L1749.3,1881.9 L1750.2,1881.2 L1751.2,1880.7 L1752.1,1880.0 L1753.0,1878.0 L1753.9,1877.2 L1754.8,1875.0 L1755.7,1873.5 L1756.7,1871.9 L1757.6,1870.0 L1758.5,1868.4 L1759.4,1868.4 L1760.3,1869.4 L1761.2,1870.9 L1762.2,1872.7 L1763.1,1875.8 L1764.0,1877.0 L1764.9,1877.9 L1765.8,1879.5 L1766.7,1879.7 L1767.7,1879.6 L1768.6,1880.8 L1769.5,1880.6 L1770.4,1879.2 L1771.3,1881.7 L1772.3,1880.3 L1773.2,1879.2 L1774.1,1880.8 L1775.0,1880.0 L1775.9,1879.8 L1776.8,1880.3 L1777.8,1879.7 L1778.7,1879.2 L1779.6,1878.9 L1780.5,1878.5 L1781.4,1878.1 L1782.3,1877.1 L1783.3,1878.2 L1784.2,1877.3 L1785.1,1877.0 L1786.0,1877.2 L1786.9,1876.1 L1787.8,1876.0 L1788.8,1876.3 L1789.7,1875.6 L1790.6,1874.9 L1791.5,1874.7 L1792.4,1876.7 L1793.3,1874.6 L1794.3,1876.0 L1795.2,1874.2 L1796.1,1874.7 L1797.0,1874.1 L1797.9,1873.6 L1798.8,1873.9 L1799.8,1875.0 L1800.7,1873.1 L1801.6,1872.5 L1802.5,1872.7 L1803.4,1871.1 L1804.3,1870.0 L1805.3,1868.0 L1806.2,1867.3 L1807.1,1864.6 L1808.0,1859.8 L1808.9,1858.1 L1809.8,1854.0 L1810.8,1850.8 L1811.7,1848.1 L1812.6,1847.9 L1813.5,1849.4 L1814.4,1851.4 L1815.4,1855.7 L1816.3,1859.8 L1817.2,1863.3 L1818.1,1867.0 L1819.0,1870.3 L1819.9,1873.4 L1820.9,1874.5 L1821.8,1876.5 L1822.7,1878.4 L1823.6,1879.6 L1824.5,1878.8 L1825.4,1880.3 L1826.4,1880.6 L1827.3,1880.8 L1828.2,1881.1 L1829.1,1882.7 L1830.0,1882.6 L1830.9,1882.1 L1831.9,1882.5 L1832.8,1882.6 L1833.7,1882.7 L1834.6,1883.4 L1835.5,1882.8 L1836.4,1883.6 L1837.4,1882.5 L1838.3,1883.5 L1839.2,1883.4 L1840.1,1883.2 L1841.0,1883.8 L1841.9,1883.7 L1842.9,1883.5 L1843.8,1884.5 L1844.7,1883.7 L1845.6,1883.7 L1846.5,1883.6 L1847.4,1884.5 L1848.4,1884.5 L1849.3,1882.6 L1850.2,1883.5 L1851.1,1884.2 L1852.0,1884.6 L1852.9,1884.3 L1853.9,1884.0 L1854.8,1884.9 L1855.7,1883.8 L1856.6,1884.2 L1857.5,1884.2 L1858.4,1884.3 L1859.4,1883.7 L1860.3,1884.1 L1861.2,1884.6 L1862.1,1884.8 L1863.0,1884.7 L1864.0,1884.5 L1864.9,1884.1 L1865.8,1884.7 L1866.7,1884.3 L1867.6,1884.4 L1868.5,1884.6 L1869.5,1883.9 L1870.4,1884.7 L1871.3,1885.0 L1872.2,1883.5 L1873.1,1884.2 L1874.0,1884.2 L1875.0,1885.3 L1875.9,1884.5 L1876.8,1884.7 L1877.7,1884.8 L1878.6,1884.0 L1879.5,1883.7 L1880.5,1885.0 L1881.4,1885.1 L1882.3,1884.9 L1883.2,1884.9 L1884.1,1884.0 L1885.0,1884.0 L1886.0,1884.4 L1886.9,1884.8 L1887.8,1884.3 L1888.7,1884.3 L1889.6,1884.7 L1890.5,1885.3 L1891.5,1883.6 L1892.4,1884.3 L1893.3,1883.6 L1894.2,1883.5 L1895.1,1885.1 L1896.0,1883.9 L1897.0,1884.7 L1897.9,1885.1 L1898.8,1884.9 L1899.7,1883.9 L1900.6,1884.7 L1901.5,1884.4 L1902.5,1884.1 L1903.4,1884.3 L1904.3,1884.2 L1905.2,1885.1 L1906.1,1884.5 L1907.1,1884.3 L1908.0,1884.7 L1908.9,1884.7 L1909.8,1884.8 L1910.7,1885.1 L1911.6,1884.1 L1912.6,1884.2 L1913.5,1885.1 L1914.4,1884.1 L1915.3,1884.9 L1916.2,1883.3 L1917.1,1884.5 L1918.1,1884.0 L1919.0,1884.4 L1919.9,1884.7 L1920.8,1883.4 L1921.7,1883.7 L1922.6,1884.5 L1923.6,1883.9 L1924.5,1884.6 L1925.4,1884.5 L1926.3,1883.9 L1927.2,1885.0 L1928.1,1884.9 L1929.1,1884.7 L1930.0,1884.2 L1930.9,1884.2 L1931.8,1883.7 L1932.7,1883.4 L1933.6,1884.3 L1934.6,1884.9 L1935.5,1884.3 L1936.4,1884.8 L1937.3,1884.2 L1938.2,1884.2 L1939.1,1884.2 L1940.1,1885.1 L1941.0,1883.8 L1941.9,1884.1 L1942.8,1884.9 L1943.7,1885.0 L1944.6,1884.8 L1945.6,1885.9 L1946.5,1884.4 L1947.4,1884.5 L1948.3,1884.1 L1949.2,1884.3 L1950.1,1885.4 L1951.1,1885.0 L1952.0,1884.2 L1952.9,1885.1 L1953.8,1883.9 L1954.7,1885.4 L1955.7,1884.2 L1956.6,1884.8 L1957.5,1883.6 L1958.4,1884.4 L1959.3,1884.1 L1960.2,1884.2 L1961.2,1884.2 L1962.1,1883.3 L1963.0,1883.3 L1963.9,1885.0 L1964.8,1883.5 L1965.7,1882.9 L1966.7,1884.4 L1967.6,1884.1 L1968.5,1884.1 L1969.4,1883.7 L1970.3,1884.3 L1971.2,1884.4 L1972.2,1883.7 L1973.1,1884.0 L1974.0,1882.6 L1974.9,1883.4 L1975.8,1883.0 L1976.7,1882.7 L1977.7,1883.8 L1978.6,1882.0 L1979.5,1883.2 L1980.4,1882.2 L1981.3,1883.4 L1982.2,1882.7 L1983.2,1883.0 L1984.1,1882.2 L1985.0,1881.4 L1985.9,1883.4 L1986.8,1881.8 L1987.7,1881.2 L1988.7,1882.3 L1989.6,1882.7 L1990.5,1881.4 L1991.4,1881.0 L1992.3,1881.5 L1993.2,1881.5 L1994.2,1881.4 L1995.1,1880.7 L1996.0,1880.8"/>
</g>
<line x1="876.5" y1="122.0" x2="876.5" y2="1343.0" stroke="#808080" stroke-width="2.6" stroke-dasharray="7.5,6"/><path d="M871.7,1343.0 L881.3,1343.0 L876.5,1356.0 Z" fill="#111"/>
<line x1="1022.8" y1="128.0" x2="1022.8" y2="1346.0" stroke="#808080" stroke-width="2.6" stroke-dasharray="7.5,6"/><path d="M1018.0,1346.0 L1027.6,1346.0 L1022.8,1359.0 Z" fill="#111"/>
<line x1="1486.5" y1="206.0" x2="1486.5" y2="1354.0" stroke="#808080" stroke-width="2.6" stroke-dasharray="7.5,6"/><path d="M1481.7,1354.0 L1491.3,1354.0 L1486.5,1367.0 Z" fill="#111"/>
<rect x="162" y="20.5" width="1836" height="2.6" fill="#2e2e2e"/>
<rect x="167.6" y="23.1" width="1827.6" height="2.4" fill="#e4e4e4"/>
<rect x="1995.2" y="20.5" width="2.8" height="1894.5" fill="#383838"/>
<rect x="1998" y="23" width="2.6" height="1883" fill="#d2d2d2"/>
<rect x="162" y="1904" width="1836" height="2.4" fill="#050505"/>
<rect x="160.8" y="1904" width="2.4" height="10.5" fill="#151515"/>
<rect x="390.1" y="1904" width="2.4" height="10.5" fill="#151515"/>
<rect x="619.3" y="1904" width="2.4" height="10.5" fill="#151515"/>
<rect x="848.5" y="1904" width="2.4" height="10.5" fill="#151515"/>
<rect x="1077.8" y="1904" width="2.4" height="10.5" fill="#151515"/>
<rect x="1307.0" y="1904" width="2.4" height="10.5" fill="#151515"/>
<rect x="1536.3" y="1904" width="2.4" height="10.5" fill="#151515"/>
<rect x="1765.5" y="1904" width="2.4" height="10.5" fill="#151515"/>
<rect x="1994.8" y="1904" width="2.4" height="10.5" fill="#151515"/>
<rect x="275.5" y="1904" width="2.2" height="7.5" fill="#2a2a2a"/>
<rect x="504.8" y="1904" width="2.2" height="7.5" fill="#2a2a2a"/>
<rect x="734.0" y="1904" width="2.2" height="7.5" fill="#2a2a2a"/>
<rect x="963.3" y="1904" width="2.2" height="7.5" fill="#2a2a2a"/>
<rect x="1192.5" y="1904" width="2.2" height="7.5" fill="#2a2a2a"/>
<rect x="1421.8" y="1904" width="2.2" height="7.5" fill="#2a2a2a"/>
<rect x="1651.0" y="1904" width="2.2" height="7.5" fill="#2a2a2a"/>
<rect x="1880.3" y="1904" width="2.2" height="7.5" fill="#2a2a2a"/>
<g transform="translate(1856.27,90.60) scale(1.0085,1.0641)"><text x="0" y="0" font-size="60" font-weight="bold" fill="#000" >CuO</text></g>
<g transform="translate(1658.60,302.97) scale(1.0013,1.0325)"><text x="0" y="0" font-size="60" font-weight="bold" fill="#000" >Cu:W=1:0.5</text></g>
<g transform="translate(1707.53,579.76) scale(0.9906,1.0375)"><text x="0" y="0" font-size="60" font-weight="bold" fill="#000" >Cu:W=1:1</text></g>
<g transform="translate(1658.60,836.99) scale(1.0013,1.0125)"><text x="0" y="0" font-size="60" font-weight="bold" fill="#000" >Cu:W=1:1.5</text></g>
<g transform="translate(1704.01,1075.29) scale(0.9962,1.0075)"><text x="0" y="0" font-size="60" font-weight="bold" fill="#000" >Cu:W=1:2</text></g>
<g transform="translate(1704.01,1306.99) scale(0.9962,1.0100)"><text x="0" y="0" font-size="60" font-weight="bold" fill="#000" >Cu:W=1:5</text></g>
<g transform="translate(1672.51,1534.26) scale(0.9976,1.0375)"><text x="0" y="0" font-size="60" font-weight="bold" fill="#000" >Cu:W=1:10</text></g>
<g transform="translate(1845.51,1763.82) scale(0.9913,0.9825)"><text x="0" y="0" font-size="60" font-weight="bold" fill="#000" >WO</text></g>
<g transform="translate(1948.96,1789.50) scale(1.1714,1.0682)"><text x="0" y="0" font-size="34" font-weight="normal" fill="#000" >3</text></g>
<g transform="translate(815.02,91.10) scale(0.9883,0.9367)"><text x="0" y="0" font-size="54" font-weight="bold" fill="#e616e6" >(11-1)</text></g>
<g transform="translate(972.97,101.79) scale(1.0140,0.9286)"><text x="0" y="0" font-size="54" font-weight="bold" fill="#e616e6" >(111)</text></g>
<g transform="translate(1423.34,170.36) scale(0.9779,0.9306)"><text x="0" y="0" font-size="54" font-weight="bold" fill="#e616e6" >(20-2)</text></g>
<g transform="translate(302.70,264.00) rotate(-90) scale(1.0000,1.0000)"><text x="0" y="0" font-size="53.5" font-weight="bold" fill="#000" >(002)</text></g>
<g transform="translate(344.35,253.00) rotate(-90) scale(1.0000,1.0000)"><text x="0" y="0" font-size="53.5" font-weight="bold" fill="#000" >(020)</text></g>
<g transform="translate(390.70,263.00) rotate(-90) scale(1.0000,1.0000)"><text x="0" y="0" font-size="53.5" font-weight="bold" fill="#000" >(200)</text></g>
<g transform="translate(480.10,426.10) rotate(-90) scale(1.0000,1.0000)"><text x="0" y="0" font-size="53.5" font-weight="bold" fill="#000" >(120)</text></g>
<g transform="translate(580.50,436.50) rotate(-90) scale(1.0000,1.0000)"><text x="0" y="0" font-size="53.5" font-weight="bold" fill="#000" >(112)</text></g>
<g transform="translate(784.15,388.30) rotate(-90) scale(1.0000,1.0000)"><text x="0" y="0" font-size="53.5" font-weight="bold" fill="#000" >(022)</text></g>
<g transform="translate(829.70,349.90) rotate(-90) scale(1.0000,1.0000)"><text x="0" y="0" font-size="53.5" font-weight="bold" fill="#000" >(202)</text></g>
<g transform="translate(888.50,428.25) rotate(-90) scale(1.0000,1.0000)"><text x="0" y="0" font-size="53.5" font-weight="bold" fill="#000" >(122)</text></g>
<g transform="translate(1174.15,441.50) rotate(-90) scale(1.0000,1.0000)"><text x="0" y="0" font-size="53.5" font-weight="bold" fill="#000" >(222)</text></g>
<g transform="translate(1430.70,447.45) rotate(-90) scale(1.0000,1.0000)"><text x="0" y="0" font-size="53.5" font-weight="bold" fill="#000" >(004)</text></g>
<g transform="translate(1476.45,453.35) rotate(-90) scale(1.0000,1.0000)"><text x="0" y="0" font-size="53.5" font-weight="bold" fill="#000" >(040)</text></g>
<g transform="translate(1551.90,415.90) rotate(-90) scale(1.0000,1.0000)"><text x="0" y="0" font-size="53.5" font-weight="bold" fill="#000" >(140)</text></g>
<g transform="translate(1691.05,450.95) rotate(-90) scale(1.0000,1.0000)"><text x="0" y="0" font-size="53.5" font-weight="bold" fill="#000" >(024)</text></g>
<g transform="translate(1737.50,440.70) rotate(-90) scale(1.0000,1.0000)"><text x="0" y="0" font-size="53.5" font-weight="bold" fill="#000" >(042)</text></g>
<g transform="translate(1784.25,433.70) rotate(-90) scale(1.0000,1.0000)"><text x="0" y="0" font-size="53.5" font-weight="bold" fill="#000" >(240)</text></g>
<g transform="translate(1835.00,428.40) rotate(-90) scale(1.0000,1.0000)"><text x="0" y="0" font-size="53.5" font-weight="bold" fill="#000" >(420)</text></g>
<g transform="translate(130.30,1963.80) scale(1.0000,1.0400)"><text x="0" y="0" font-size="60" font-weight="bold" fill="#000" >20</text></g>
<g transform="translate(359.55,1963.80) scale(1.0000,1.0400)"><text x="0" y="0" font-size="60" font-weight="bold" fill="#000" >25</text></g>
<g transform="translate(589.30,1963.80) scale(1.0000,1.0400)"><text x="0" y="0" font-size="60" font-weight="bold" fill="#000" >30</text></g>
<g transform="translate(818.55,1963.80) scale(1.0000,1.0400)"><text x="0" y="0" font-size="60" font-weight="bold" fill="#000" >35</text></g>
<g transform="translate(1048.30,1963.80) scale(1.0000,1.0400)"><text x="0" y="0" font-size="60" font-weight="bold" fill="#000" >40</text></g>
<g transform="translate(1277.55,1963.80) scale(1.0000,1.0400)"><text x="0" y="0" font-size="60" font-weight="bold" fill="#000" >45</text></g>
<g transform="translate(1506.30,1963.80) scale(1.0000,1.0400)"><text x="0" y="0" font-size="60" font-weight="bold" fill="#000" >50</text></g>
<g transform="translate(1735.55,1963.80) scale(1.0000,1.0400)"><text x="0" y="0" font-size="60" font-weight="bold" fill="#000" >55</text></g>
<g transform="translate(1964.80,1963.80) scale(1.0000,1.0400)"><text x="0" y="0" font-size="60" font-weight="bold" fill="#000" >60</text></g>
<g transform="translate(867.68,2077.60) scale(1.0054,1.0100)"><text x="0" y="0" font-size="90" font-weight="bold" fill="#000" >2</text></g>
<g transform="translate(910.81,2076.68) scale(1.1229,0.9156)"><text x="0" y="0" font-size="88" font-weight="normal" fill="#000" stroke="#000" stroke-width="1.2">θ</text></g>
<g transform="translate(979.26,2076.51) scale(1.0091,0.9519)"><text x="0" y="0" font-size="88" font-weight="bold" fill="#000" >(degree)</text></g>
<g transform="translate(84.53,1216.60) rotate(-90) scale(0.9987,0.9671)"><text x="0" y="0" font-size="90" font-weight="bold" fill="#000" >Intensity (a.u.)</text></g>
</svg></body></html>
